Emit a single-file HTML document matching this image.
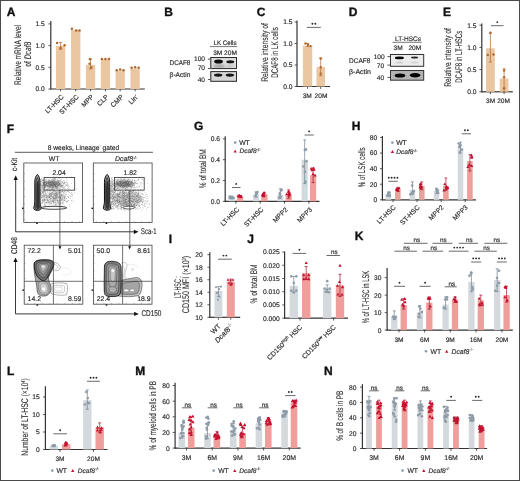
<!DOCTYPE html>
<html><head><meta charset="utf-8"><style>html,body{margin:0;padding:0;background:#fff;width:520px;height:481px;overflow:hidden}svg{display:block;will-change:transform}</style></head>
<body><svg width="520" height="481" viewBox="0 0 520 481" font-family='"Liberation Sans", sans-serif' text-rendering="geometricPrecision"><rect x="0.5" y="0.5" width="519" height="480" fill="#fff" stroke="#4a4a4a" stroke-width="1"/>
<text x="6.80" y="16.20" font-size="12" text-anchor="start" fill="#111" stroke="#111" stroke-width="0.35" font-weight="bold">A</text>
<line x1="50.80" y1="21.00" x2="50.80" y2="89.50" stroke="#333333" stroke-width="1.2"/>
<line x1="48.40" y1="23.90" x2="50.80" y2="23.90" stroke="#333333" stroke-width="0.8"/>
<text x="44.70" y="26.30" font-size="6.7" text-anchor="end" fill="#2a2a2a" stroke="#2a2a2a" stroke-width="0.16">1.5</text>
<line x1="48.40" y1="45.60" x2="50.80" y2="45.60" stroke="#333333" stroke-width="0.8"/>
<text x="44.70" y="48.00" font-size="6.7" text-anchor="end" fill="#2a2a2a" stroke="#2a2a2a" stroke-width="0.16">1.0</text>
<line x1="48.40" y1="67.30" x2="50.80" y2="67.30" stroke="#333333" stroke-width="0.8"/>
<text x="44.70" y="69.70" font-size="6.7" text-anchor="end" fill="#2a2a2a" stroke="#2a2a2a" stroke-width="0.16">0.5</text>
<line x1="48.40" y1="89.00" x2="50.80" y2="89.00" stroke="#333333" stroke-width="0.8"/>
<text x="44.70" y="91.40" font-size="6.7" text-anchor="end" fill="#2a2a2a" stroke="#2a2a2a" stroke-width="0.16">0.0</text>
<line x1="50.50" y1="89.00" x2="144.80" y2="89.00" stroke="#333333" stroke-width="1.2"/>
<line x1="60.60" y1="89.00" x2="60.60" y2="91.40" stroke="#333333" stroke-width="0.8"/>
<line x1="75.70" y1="89.00" x2="75.70" y2="91.40" stroke="#333333" stroke-width="0.8"/>
<line x1="90.60" y1="89.00" x2="90.60" y2="91.40" stroke="#333333" stroke-width="0.8"/>
<line x1="105.40" y1="89.00" x2="105.40" y2="91.40" stroke="#333333" stroke-width="0.8"/>
<line x1="120.20" y1="89.00" x2="120.20" y2="91.40" stroke="#333333" stroke-width="0.8"/>
<line x1="135.10" y1="89.00" x2="135.10" y2="91.40" stroke="#333333" stroke-width="0.8"/>
<rect x="55.95" y="45.82" width="9.30" height="43.18" fill="#EAC6A1"/>
<line x1="60.60" y1="49.29" x2="60.60" y2="42.56" stroke="#AE672C" stroke-width="0.7"/>
<line x1="59.00" y1="42.56" x2="62.20" y2="42.56" stroke="#AE672C" stroke-width="0.7"/>
<line x1="59.00" y1="49.29" x2="62.20" y2="49.29" stroke="#AE672C" stroke-width="0.7"/>
<circle cx="57.10" cy="43.00" r="1.25" fill="#AE672C"/>
<circle cx="64.60" cy="45.17" r="1.25" fill="#AE672C"/>
<circle cx="60.60" cy="47.99" r="1.25" fill="#AE672C"/>
<rect x="71.05" y="29.98" width="9.30" height="59.02" fill="#EAC6A1"/>
<circle cx="71.90" cy="28.67" r="1.25" fill="#AE672C"/>
<circle cx="76.20" cy="30.41" r="1.25" fill="#AE672C"/>
<circle cx="79.50" cy="30.41" r="1.25" fill="#AE672C"/>
<rect x="85.95" y="64.87" width="9.30" height="24.13" fill="#EAC6A1"/>
<line x1="90.60" y1="68.82" x2="90.60" y2="58.84" stroke="#AE672C" stroke-width="0.7"/>
<line x1="89.00" y1="58.84" x2="92.20" y2="58.84" stroke="#AE672C" stroke-width="0.7"/>
<line x1="89.00" y1="68.82" x2="92.20" y2="68.82" stroke="#AE672C" stroke-width="0.7"/>
<circle cx="90.00" cy="59.27" r="1.25" fill="#AE672C"/>
<circle cx="89.60" cy="63.83" r="1.25" fill="#AE672C"/>
<circle cx="91.20" cy="67.52" r="1.25" fill="#AE672C"/>
<rect x="100.75" y="59.23" width="9.30" height="29.77" fill="#EAC6A1"/>
<circle cx="101.90" cy="59.05" r="1.25" fill="#AE672C"/>
<circle cx="105.40" cy="59.05" r="1.25" fill="#AE672C"/>
<circle cx="108.90" cy="59.05" r="1.25" fill="#AE672C"/>
<rect x="115.55" y="70.64" width="9.30" height="18.36" fill="#EAC6A1"/>
<circle cx="116.70" cy="70.34" r="1.25" fill="#AE672C"/>
<circle cx="120.20" cy="69.47" r="1.25" fill="#AE672C"/>
<circle cx="123.50" cy="70.34" r="1.25" fill="#AE672C"/>
<rect x="130.45" y="68.60" width="9.30" height="20.40" fill="#EAC6A1"/>
<circle cx="131.60" cy="67.73" r="1.25" fill="#AE672C"/>
<circle cx="135.10" cy="67.30" r="1.25" fill="#AE672C"/>
<circle cx="138.60" cy="67.73" r="1.25" fill="#AE672C"/>
<text x="64.20" y="97.30" font-size="6.7" text-anchor="end" fill="#2a2a2a" stroke="#2a2a2a" stroke-width="0.16" transform="rotate(-45 64.20 97.30)">LT-HSC</text>
<text x="79.30" y="97.30" font-size="6.7" text-anchor="end" fill="#2a2a2a" stroke="#2a2a2a" stroke-width="0.16" transform="rotate(-45 79.30 97.30)">ST-HSC</text>
<text x="94.20" y="97.30" font-size="6.7" text-anchor="end" fill="#2a2a2a" stroke="#2a2a2a" stroke-width="0.16" transform="rotate(-45 94.20 97.30)">MPP</text>
<text x="109.00" y="97.30" font-size="6.7" text-anchor="end" fill="#2a2a2a" stroke="#2a2a2a" stroke-width="0.16" transform="rotate(-45 109.00 97.30)">CLP</text>
<text x="123.80" y="97.30" font-size="6.7" text-anchor="end" fill="#2a2a2a" stroke="#2a2a2a" stroke-width="0.16" transform="rotate(-45 123.80 97.30)">CMP</text>
<text x="138.70" y="97.30" font-size="6.7" text-anchor="end" fill="#2a2a2a" stroke="#2a2a2a" stroke-width="0.16" transform="rotate(-45 138.70 97.30)">Lin<tspan font-size="4.5" dy="-2.5">-</tspan></text>
<text x="20.80" y="55.00" font-size="9.6" text-anchor="middle" fill="#2a2a2a" stroke="#2a2a2a" stroke-width="0.08" transform="rotate(-90 20.80 55.00)" textLength="60" lengthAdjust="spacingAndGlyphs">Relative mRNA level</text>
<text x="31.10" y="54.20" font-size="9.6" text-anchor="middle" fill="#2a2a2a" stroke="#2a2a2a" stroke-width="0.08" transform="rotate(-90 31.10 54.20)" textLength="25" lengthAdjust="spacingAndGlyphs">of <tspan font-style="italic">Dcaf8</tspan></text>
<text x="164.30" y="16.20" font-size="12" text-anchor="start" fill="#111" stroke="#111" stroke-width="0.35" font-weight="bold">B</text>
<text x="225.00" y="45.00" font-size="6.6" text-anchor="middle" fill="#2a2a2a" stroke="#2a2a2a" stroke-width="0.16" textLength="23" lengthAdjust="spacingAndGlyphs">LK Cells</text>
<line x1="210.00" y1="46.60" x2="237.30" y2="46.60" stroke="#555" stroke-width="0.8"/>
<text x="217.80" y="54.70" font-size="6.6" text-anchor="middle" fill="#2a2a2a" stroke="#2a2a2a" stroke-width="0.16">3M</text>
<text x="230.50" y="54.70" font-size="6.6" text-anchor="middle" fill="#2a2a2a" stroke="#2a2a2a" stroke-width="0.16">20M</text>
<text x="169.60" y="65.30" font-size="6.8" text-anchor="start" fill="#2a2a2a" stroke="#2a2a2a" stroke-width="0.16" textLength="20.8" lengthAdjust="spacingAndGlyphs">DCAF8</text>
<text x="169.60" y="77.30" font-size="6.8" text-anchor="start" fill="#2a2a2a" stroke="#2a2a2a" stroke-width="0.16" textLength="20.8" lengthAdjust="spacingAndGlyphs">&#946;-Actin</text>
<text x="205.00" y="61.00" font-size="6.6" text-anchor="end" fill="#2a2a2a" stroke="#2a2a2a" stroke-width="0.16">100</text>
<text x="205.00" y="70.20" font-size="6.6" text-anchor="end" fill="#2a2a2a" stroke="#2a2a2a" stroke-width="0.16">70</text>
<text x="205.00" y="81.80" font-size="6.6" text-anchor="end" fill="#2a2a2a" stroke="#2a2a2a" stroke-width="0.16">40</text>
<line x1="207.90" y1="59.10" x2="210.50" y2="59.10" stroke="#444" stroke-width="0.9"/>
<line x1="207.90" y1="68.50" x2="210.50" y2="68.50" stroke="#444" stroke-width="0.9"/>
<line x1="207.90" y1="79.50" x2="210.50" y2="79.50" stroke="#444" stroke-width="0.9"/>
<text x="256.80" y="16.20" font-size="12" text-anchor="start" fill="#111" stroke="#111" stroke-width="0.35" font-weight="bold">C</text>
<line x1="297.00" y1="20.50" x2="297.00" y2="87.00" stroke="#333333" stroke-width="1.2"/>
<line x1="294.60" y1="22.00" x2="297.00" y2="22.00" stroke="#333333" stroke-width="0.8"/>
<text x="292.60" y="24.40" font-size="6.7" text-anchor="end" fill="#2a2a2a" stroke="#2a2a2a" stroke-width="0.16">1.5</text>
<line x1="294.60" y1="43.50" x2="297.00" y2="43.50" stroke="#333333" stroke-width="0.8"/>
<text x="292.60" y="45.90" font-size="6.7" text-anchor="end" fill="#2a2a2a" stroke="#2a2a2a" stroke-width="0.16">1.0</text>
<line x1="294.60" y1="65.00" x2="297.00" y2="65.00" stroke="#333333" stroke-width="0.8"/>
<text x="292.60" y="67.40" font-size="6.7" text-anchor="end" fill="#2a2a2a" stroke="#2a2a2a" stroke-width="0.16">0.5</text>
<line x1="294.60" y1="86.50" x2="297.00" y2="86.50" stroke="#333333" stroke-width="0.8"/>
<text x="292.60" y="88.90" font-size="6.7" text-anchor="end" fill="#2a2a2a" stroke="#2a2a2a" stroke-width="0.16">0.0</text>
<line x1="296.50" y1="86.50" x2="330.00" y2="86.50" stroke="#333333" stroke-width="1.2"/>
<line x1="307.60" y1="86.50" x2="307.60" y2="88.90" stroke="#333333" stroke-width="0.8"/>
<line x1="320.70" y1="86.50" x2="320.70" y2="88.90" stroke="#333333" stroke-width="0.8"/>
<rect x="302.95" y="45.65" width="9.30" height="40.85" fill="#EAC6A1"/>
<rect x="316.45" y="67.15" width="8.50" height="19.35" fill="#EAC6A1"/>
<line x1="307.60" y1="46.51" x2="307.60" y2="43.50" stroke="#AE672C" stroke-width="0.7"/>
<line x1="306.00" y1="43.50" x2="309.20" y2="43.50" stroke="#AE672C" stroke-width="0.7"/>
<line x1="306.00" y1="46.51" x2="309.20" y2="46.51" stroke="#AE672C" stroke-width="0.7"/>
<line x1="320.70" y1="75.75" x2="320.70" y2="58.12" stroke="#AE672C" stroke-width="0.7"/>
<line x1="319.10" y1="58.12" x2="322.30" y2="58.12" stroke="#AE672C" stroke-width="0.7"/>
<line x1="319.10" y1="75.75" x2="322.30" y2="75.75" stroke="#AE672C" stroke-width="0.7"/>
<circle cx="305.50" cy="43.50" r="1.2" fill="#AE672C"/>
<circle cx="308.00" cy="44.79" r="1.2" fill="#AE672C"/>
<circle cx="310.50" cy="46.08" r="1.2" fill="#AE672C"/>
<circle cx="320.70" cy="58.55" r="1.2" fill="#AE672C"/>
<circle cx="320.70" cy="67.15" r="1.2" fill="#AE672C"/>
<circle cx="320.70" cy="73.60" r="1.2" fill="#AE672C"/>
<line x1="306.90" y1="27.40" x2="320.80" y2="27.40" stroke="#444" stroke-width="0.8"/>
<circle cx="312.40" cy="23.80" r="0.95" fill="#2a2a2a"/>
<circle cx="315.30" cy="23.80" r="0.95" fill="#2a2a2a"/>
<text x="307.30" y="98.20" font-size="6.6" text-anchor="middle" fill="#2a2a2a" stroke="#2a2a2a" stroke-width="0.16">3M</text>
<text x="321.00" y="98.20" font-size="6.6" text-anchor="middle" fill="#2a2a2a" stroke="#2a2a2a" stroke-width="0.16">20M</text>
<text x="268.00" y="52.45" font-size="9.6" text-anchor="middle" fill="#2a2a2a" stroke="#2a2a2a" stroke-width="0.08" transform="rotate(-90 268.00 52.45)" textLength="58.7" lengthAdjust="spacingAndGlyphs">Relative intensity of</text>
<text x="278.40" y="52.50" font-size="9.6" text-anchor="middle" fill="#2a2a2a" stroke="#2a2a2a" stroke-width="0.08" transform="rotate(-90 278.40 52.50)" textLength="50.6" lengthAdjust="spacingAndGlyphs">DCAF8 in LK cells</text>
<text x="348.80" y="16.20" font-size="12" text-anchor="start" fill="#111" stroke="#111" stroke-width="0.35" font-weight="bold">D</text>
<text x="408.00" y="40.60" font-size="6.6" text-anchor="middle" fill="#2a2a2a" stroke="#2a2a2a" stroke-width="0.16" textLength="26" lengthAdjust="spacingAndGlyphs">LT-HSCs</text>
<line x1="392.40" y1="42.30" x2="421.80" y2="42.30" stroke="#555" stroke-width="0.8"/>
<text x="398.20" y="50.40" font-size="6.6" text-anchor="middle" fill="#2a2a2a" stroke="#2a2a2a" stroke-width="0.16">3M</text>
<text x="414.80" y="50.40" font-size="6.6" text-anchor="middle" fill="#2a2a2a" stroke="#2a2a2a" stroke-width="0.16">20M</text>
<text x="349.00" y="62.70" font-size="6.8" text-anchor="start" fill="#2a2a2a" stroke="#2a2a2a" stroke-width="0.16" textLength="21.3" lengthAdjust="spacingAndGlyphs">DCAF8</text>
<text x="349.00" y="74.20" font-size="6.8" text-anchor="start" fill="#2a2a2a" stroke="#2a2a2a" stroke-width="0.16" textLength="22" lengthAdjust="spacingAndGlyphs">&#946;-Actin</text>
<text x="384.70" y="58.90" font-size="6.6" text-anchor="end" fill="#2a2a2a" stroke="#2a2a2a" stroke-width="0.16">100</text>
<text x="384.20" y="68.00" font-size="6.6" text-anchor="end" fill="#2a2a2a" stroke="#2a2a2a" stroke-width="0.16">70</text>
<text x="384.20" y="79.90" font-size="6.6" text-anchor="end" fill="#2a2a2a" stroke="#2a2a2a" stroke-width="0.16">40</text>
<line x1="387.40" y1="56.60" x2="390.40" y2="56.60" stroke="#444" stroke-width="0.9"/>
<line x1="387.40" y1="65.10" x2="390.40" y2="65.10" stroke="#444" stroke-width="0.9"/>
<line x1="387.40" y1="77.40" x2="390.40" y2="77.40" stroke="#444" stroke-width="0.9"/>
<text x="443.10" y="16.20" font-size="12" text-anchor="start" fill="#111" stroke="#111" stroke-width="0.35" font-weight="bold">E</text>
<line x1="481.80" y1="23.50" x2="481.80" y2="92.30" stroke="#333333" stroke-width="1.2"/>
<line x1="479.40" y1="25.20" x2="481.80" y2="25.20" stroke="#333333" stroke-width="0.8"/>
<text x="476.60" y="27.60" font-size="6.7" text-anchor="end" fill="#2a2a2a" stroke="#2a2a2a" stroke-width="0.16">1.5</text>
<line x1="479.40" y1="47.40" x2="481.80" y2="47.40" stroke="#333333" stroke-width="0.8"/>
<text x="476.60" y="49.80" font-size="6.7" text-anchor="end" fill="#2a2a2a" stroke="#2a2a2a" stroke-width="0.16">1.0</text>
<line x1="479.40" y1="69.60" x2="481.80" y2="69.60" stroke="#333333" stroke-width="0.8"/>
<text x="476.60" y="72.00" font-size="6.7" text-anchor="end" fill="#2a2a2a" stroke="#2a2a2a" stroke-width="0.16">0.5</text>
<line x1="479.40" y1="91.80" x2="481.80" y2="91.80" stroke="#333333" stroke-width="0.8"/>
<text x="476.60" y="94.20" font-size="6.7" text-anchor="end" fill="#2a2a2a" stroke="#2a2a2a" stroke-width="0.16">0.0</text>
<line x1="481.30" y1="91.80" x2="512.80" y2="91.80" stroke="#333333" stroke-width="1.2"/>
<line x1="490.40" y1="91.80" x2="490.40" y2="94.20" stroke="#333333" stroke-width="0.8"/>
<line x1="504.10" y1="91.80" x2="504.10" y2="94.20" stroke="#333333" stroke-width="0.8"/>
<rect x="486.00" y="48.29" width="8.80" height="43.51" fill="#EAC6A1"/>
<rect x="499.75" y="78.48" width="8.70" height="13.32" fill="#EAC6A1"/>
<line x1="490.40" y1="62.05" x2="490.40" y2="33.19" stroke="#AE672C" stroke-width="0.7"/>
<line x1="488.80" y1="33.19" x2="492.00" y2="33.19" stroke="#AE672C" stroke-width="0.7"/>
<line x1="488.80" y1="62.05" x2="492.00" y2="62.05" stroke="#AE672C" stroke-width="0.7"/>
<line x1="504.10" y1="91.80" x2="504.10" y2="68.71" stroke="#AE672C" stroke-width="0.7"/>
<line x1="502.50" y1="68.71" x2="505.70" y2="68.71" stroke="#AE672C" stroke-width="0.7"/>
<line x1="502.50" y1="91.80" x2="505.70" y2="91.80" stroke="#AE672C" stroke-width="0.7"/>
<circle cx="490.40" cy="32.75" r="1.2" fill="#AE672C"/>
<circle cx="487.80" cy="54.95" r="1.2" fill="#AE672C"/>
<circle cx="493.50" cy="54.50" r="1.2" fill="#AE672C"/>
<circle cx="504.10" cy="70.49" r="1.2" fill="#AE672C"/>
<circle cx="504.10" cy="77.15" r="1.2" fill="#AE672C"/>
<circle cx="504.10" cy="88.25" r="1.2" fill="#AE672C"/>
<line x1="491.00" y1="25.70" x2="503.50" y2="25.70" stroke="#444" stroke-width="0.8"/>
<circle cx="497.25" cy="22.10" r="0.95" fill="#2a2a2a"/>
<text x="490.60" y="102.70" font-size="6.6" text-anchor="middle" fill="#2a2a2a" stroke="#2a2a2a" stroke-width="0.16">3M</text>
<text x="503.60" y="102.70" font-size="6.6" text-anchor="middle" fill="#2a2a2a" stroke="#2a2a2a" stroke-width="0.16">20M</text>
<text x="451.40" y="57.40" font-size="9.6" text-anchor="middle" fill="#2a2a2a" stroke="#2a2a2a" stroke-width="0.08" transform="rotate(-90 451.40 57.40)" textLength="58.8" lengthAdjust="spacingAndGlyphs">Relative intensity of</text>
<text x="461.60" y="56.80" font-size="9.6" text-anchor="middle" fill="#2a2a2a" stroke="#2a2a2a" stroke-width="0.08" transform="rotate(-90 461.60 56.80)" textLength="52" lengthAdjust="spacingAndGlyphs">DCAF8 in LT-HSCs</text>
<text x="194.10" y="130.30" font-size="12" text-anchor="start" fill="#111" stroke="#111" stroke-width="0.35" font-weight="bold">G</text>
<line x1="225.20" y1="136.30" x2="225.20" y2="201.80" stroke="#333333" stroke-width="1.2"/>
<line x1="222.80" y1="138.90" x2="225.20" y2="138.90" stroke="#333333" stroke-width="0.8"/>
<text x="220.00" y="141.30" font-size="6.7" text-anchor="end" fill="#2a2a2a" stroke="#2a2a2a" stroke-width="0.16">0.6</text>
<line x1="222.80" y1="159.70" x2="225.20" y2="159.70" stroke="#333333" stroke-width="0.8"/>
<text x="220.00" y="162.10" font-size="6.7" text-anchor="end" fill="#2a2a2a" stroke="#2a2a2a" stroke-width="0.16">0.4</text>
<line x1="222.80" y1="180.50" x2="225.20" y2="180.50" stroke="#333333" stroke-width="0.8"/>
<text x="220.00" y="182.90" font-size="6.7" text-anchor="end" fill="#2a2a2a" stroke="#2a2a2a" stroke-width="0.16">0.2</text>
<line x1="222.80" y1="201.30" x2="225.20" y2="201.30" stroke="#333333" stroke-width="0.8"/>
<text x="220.00" y="203.70" font-size="6.7" text-anchor="end" fill="#2a2a2a" stroke="#2a2a2a" stroke-width="0.16">0.0</text>
<line x1="224.50" y1="201.30" x2="319.50" y2="201.30" stroke="#333333" stroke-width="1.2"/>
<line x1="235.90" y1="201.30" x2="235.90" y2="203.70" stroke="#333333" stroke-width="0.8"/>
<line x1="260.20" y1="201.30" x2="260.20" y2="203.70" stroke="#333333" stroke-width="0.8"/>
<line x1="284.50" y1="201.30" x2="284.50" y2="203.70" stroke="#333333" stroke-width="0.8"/>
<line x1="308.90" y1="201.30" x2="308.90" y2="203.70" stroke="#333333" stroke-width="0.8"/>
<rect x="228.60" y="197.14" width="6.20" height="4.16" fill="#D4D9DE"/>
<rect x="237.00" y="196.62" width="6.20" height="4.68" fill="#EF9E9C"/>
<line x1="231.70" y1="198.18" x2="231.70" y2="196.10" stroke="#6F7E8A" stroke-width="0.7"/>
<line x1="230.20" y1="196.10" x2="233.20" y2="196.10" stroke="#6F7E8A" stroke-width="0.7"/>
<line x1="230.20" y1="198.18" x2="233.20" y2="198.18" stroke="#6F7E8A" stroke-width="0.7"/>
<line x1="240.10" y1="197.66" x2="240.10" y2="195.58" stroke="#A8102A" stroke-width="0.7"/>
<line x1="238.60" y1="195.58" x2="241.60" y2="195.58" stroke="#A8102A" stroke-width="0.7"/>
<line x1="238.60" y1="197.66" x2="241.60" y2="197.66" stroke="#A8102A" stroke-width="0.7"/>
<circle cx="233.09" cy="197.90" r="1.3" fill="#8D9CA8"/>
<path d="M239.12 194.37L240.74 197.26L237.51 197.26Z" fill="#C5102F"/>
<circle cx="231.50" cy="197.15" r="1.3" fill="#8D9CA8"/>
<path d="M241.25 194.60L242.87 197.49L239.64 197.49Z" fill="#C5102F"/>
<circle cx="229.81" cy="197.98" r="1.3" fill="#8D9CA8"/>
<path d="M239.83 194.22L241.45 197.11L238.22 197.11Z" fill="#C5102F"/>
<circle cx="229.71" cy="196.59" r="1.3" fill="#8D9CA8"/>
<path d="M240.99 195.03L242.60 197.92L239.37 197.92Z" fill="#C5102F"/>
<circle cx="233.48" cy="197.70" r="1.3" fill="#8D9CA8"/>
<path d="M238.22 194.09L239.84 196.98L236.61 196.98Z" fill="#C5102F"/>
<circle cx="231.87" cy="198.13" r="1.3" fill="#8D9CA8"/>
<path d="M239.62 194.01L241.24 196.90L238.01 196.90Z" fill="#C5102F"/>
<rect x="252.90" y="194.54" width="6.20" height="6.76" fill="#D4D9DE"/>
<rect x="261.30" y="194.02" width="6.20" height="7.28" fill="#EF9E9C"/>
<line x1="256.00" y1="197.14" x2="256.00" y2="191.94" stroke="#6F7E8A" stroke-width="0.7"/>
<line x1="254.50" y1="191.94" x2="257.50" y2="191.94" stroke="#6F7E8A" stroke-width="0.7"/>
<line x1="254.50" y1="197.14" x2="257.50" y2="197.14" stroke="#6F7E8A" stroke-width="0.7"/>
<line x1="264.40" y1="196.10" x2="264.40" y2="192.46" stroke="#A8102A" stroke-width="0.7"/>
<line x1="262.90" y1="192.46" x2="265.90" y2="192.46" stroke="#A8102A" stroke-width="0.7"/>
<line x1="262.90" y1="196.10" x2="265.90" y2="196.10" stroke="#A8102A" stroke-width="0.7"/>
<circle cx="255.69" cy="196.01" r="1.3" fill="#8D9CA8"/>
<path d="M263.29 194.29L264.90 197.18L261.67 197.18Z" fill="#C5102F"/>
<circle cx="255.98" cy="194.86" r="1.3" fill="#8D9CA8"/>
<path d="M263.32 193.55L264.94 196.44L261.71 196.44Z" fill="#C5102F"/>
<circle cx="255.84" cy="196.00" r="1.3" fill="#8D9CA8"/>
<path d="M262.49 193.35L264.10 196.24L260.87 196.24Z" fill="#C5102F"/>
<circle cx="256.23" cy="192.78" r="1.3" fill="#8D9CA8"/>
<path d="M263.14 192.06L264.76 194.95L261.53 194.95Z" fill="#C5102F"/>
<circle cx="257.44" cy="191.98" r="1.3" fill="#8D9CA8"/>
<path d="M263.73 193.96L265.35 196.85L262.12 196.85Z" fill="#C5102F"/>
<circle cx="256.84" cy="193.39" r="1.3" fill="#8D9CA8"/>
<path d="M264.09 190.99L265.70 193.88L262.47 193.88Z" fill="#C5102F"/>
<rect x="277.20" y="195.06" width="6.20" height="6.24" fill="#D4D9DE"/>
<rect x="285.60" y="194.54" width="6.20" height="6.76" fill="#EF9E9C"/>
<line x1="280.30" y1="198.18" x2="280.30" y2="188.82" stroke="#6F7E8A" stroke-width="0.7"/>
<line x1="278.80" y1="188.82" x2="281.80" y2="188.82" stroke="#6F7E8A" stroke-width="0.7"/>
<line x1="278.80" y1="198.18" x2="281.80" y2="198.18" stroke="#6F7E8A" stroke-width="0.7"/>
<line x1="288.70" y1="198.18" x2="288.70" y2="189.86" stroke="#A8102A" stroke-width="0.7"/>
<line x1="287.20" y1="189.86" x2="290.20" y2="189.86" stroke="#A8102A" stroke-width="0.7"/>
<line x1="287.20" y1="198.18" x2="290.20" y2="198.18" stroke="#A8102A" stroke-width="0.7"/>
<circle cx="280.98" cy="190.41" r="1.3" fill="#8D9CA8"/>
<path d="M289.05 193.96L290.67 196.85L287.44 196.85Z" fill="#C5102F"/>
<circle cx="281.68" cy="189.92" r="1.3" fill="#8D9CA8"/>
<path d="M289.06 192.28L290.67 195.17L287.44 195.17Z" fill="#C5102F"/>
<circle cx="279.27" cy="197.86" r="1.3" fill="#8D9CA8"/>
<path d="M288.36 189.85L289.97 192.74L286.74 192.74Z" fill="#C5102F"/>
<circle cx="280.50" cy="196.56" r="1.3" fill="#8D9CA8"/>
<path d="M289.40 190.63L291.01 193.52L287.78 193.52Z" fill="#C5102F"/>
<circle cx="280.06" cy="194.67" r="1.3" fill="#8D9CA8"/>
<path d="M289.81 192.25L291.43 195.14L288.20 195.14Z" fill="#C5102F"/>
<circle cx="279.87" cy="193.30" r="1.3" fill="#8D9CA8"/>
<path d="M286.82 192.41L288.43 195.30L285.20 195.30Z" fill="#C5102F"/>
<rect x="301.60" y="159.70" width="6.20" height="41.60" fill="#D4D9DE"/>
<rect x="310.00" y="175.30" width="6.20" height="26.00" fill="#EF9E9C"/>
<line x1="304.70" y1="183.62" x2="304.70" y2="139.94" stroke="#6F7E8A" stroke-width="0.7"/>
<line x1="303.20" y1="139.94" x2="306.20" y2="139.94" stroke="#6F7E8A" stroke-width="0.7"/>
<line x1="303.20" y1="183.62" x2="306.20" y2="183.62" stroke="#6F7E8A" stroke-width="0.7"/>
<line x1="313.10" y1="182.58" x2="313.10" y2="168.02" stroke="#A8102A" stroke-width="0.7"/>
<line x1="311.60" y1="168.02" x2="314.60" y2="168.02" stroke="#A8102A" stroke-width="0.7"/>
<line x1="311.60" y1="182.58" x2="314.60" y2="182.58" stroke="#A8102A" stroke-width="0.7"/>
<circle cx="305.51" cy="181.72" r="1.3" fill="#8D9CA8"/>
<path d="M313.47 166.56L315.09 169.45L311.86 169.45Z" fill="#C5102F"/>
<circle cx="303.38" cy="166.43" r="1.3" fill="#8D9CA8"/>
<path d="M315.03 173.57L316.64 176.46L313.41 176.46Z" fill="#C5102F"/>
<circle cx="304.86" cy="149.96" r="1.3" fill="#8D9CA8"/>
<path d="M312.03 168.35L313.64 171.24L310.41 171.24Z" fill="#C5102F"/>
<circle cx="306.51" cy="161.18" r="1.3" fill="#8D9CA8"/>
<path d="M312.94 172.47L314.55 175.36L311.32 175.36Z" fill="#C5102F"/>
<circle cx="304.89" cy="171.86" r="1.3" fill="#8D9CA8"/>
<path d="M311.12 166.94L312.74 169.83L309.51 169.83Z" fill="#C5102F"/>
<circle cx="305.98" cy="149.39" r="1.3" fill="#8D9CA8"/>
<path d="M314.06 167.98L315.68 170.87L312.45 170.87Z" fill="#C5102F"/>
<line x1="232.00" y1="187.50" x2="240.50" y2="187.50" stroke="#444" stroke-width="0.8"/>
<circle cx="236.25" cy="183.90" r="0.95" fill="#2a2a2a"/>
<line x1="304.50" y1="135.00" x2="313.80" y2="135.00" stroke="#444" stroke-width="0.8"/>
<circle cx="309.15" cy="131.40" r="0.95" fill="#2a2a2a"/>
<text x="239.70" y="210.00" font-size="6.7" text-anchor="end" fill="#2a2a2a" stroke="#2a2a2a" stroke-width="0.16" transform="rotate(-45 239.70 210.00)">LT-HSC</text>
<text x="264.00" y="210.00" font-size="6.7" text-anchor="end" fill="#2a2a2a" stroke="#2a2a2a" stroke-width="0.16" transform="rotate(-45 264.00 210.00)">ST-HSC</text>
<text x="288.30" y="210.00" font-size="6.7" text-anchor="end" fill="#2a2a2a" stroke="#2a2a2a" stroke-width="0.16" transform="rotate(-45 288.30 210.00)">MPP2</text>
<text x="312.70" y="210.00" font-size="6.7" text-anchor="end" fill="#2a2a2a" stroke="#2a2a2a" stroke-width="0.16" transform="rotate(-45 312.70 210.00)">MPP3</text>
<text x="206.00" y="168.70" font-size="9.6" text-anchor="middle" fill="#2a2a2a" stroke="#2a2a2a" stroke-width="0.08" transform="rotate(-90 206.00 168.70)" textLength="39" lengthAdjust="spacingAndGlyphs">% of total BM</text>
<circle cx="235.20" cy="142.60" r="1.3" fill="#8D9CA8"/>
<text x="239.20" y="144.80" font-size="6.8" text-anchor="start" fill="#2a2a2a" stroke="#2a2a2a" stroke-width="0.16">WT</text>
<path d="M235.20 149.70L236.81 152.59L233.58 152.59Z" fill="#C5102F"/>
<text x="239.40" y="153.40" font-size="6.6" text-anchor="start" fill="#2a2a2a" stroke="#2a2a2a" stroke-width="0.16"><tspan font-style="italic">Dcaf8</tspan><tspan font-size="4.2" dy="-2.6">-/-</tspan></text>
<text x="351.80" y="130.20" font-size="12" text-anchor="start" fill="#111" stroke="#111" stroke-width="0.35" font-weight="bold">H</text>
<line x1="382.40" y1="136.00" x2="382.40" y2="200.30" stroke="#333333" stroke-width="1.2"/>
<line x1="380.00" y1="137.48" x2="382.40" y2="137.48" stroke="#333333" stroke-width="0.8"/>
<text x="377.20" y="139.88" font-size="6.7" text-anchor="end" fill="#2a2a2a" stroke="#2a2a2a" stroke-width="0.16">80</text>
<line x1="380.00" y1="153.06" x2="382.40" y2="153.06" stroke="#333333" stroke-width="0.8"/>
<text x="377.20" y="155.46" font-size="6.7" text-anchor="end" fill="#2a2a2a" stroke="#2a2a2a" stroke-width="0.16">60</text>
<line x1="380.00" y1="168.64" x2="382.40" y2="168.64" stroke="#333333" stroke-width="0.8"/>
<text x="377.20" y="171.04" font-size="6.7" text-anchor="end" fill="#2a2a2a" stroke="#2a2a2a" stroke-width="0.16">40</text>
<line x1="380.00" y1="184.22" x2="382.40" y2="184.22" stroke="#333333" stroke-width="0.8"/>
<text x="377.20" y="186.62" font-size="6.7" text-anchor="end" fill="#2a2a2a" stroke="#2a2a2a" stroke-width="0.16">20</text>
<line x1="380.00" y1="199.80" x2="382.40" y2="199.80" stroke="#333333" stroke-width="0.8"/>
<text x="377.20" y="202.20" font-size="6.7" text-anchor="end" fill="#2a2a2a" stroke="#2a2a2a" stroke-width="0.16">0</text>
<line x1="381.90" y1="199.80" x2="476.00" y2="199.80" stroke="#333333" stroke-width="1.2"/>
<line x1="393.10" y1="199.80" x2="393.10" y2="202.20" stroke="#333333" stroke-width="0.8"/>
<line x1="417.10" y1="199.80" x2="417.10" y2="202.20" stroke="#333333" stroke-width="0.8"/>
<line x1="441.20" y1="199.80" x2="441.20" y2="202.20" stroke="#333333" stroke-width="0.8"/>
<line x1="465.20" y1="199.80" x2="465.20" y2="202.20" stroke="#333333" stroke-width="0.8"/>
<rect x="385.60" y="193.57" width="5.60" height="6.23" fill="#D4D9DE"/>
<rect x="395.00" y="188.89" width="5.60" height="10.91" fill="#EF9E9C"/>
<line x1="388.40" y1="195.91" x2="388.40" y2="192.01" stroke="#6F7E8A" stroke-width="0.7"/>
<line x1="387.00" y1="192.01" x2="389.80" y2="192.01" stroke="#6F7E8A" stroke-width="0.7"/>
<line x1="387.00" y1="195.91" x2="389.80" y2="195.91" stroke="#6F7E8A" stroke-width="0.7"/>
<line x1="397.80" y1="191.23" x2="397.80" y2="187.34" stroke="#A8102A" stroke-width="0.7"/>
<line x1="396.40" y1="187.34" x2="399.20" y2="187.34" stroke="#A8102A" stroke-width="0.7"/>
<line x1="396.40" y1="191.23" x2="399.20" y2="191.23" stroke="#A8102A" stroke-width="0.7"/>
<circle cx="388.47" cy="192.75" r="1.3" fill="#8D9CA8"/>
<path d="M397.50 187.34L399.12 190.23L395.89 190.23Z" fill="#C5102F"/>
<circle cx="389.88" cy="195.69" r="1.3" fill="#8D9CA8"/>
<path d="M396.60 187.31L398.21 190.20L394.98 190.20Z" fill="#C5102F"/>
<circle cx="388.34" cy="193.94" r="1.3" fill="#8D9CA8"/>
<path d="M397.18 188.14L398.80 191.03L395.57 191.03Z" fill="#C5102F"/>
<circle cx="388.89" cy="193.81" r="1.3" fill="#8D9CA8"/>
<path d="M397.63 187.15L399.25 190.04L396.02 190.04Z" fill="#C5102F"/>
<circle cx="387.32" cy="195.80" r="1.3" fill="#8D9CA8"/>
<path d="M398.14 188.84L399.75 191.73L396.52 191.73Z" fill="#C5102F"/>
<circle cx="389.59" cy="192.55" r="1.3" fill="#8D9CA8"/>
<path d="M399.07 186.43L400.68 189.32L397.45 189.32Z" fill="#C5102F"/>
<rect x="409.60" y="190.06" width="5.60" height="9.74" fill="#D4D9DE"/>
<rect x="419.00" y="185.78" width="5.60" height="14.02" fill="#EF9E9C"/>
<line x1="412.40" y1="194.35" x2="412.40" y2="181.88" stroke="#6F7E8A" stroke-width="0.7"/>
<line x1="411.00" y1="181.88" x2="413.80" y2="181.88" stroke="#6F7E8A" stroke-width="0.7"/>
<line x1="411.00" y1="194.35" x2="413.80" y2="194.35" stroke="#6F7E8A" stroke-width="0.7"/>
<line x1="421.80" y1="189.67" x2="421.80" y2="181.88" stroke="#A8102A" stroke-width="0.7"/>
<line x1="420.40" y1="181.88" x2="423.20" y2="181.88" stroke="#A8102A" stroke-width="0.7"/>
<line x1="420.40" y1="189.67" x2="423.20" y2="189.67" stroke="#A8102A" stroke-width="0.7"/>
<circle cx="413.77" cy="191.17" r="1.3" fill="#8D9CA8"/>
<path d="M420.13 182.73L421.75 185.62L418.52 185.62Z" fill="#C5102F"/>
<circle cx="410.46" cy="194.14" r="1.3" fill="#8D9CA8"/>
<path d="M420.80 182.09L422.41 184.98L419.18 184.98Z" fill="#C5102F"/>
<circle cx="412.90" cy="192.98" r="1.3" fill="#8D9CA8"/>
<path d="M420.08 185.29L421.69 188.18L418.46 188.18Z" fill="#C5102F"/>
<circle cx="412.51" cy="192.36" r="1.3" fill="#8D9CA8"/>
<path d="M420.89 186.66L422.51 189.55L419.28 189.55Z" fill="#C5102F"/>
<circle cx="412.22" cy="185.48" r="1.3" fill="#8D9CA8"/>
<path d="M421.70 185.46L423.31 188.35L420.08 188.35Z" fill="#C5102F"/>
<circle cx="411.95" cy="194.05" r="1.3" fill="#8D9CA8"/>
<path d="M420.55 184.69L422.17 187.58L418.94 187.58Z" fill="#C5102F"/>
<rect x="433.70" y="190.84" width="5.60" height="8.96" fill="#D4D9DE"/>
<rect x="443.10" y="186.01" width="5.60" height="13.79" fill="#EF9E9C"/>
<line x1="436.50" y1="193.57" x2="436.50" y2="188.12" stroke="#6F7E8A" stroke-width="0.7"/>
<line x1="435.10" y1="188.12" x2="437.90" y2="188.12" stroke="#6F7E8A" stroke-width="0.7"/>
<line x1="435.10" y1="193.57" x2="437.90" y2="193.57" stroke="#6F7E8A" stroke-width="0.7"/>
<line x1="445.90" y1="190.45" x2="445.90" y2="177.99" stroke="#A8102A" stroke-width="0.7"/>
<line x1="444.50" y1="177.99" x2="447.30" y2="177.99" stroke="#A8102A" stroke-width="0.7"/>
<line x1="444.50" y1="190.45" x2="447.30" y2="190.45" stroke="#A8102A" stroke-width="0.7"/>
<circle cx="438.10" cy="192.97" r="1.3" fill="#8D9CA8"/>
<path d="M444.74 182.39L446.35 185.28L443.12 185.28Z" fill="#C5102F"/>
<circle cx="437.77" cy="190.27" r="1.3" fill="#8D9CA8"/>
<path d="M443.97 188.49L445.59 191.38L442.36 191.38Z" fill="#C5102F"/>
<circle cx="437.38" cy="192.77" r="1.3" fill="#8D9CA8"/>
<path d="M446.72 186.75L448.33 189.64L445.10 189.64Z" fill="#C5102F"/>
<circle cx="436.68" cy="189.87" r="1.3" fill="#8D9CA8"/>
<path d="M447.80 186.00L449.42 188.89L446.19 188.89Z" fill="#C5102F"/>
<circle cx="436.57" cy="189.22" r="1.3" fill="#8D9CA8"/>
<path d="M446.49 185.97L448.11 188.86L444.88 188.86Z" fill="#C5102F"/>
<circle cx="436.80" cy="191.41" r="1.3" fill="#8D9CA8"/>
<path d="M446.42 184.75L448.04 187.64L444.81 187.64Z" fill="#C5102F"/>
<rect x="457.70" y="147.61" width="5.60" height="52.19" fill="#D4D9DE"/>
<rect x="467.10" y="161.01" width="5.60" height="38.79" fill="#EF9E9C"/>
<line x1="460.50" y1="153.06" x2="460.50" y2="142.15" stroke="#6F7E8A" stroke-width="0.7"/>
<line x1="459.10" y1="142.15" x2="461.90" y2="142.15" stroke="#6F7E8A" stroke-width="0.7"/>
<line x1="459.10" y1="153.06" x2="461.90" y2="153.06" stroke="#6F7E8A" stroke-width="0.7"/>
<line x1="469.90" y1="170.98" x2="469.90" y2="154.62" stroke="#A8102A" stroke-width="0.7"/>
<line x1="468.50" y1="154.62" x2="471.30" y2="154.62" stroke="#A8102A" stroke-width="0.7"/>
<line x1="468.50" y1="170.98" x2="471.30" y2="170.98" stroke="#A8102A" stroke-width="0.7"/>
<circle cx="459.69" cy="152.42" r="1.3" fill="#8D9CA8"/>
<path d="M471.40 153.44L473.02 156.33L469.79 156.33Z" fill="#C5102F"/>
<circle cx="461.93" cy="149.72" r="1.3" fill="#8D9CA8"/>
<path d="M471.66 164.20L473.27 167.09L470.04 167.09Z" fill="#C5102F"/>
<circle cx="460.16" cy="144.95" r="1.3" fill="#8D9CA8"/>
<path d="M467.93 165.15L469.55 168.04L466.32 168.04Z" fill="#C5102F"/>
<circle cx="458.65" cy="143.48" r="1.3" fill="#8D9CA8"/>
<path d="M471.75 155.87L473.36 158.76L470.13 158.76Z" fill="#C5102F"/>
<circle cx="459.19" cy="146.84" r="1.3" fill="#8D9CA8"/>
<path d="M471.80 155.08L473.41 157.97L470.18 157.97Z" fill="#C5102F"/>
<circle cx="460.54" cy="145.38" r="1.3" fill="#8D9CA8"/>
<path d="M469.29 163.09L470.90 165.98L467.67 165.98Z" fill="#C5102F"/>
<line x1="388.40" y1="181.30" x2="397.80" y2="181.30" stroke="#444" stroke-width="0.8"/>
<circle cx="388.75" cy="177.70" r="0.95" fill="#2a2a2a"/>
<circle cx="391.65" cy="177.70" r="0.95" fill="#2a2a2a"/>
<circle cx="394.55" cy="177.70" r="0.95" fill="#2a2a2a"/>
<circle cx="397.45" cy="177.70" r="0.95" fill="#2a2a2a"/>
<line x1="461.80" y1="133.80" x2="471.00" y2="133.80" stroke="#444" stroke-width="0.8"/>
<circle cx="464.95" cy="130.20" r="0.95" fill="#2a2a2a"/>
<circle cx="467.85" cy="130.20" r="0.95" fill="#2a2a2a"/>
<text x="396.10" y="207.80" font-size="6.7" text-anchor="end" fill="#2a2a2a" stroke="#2a2a2a" stroke-width="0.16" transform="rotate(-45 396.10 207.80)">LT-HSC</text>
<text x="420.10" y="207.80" font-size="6.7" text-anchor="end" fill="#2a2a2a" stroke="#2a2a2a" stroke-width="0.16" transform="rotate(-45 420.10 207.80)">ST-HSC</text>
<text x="444.20" y="207.80" font-size="6.7" text-anchor="end" fill="#2a2a2a" stroke="#2a2a2a" stroke-width="0.16" transform="rotate(-45 444.20 207.80)">MPP2</text>
<text x="468.20" y="207.80" font-size="6.7" text-anchor="end" fill="#2a2a2a" stroke="#2a2a2a" stroke-width="0.16" transform="rotate(-45 468.20 207.80)">MPP3</text>
<text x="364.60" y="167.30" font-size="9.6" text-anchor="middle" fill="#2a2a2a" stroke="#2a2a2a" stroke-width="0.08" transform="rotate(-90 364.60 167.30)" textLength="40" lengthAdjust="spacingAndGlyphs">% of LSK cells</text>
<circle cx="392.40" cy="142.60" r="1.3" fill="#8D9CA8"/>
<text x="396.20" y="145.00" font-size="6.8" text-anchor="start" fill="#2a2a2a" stroke="#2a2a2a" stroke-width="0.16">WT</text>
<path d="M392.40 150.10L394.01 152.99L390.78 152.99Z" fill="#C5102F"/>
<text x="396.20" y="154.20" font-size="6.6" text-anchor="start" fill="#2a2a2a" stroke="#2a2a2a" stroke-width="0.16"><tspan font-style="italic">Dcaf8</tspan><tspan font-size="4.2" dy="-2.6">-/-</tspan></text>
<text x="168.70" y="243.40" font-size="12" text-anchor="start" fill="#111" stroke="#111" stroke-width="0.35" font-weight="bold">I</text>
<line x1="209.80" y1="252.30" x2="209.80" y2="317.80" stroke="#333333" stroke-width="1.2"/>
<line x1="207.40" y1="254.70" x2="209.80" y2="254.70" stroke="#333333" stroke-width="0.8"/>
<text x="202.80" y="257.10" font-size="6.7" text-anchor="end" fill="#2a2a2a" stroke="#2a2a2a" stroke-width="0.16">20</text>
<line x1="207.40" y1="267.22" x2="209.80" y2="267.22" stroke="#333333" stroke-width="0.8"/>
<text x="202.80" y="269.62" font-size="6.7" text-anchor="end" fill="#2a2a2a" stroke="#2a2a2a" stroke-width="0.16">18</text>
<line x1="207.40" y1="279.74" x2="209.80" y2="279.74" stroke="#333333" stroke-width="0.8"/>
<text x="202.80" y="282.14" font-size="6.7" text-anchor="end" fill="#2a2a2a" stroke="#2a2a2a" stroke-width="0.16">16</text>
<line x1="207.40" y1="292.26" x2="209.80" y2="292.26" stroke="#333333" stroke-width="0.8"/>
<text x="202.80" y="294.66" font-size="6.7" text-anchor="end" fill="#2a2a2a" stroke="#2a2a2a" stroke-width="0.16">14</text>
<line x1="207.40" y1="304.78" x2="209.80" y2="304.78" stroke="#333333" stroke-width="0.8"/>
<text x="202.80" y="307.18" font-size="6.7" text-anchor="end" fill="#2a2a2a" stroke="#2a2a2a" stroke-width="0.16">12</text>
<line x1="207.40" y1="317.30" x2="209.80" y2="317.30" stroke="#333333" stroke-width="0.8"/>
<text x="202.80" y="319.70" font-size="6.7" text-anchor="end" fill="#2a2a2a" stroke="#2a2a2a" stroke-width="0.16">10</text>
<line x1="209.30" y1="317.30" x2="240.20" y2="317.30" stroke="#333333" stroke-width="1.2"/>
<line x1="218.40" y1="317.30" x2="218.40" y2="319.70" stroke="#333333" stroke-width="0.8"/>
<line x1="230.80" y1="317.30" x2="230.80" y2="319.70" stroke="#333333" stroke-width="0.8"/>
<rect x="214.45" y="291.01" width="7.90" height="26.29" fill="#D4D9DE"/>
<rect x="226.80" y="281.62" width="8.00" height="35.68" fill="#EF9E9C"/>
<line x1="218.40" y1="296.64" x2="218.40" y2="286.63" stroke="#6F7E8A" stroke-width="0.7"/>
<line x1="216.80" y1="286.63" x2="220.00" y2="286.63" stroke="#6F7E8A" stroke-width="0.7"/>
<line x1="216.80" y1="296.64" x2="220.00" y2="296.64" stroke="#6F7E8A" stroke-width="0.7"/>
<line x1="230.80" y1="284.75" x2="230.80" y2="279.11" stroke="#A8102A" stroke-width="0.7"/>
<line x1="229.20" y1="279.11" x2="232.40" y2="279.11" stroke="#A8102A" stroke-width="0.7"/>
<line x1="229.20" y1="284.75" x2="232.40" y2="284.75" stroke="#A8102A" stroke-width="0.7"/>
<circle cx="216.00" cy="287.25" r="1.1" fill="#8D9CA8"/>
<circle cx="219.00" cy="289.13" r="1.1" fill="#8D9CA8"/>
<circle cx="221.00" cy="286.63" r="1.1" fill="#8D9CA8"/>
<circle cx="217.00" cy="292.89" r="1.1" fill="#8D9CA8"/>
<circle cx="219.50" cy="296.64" r="1.1" fill="#8D9CA8"/>
<circle cx="218.00" cy="299.77" r="1.1" fill="#8D9CA8"/>
<path d="M228.00 278.34L229.33 280.72L226.67 280.72Z" fill="#C5102F"/>
<path d="M230.50 278.97L231.83 281.35L229.17 281.35Z" fill="#C5102F"/>
<path d="M233.00 278.34L234.33 280.72L231.67 280.72Z" fill="#C5102F"/>
<path d="M229.00 281.47L230.33 283.85L227.67 283.85Z" fill="#C5102F"/>
<path d="M232.00 282.10L233.33 284.48L230.67 284.48Z" fill="#C5102F"/>
<path d="M230.80 283.35L232.13 285.73L229.47 285.73Z" fill="#C5102F"/>
<line x1="217.90" y1="259.20" x2="231.80" y2="259.20" stroke="#444" stroke-width="0.8"/>
<circle cx="223.40" cy="255.60" r="0.95" fill="#2a2a2a"/>
<circle cx="226.30" cy="255.60" r="0.95" fill="#2a2a2a"/>
<text x="221.20" y="326.80" font-size="7" text-anchor="end" fill="#2a2a2a" stroke="#2a2a2a" stroke-width="0.16" transform="rotate(-45 221.20 326.80)">WT</text>
<text x="234.00" y="326.80" font-size="7.2" text-anchor="end" fill="#2a2a2a" stroke="#2a2a2a" stroke-width="0.16" transform="rotate(-45 234.00 326.80)"><tspan font-style="italic">Dcaf8</tspan><tspan font-size="4.6" dy="-2.8" fill="#888" stroke="#888">-/-</tspan></text>
<text x="181.40" y="287.10" font-size="9.6" text-anchor="middle" fill="#2a2a2a" stroke="#2a2a2a" stroke-width="0.08" transform="rotate(-90 181.40 287.10)" textLength="21.8" lengthAdjust="spacingAndGlyphs">LT-HSC :</text>
<text x="188.80" y="284.50" font-size="9.6" text-anchor="middle" fill="#2a2a2a" stroke="#2a2a2a" stroke-width="0.08" transform="rotate(-90 188.80 284.50)" textLength="57.5" lengthAdjust="spacingAndGlyphs">CD150 MFI (&#215;10<tspan font-size="5.5" dy="-2.8">3</tspan><tspan dy="2.8">)</tspan></text>
<text x="247.20" y="243.40" font-size="12" text-anchor="start" fill="#111" stroke="#111" stroke-width="0.35" font-weight="bold">J</text>
<line x1="284.60" y1="251.50" x2="284.60" y2="318.70" stroke="#333333" stroke-width="1.2"/>
<line x1="282.20" y1="252.00" x2="284.60" y2="252.00" stroke="#333333" stroke-width="0.8"/>
<text x="279.80" y="254.40" font-size="6.7" text-anchor="end" fill="#2a2a2a" stroke="#2a2a2a" stroke-width="0.16">0.025</text>
<line x1="282.20" y1="265.24" x2="284.60" y2="265.24" stroke="#333333" stroke-width="0.8"/>
<text x="279.80" y="267.64" font-size="6.7" text-anchor="end" fill="#2a2a2a" stroke="#2a2a2a" stroke-width="0.16">0.020</text>
<line x1="282.20" y1="278.48" x2="284.60" y2="278.48" stroke="#333333" stroke-width="0.8"/>
<text x="279.80" y="280.88" font-size="6.7" text-anchor="end" fill="#2a2a2a" stroke="#2a2a2a" stroke-width="0.16">0.015</text>
<line x1="282.20" y1="291.72" x2="284.60" y2="291.72" stroke="#333333" stroke-width="0.8"/>
<text x="279.80" y="294.12" font-size="6.7" text-anchor="end" fill="#2a2a2a" stroke="#2a2a2a" stroke-width="0.16">0.010</text>
<line x1="282.20" y1="304.96" x2="284.60" y2="304.96" stroke="#333333" stroke-width="0.8"/>
<text x="279.80" y="307.36" font-size="6.7" text-anchor="end" fill="#2a2a2a" stroke="#2a2a2a" stroke-width="0.16">0.005</text>
<line x1="282.20" y1="318.20" x2="284.60" y2="318.20" stroke="#333333" stroke-width="0.8"/>
<text x="279.80" y="320.60" font-size="6.7" text-anchor="end" fill="#2a2a2a" stroke="#2a2a2a" stroke-width="0.16">0.000</text>
<line x1="284.10" y1="318.20" x2="348.00" y2="318.20" stroke="#333333" stroke-width="1.2"/>
<line x1="300.00" y1="318.20" x2="300.00" y2="320.60" stroke="#333333" stroke-width="0.8"/>
<line x1="333.60" y1="318.20" x2="333.60" y2="320.60" stroke="#333333" stroke-width="0.8"/>
<rect x="289.60" y="285.89" width="8.40" height="32.31" fill="#D4D9DE"/>
<line x1="293.80" y1="292.25" x2="293.80" y2="276.36" stroke="#6F7E8A" stroke-width="0.7"/>
<line x1="292.20" y1="276.36" x2="295.40" y2="276.36" stroke="#6F7E8A" stroke-width="0.7"/>
<line x1="292.20" y1="292.25" x2="295.40" y2="292.25" stroke="#6F7E8A" stroke-width="0.7"/>
<circle cx="291.30" cy="276.36" r="1.3" fill="#8D9CA8"/>
<circle cx="296.30" cy="276.36" r="1.3" fill="#8D9CA8"/>
<circle cx="293.80" cy="282.98" r="1.3" fill="#8D9CA8"/>
<circle cx="291.30" cy="290.66" r="1.3" fill="#8D9CA8"/>
<circle cx="296.30" cy="290.66" r="1.3" fill="#8D9CA8"/>
<circle cx="293.80" cy="292.51" r="1.3" fill="#8D9CA8"/>
<rect x="302.00" y="273.18" width="8.40" height="45.02" fill="#EF9E9C"/>
<line x1="306.20" y1="279.27" x2="306.20" y2="266.56" stroke="#A8102A" stroke-width="0.7"/>
<line x1="304.60" y1="266.56" x2="307.80" y2="266.56" stroke="#A8102A" stroke-width="0.7"/>
<line x1="304.60" y1="279.27" x2="307.80" y2="279.27" stroke="#A8102A" stroke-width="0.7"/>
<path d="M306.20 261.16L307.81 264.05L304.58 264.05Z" fill="#C5102F"/>
<path d="M303.70 273.34L305.31 276.23L302.08 276.23Z" fill="#C5102F"/>
<path d="M308.70 273.34L310.31 276.23L307.08 276.23Z" fill="#C5102F"/>
<path d="M303.70 277.31L305.31 280.20L302.08 280.20Z" fill="#C5102F"/>
<path d="M308.70 277.31L310.31 280.20L307.08 280.20Z" fill="#C5102F"/>
<path d="M306.20 276.78L307.81 279.67L304.58 279.67Z" fill="#C5102F"/>
<rect x="323.00" y="288.81" width="8.40" height="29.39" fill="#D4D9DE"/>
<line x1="327.20" y1="292.51" x2="327.20" y2="284.84" stroke="#6F7E8A" stroke-width="0.7"/>
<line x1="325.60" y1="284.84" x2="328.80" y2="284.84" stroke="#6F7E8A" stroke-width="0.7"/>
<line x1="325.60" y1="292.51" x2="328.80" y2="292.51" stroke="#6F7E8A" stroke-width="0.7"/>
<circle cx="327.20" cy="281.13" r="1.3" fill="#8D9CA8"/>
<circle cx="324.70" cy="288.54" r="1.3" fill="#8D9CA8"/>
<circle cx="329.70" cy="288.54" r="1.3" fill="#8D9CA8"/>
<circle cx="325.70" cy="291.72" r="1.3" fill="#8D9CA8"/>
<circle cx="328.70" cy="292.25" r="1.3" fill="#8D9CA8"/>
<circle cx="327.20" cy="289.60" r="1.3" fill="#8D9CA8"/>
<rect x="335.80" y="285.36" width="8.40" height="32.84" fill="#EF9E9C"/>
<line x1="340.00" y1="296.49" x2="340.00" y2="274.24" stroke="#A8102A" stroke-width="0.7"/>
<line x1="338.40" y1="274.24" x2="341.60" y2="274.24" stroke="#A8102A" stroke-width="0.7"/>
<line x1="338.40" y1="296.49" x2="341.60" y2="296.49" stroke="#A8102A" stroke-width="0.7"/>
<path d="M340.00 263.80L341.62 266.69L338.38 266.69Z" fill="#C5102F"/>
<path d="M339.50 280.22L341.12 283.11L337.88 283.11Z" fill="#C5102F"/>
<path d="M337.50 283.93L339.12 286.82L335.88 286.82Z" fill="#C5102F"/>
<path d="M342.50 285.25L344.12 288.14L340.88 288.14Z" fill="#C5102F"/>
<path d="M338.00 292.67L339.62 295.56L336.38 295.56Z" fill="#C5102F"/>
<path d="M342.00 292.93L343.62 295.82L340.38 295.82Z" fill="#C5102F"/>
<line x1="292.70" y1="253.40" x2="306.20" y2="253.40" stroke="#444" stroke-width="0.8"/>
<circle cx="299.45" cy="249.80" r="0.95" fill="#2a2a2a"/>
<line x1="326.50" y1="255.50" x2="340.00" y2="255.50" stroke="#444" stroke-width="0.8"/>
<text x="334.25" y="254.40" font-size="6.3" text-anchor="middle" fill="#2a2a2a" stroke="#2a2a2a" stroke-width="0.16">ns</text>
<text x="302.50" y="327.80" font-size="6.9" text-anchor="end" fill="#2a2a2a" stroke="#2a2a2a" stroke-width="0.16" transform="rotate(-45 302.50 327.80)">CD150<tspan font-size="4.4" dy="-2.7">high</tspan><tspan dy="2.7"> HSC</tspan></text>
<text x="336.30" y="327.80" font-size="6.9" text-anchor="end" fill="#2a2a2a" stroke="#2a2a2a" stroke-width="0.16" transform="rotate(-45 336.30 327.80)">CD150<tspan font-size="4.4" dy="-2.7">low</tspan><tspan dy="2.7"> HSC</tspan></text>
<text x="257.30" y="284.00" font-size="9.6" text-anchor="middle" fill="#2a2a2a" stroke="#2a2a2a" stroke-width="0.08" transform="rotate(-90 257.30 284.00)" textLength="39" lengthAdjust="spacingAndGlyphs">% of total BM</text>
<text x="354.70" y="240.30" font-size="12" text-anchor="start" fill="#111" stroke="#111" stroke-width="0.35" font-weight="bold">K</text>
<line x1="387.10" y1="267.90" x2="387.10" y2="330.60" stroke="#333333" stroke-width="1.2"/>
<line x1="384.70" y1="277.60" x2="387.10" y2="277.60" stroke="#333333" stroke-width="0.8"/>
<text x="381.40" y="280.00" font-size="6.7" text-anchor="end" fill="#2a2a2a" stroke="#2a2a2a" stroke-width="0.16">30</text>
<line x1="384.70" y1="295.10" x2="387.10" y2="295.10" stroke="#333333" stroke-width="0.8"/>
<text x="381.40" y="297.50" font-size="6.7" text-anchor="end" fill="#2a2a2a" stroke="#2a2a2a" stroke-width="0.16">20</text>
<line x1="384.70" y1="312.60" x2="387.10" y2="312.60" stroke="#333333" stroke-width="0.8"/>
<text x="381.40" y="315.00" font-size="6.7" text-anchor="end" fill="#2a2a2a" stroke="#2a2a2a" stroke-width="0.16">10</text>
<line x1="384.70" y1="330.10" x2="387.10" y2="330.10" stroke="#333333" stroke-width="0.8"/>
<text x="381.40" y="332.50" font-size="6.7" text-anchor="end" fill="#2a2a2a" stroke="#2a2a2a" stroke-width="0.16">0</text>
<line x1="386.60" y1="330.10" x2="512.80" y2="330.10" stroke="#333333" stroke-width="1.2"/>
<line x1="399.00" y1="330.10" x2="399.00" y2="332.50" stroke="#333333" stroke-width="0.8"/>
<line x1="424.60" y1="330.10" x2="424.60" y2="332.50" stroke="#333333" stroke-width="0.8"/>
<line x1="450.30" y1="330.10" x2="450.30" y2="332.50" stroke="#333333" stroke-width="0.8"/>
<line x1="476.10" y1="330.10" x2="476.10" y2="332.50" stroke="#333333" stroke-width="0.8"/>
<line x1="501.90" y1="330.10" x2="501.90" y2="332.50" stroke="#333333" stroke-width="0.8"/>
<rect x="391.15" y="316.10" width="6.30" height="14.00" fill="#D4D9DE"/>
<rect x="400.55" y="305.08" width="6.30" height="25.02" fill="#EF9E9C"/>
<line x1="394.30" y1="319.60" x2="394.30" y2="310.85" stroke="#6F7E8A" stroke-width="0.7"/>
<line x1="392.80" y1="310.85" x2="395.80" y2="310.85" stroke="#6F7E8A" stroke-width="0.7"/>
<line x1="392.80" y1="319.60" x2="395.80" y2="319.60" stroke="#6F7E8A" stroke-width="0.7"/>
<line x1="403.70" y1="309.10" x2="403.70" y2="298.60" stroke="#A8102A" stroke-width="0.7"/>
<line x1="402.20" y1="298.60" x2="405.20" y2="298.60" stroke="#A8102A" stroke-width="0.7"/>
<line x1="402.20" y1="309.10" x2="405.20" y2="309.10" stroke="#A8102A" stroke-width="0.7"/>
<circle cx="395.00" cy="317.80" r="1.3" fill="#8D9CA8"/>
<path d="M402.48 302.85L404.09 305.74L400.86 305.74Z" fill="#C5102F"/>
<circle cx="394.96" cy="318.69" r="1.3" fill="#8D9CA8"/>
<path d="M403.70 304.29L405.31 307.18L402.08 307.18Z" fill="#C5102F"/>
<circle cx="395.79" cy="316.75" r="1.3" fill="#8D9CA8"/>
<path d="M401.77 297.95L403.39 300.84L400.16 300.84Z" fill="#C5102F"/>
<circle cx="393.61" cy="317.84" r="1.3" fill="#8D9CA8"/>
<path d="M404.83 297.04L406.45 299.93L403.22 299.93Z" fill="#C5102F"/>
<circle cx="393.15" cy="316.63" r="1.3" fill="#8D9CA8"/>
<path d="M405.05 300.32L406.67 303.21L403.44 303.21Z" fill="#C5102F"/>
<rect x="416.75" y="312.60" width="6.30" height="17.50" fill="#D4D9DE"/>
<rect x="426.15" y="302.62" width="6.30" height="27.48" fill="#EF9E9C"/>
<line x1="419.90" y1="317.85" x2="419.90" y2="305.60" stroke="#6F7E8A" stroke-width="0.7"/>
<line x1="418.40" y1="305.60" x2="421.40" y2="305.60" stroke="#6F7E8A" stroke-width="0.7"/>
<line x1="418.40" y1="317.85" x2="421.40" y2="317.85" stroke="#6F7E8A" stroke-width="0.7"/>
<line x1="429.30" y1="309.10" x2="429.30" y2="296.85" stroke="#A8102A" stroke-width="0.7"/>
<line x1="427.80" y1="296.85" x2="430.80" y2="296.85" stroke="#A8102A" stroke-width="0.7"/>
<line x1="427.80" y1="309.10" x2="430.80" y2="309.10" stroke="#A8102A" stroke-width="0.7"/>
<circle cx="419.28" cy="306.43" r="1.3" fill="#8D9CA8"/>
<path d="M430.05 296.59L431.66 299.48L428.43 299.48Z" fill="#C5102F"/>
<circle cx="421.84" cy="311.91" r="1.3" fill="#8D9CA8"/>
<path d="M430.20 304.53L431.82 307.42L428.59 307.42Z" fill="#C5102F"/>
<circle cx="418.58" cy="316.81" r="1.3" fill="#8D9CA8"/>
<path d="M428.15 296.24L429.77 299.13L426.54 299.13Z" fill="#C5102F"/>
<circle cx="420.30" cy="308.55" r="1.3" fill="#8D9CA8"/>
<path d="M428.77 297.10L430.39 299.99L427.16 299.99Z" fill="#C5102F"/>
<circle cx="419.06" cy="313.68" r="1.3" fill="#8D9CA8"/>
<path d="M429.72 296.77L431.33 299.66L428.10 299.66Z" fill="#C5102F"/>
<rect x="442.45" y="304.55" width="6.30" height="25.55" fill="#D4D9DE"/>
<rect x="451.85" y="299.48" width="6.30" height="30.62" fill="#EF9E9C"/>
<line x1="445.60" y1="309.10" x2="445.60" y2="296.85" stroke="#6F7E8A" stroke-width="0.7"/>
<line x1="444.10" y1="296.85" x2="447.10" y2="296.85" stroke="#6F7E8A" stroke-width="0.7"/>
<line x1="444.10" y1="309.10" x2="447.10" y2="309.10" stroke="#6F7E8A" stroke-width="0.7"/>
<line x1="455.00" y1="302.10" x2="455.00" y2="296.85" stroke="#A8102A" stroke-width="0.7"/>
<line x1="453.50" y1="296.85" x2="456.50" y2="296.85" stroke="#A8102A" stroke-width="0.7"/>
<line x1="453.50" y1="302.10" x2="456.50" y2="302.10" stroke="#A8102A" stroke-width="0.7"/>
<circle cx="447.15" cy="297.41" r="1.3" fill="#8D9CA8"/>
<path d="M455.20 299.69L456.82 302.58L453.59 302.58Z" fill="#C5102F"/>
<circle cx="443.76" cy="307.82" r="1.3" fill="#8D9CA8"/>
<path d="M456.46 300.02L458.08 302.91L454.85 302.91Z" fill="#C5102F"/>
<circle cx="446.91" cy="299.45" r="1.3" fill="#8D9CA8"/>
<path d="M455.46 298.61L457.08 301.50L453.85 301.50Z" fill="#C5102F"/>
<circle cx="445.11" cy="299.52" r="1.3" fill="#8D9CA8"/>
<path d="M453.89 297.40L455.51 300.29L452.28 300.29Z" fill="#C5102F"/>
<circle cx="444.67" cy="308.10" r="1.3" fill="#8D9CA8"/>
<path d="M455.26 295.72L456.87 298.61L453.64 298.61Z" fill="#C5102F"/>
<rect x="468.25" y="281.98" width="6.30" height="48.12" fill="#D4D9DE"/>
<rect x="477.65" y="300.35" width="6.30" height="29.75" fill="#EF9E9C"/>
<line x1="471.40" y1="291.60" x2="471.40" y2="272.35" stroke="#6F7E8A" stroke-width="0.7"/>
<line x1="469.90" y1="272.35" x2="472.90" y2="272.35" stroke="#6F7E8A" stroke-width="0.7"/>
<line x1="469.90" y1="291.60" x2="472.90" y2="291.60" stroke="#6F7E8A" stroke-width="0.7"/>
<line x1="480.80" y1="305.60" x2="480.80" y2="295.10" stroke="#A8102A" stroke-width="0.7"/>
<line x1="479.30" y1="295.10" x2="482.30" y2="295.10" stroke="#A8102A" stroke-width="0.7"/>
<line x1="479.30" y1="305.60" x2="482.30" y2="305.60" stroke="#A8102A" stroke-width="0.7"/>
<circle cx="471.23" cy="273.79" r="1.3" fill="#8D9CA8"/>
<path d="M481.95 300.99L483.56 303.88L480.33 303.88Z" fill="#C5102F"/>
<circle cx="469.45" cy="275.67" r="1.3" fill="#8D9CA8"/>
<path d="M479.17 296.86L480.78 299.75L477.55 299.75Z" fill="#C5102F"/>
<circle cx="472.94" cy="289.38" r="1.3" fill="#8D9CA8"/>
<path d="M479.76 303.48L481.37 306.37L478.14 306.37Z" fill="#C5102F"/>
<circle cx="471.08" cy="272.58" r="1.3" fill="#8D9CA8"/>
<path d="M479.47 302.69L481.08 305.58L477.85 305.58Z" fill="#C5102F"/>
<circle cx="472.38" cy="286.95" r="1.3" fill="#8D9CA8"/>
<path d="M482.44 302.82L484.06 305.71L480.83 305.71Z" fill="#C5102F"/>
<rect x="494.05" y="280.05" width="6.30" height="50.05" fill="#D4D9DE"/>
<rect x="503.45" y="295.10" width="6.30" height="35.00" fill="#EF9E9C"/>
<line x1="497.20" y1="291.60" x2="497.20" y2="268.85" stroke="#6F7E8A" stroke-width="0.7"/>
<line x1="495.70" y1="268.85" x2="498.70" y2="268.85" stroke="#6F7E8A" stroke-width="0.7"/>
<line x1="495.70" y1="291.60" x2="498.70" y2="291.60" stroke="#6F7E8A" stroke-width="0.7"/>
<line x1="506.60" y1="302.10" x2="506.60" y2="286.35" stroke="#A8102A" stroke-width="0.7"/>
<line x1="505.10" y1="286.35" x2="508.10" y2="286.35" stroke="#A8102A" stroke-width="0.7"/>
<line x1="505.10" y1="302.10" x2="508.10" y2="302.10" stroke="#A8102A" stroke-width="0.7"/>
<circle cx="499.08" cy="282.99" r="1.3" fill="#8D9CA8"/>
<path d="M505.78 286.08L507.39 288.97L504.16 288.97Z" fill="#C5102F"/>
<circle cx="497.11" cy="285.83" r="1.3" fill="#8D9CA8"/>
<path d="M507.21 298.82L508.82 301.71L505.59 301.71Z" fill="#C5102F"/>
<circle cx="495.24" cy="290.70" r="1.3" fill="#8D9CA8"/>
<path d="M505.78 284.92L507.40 287.81L504.17 287.81Z" fill="#C5102F"/>
<circle cx="497.00" cy="278.03" r="1.3" fill="#8D9CA8"/>
<path d="M504.85 295.47L506.47 298.36L503.24 298.36Z" fill="#C5102F"/>
<circle cx="499.08" cy="270.82" r="1.3" fill="#8D9CA8"/>
<path d="M505.05 285.13L506.66 288.02L503.43 288.02Z" fill="#C5102F"/>
<line x1="394.00" y1="286.30" x2="405.00" y2="286.30" stroke="#444" stroke-width="0.8"/>
<circle cx="399.50" cy="282.70" r="0.95" fill="#2a2a2a"/>
<line x1="419.60" y1="286.30" x2="430.60" y2="286.30" stroke="#444" stroke-width="0.8"/>
<circle cx="425.10" cy="282.70" r="0.95" fill="#2a2a2a"/>
<line x1="444.80" y1="286.80" x2="456.80" y2="286.80" stroke="#444" stroke-width="0.8"/>
<text x="451.80" y="285.70" font-size="6.3" text-anchor="middle" fill="#2a2a2a" stroke="#2a2a2a" stroke-width="0.16">ns</text>
<line x1="471.10" y1="262.00" x2="481.10" y2="262.00" stroke="#444" stroke-width="0.8"/>
<circle cx="473.20" cy="258.40" r="0.95" fill="#2a2a2a"/>
<circle cx="476.10" cy="258.40" r="0.95" fill="#2a2a2a"/>
<circle cx="479.00" cy="258.40" r="0.95" fill="#2a2a2a"/>
<line x1="496.90" y1="262.00" x2="506.90" y2="262.00" stroke="#444" stroke-width="0.8"/>
<circle cx="499.00" cy="258.40" r="0.95" fill="#2a2a2a"/>
<circle cx="501.90" cy="258.40" r="0.95" fill="#2a2a2a"/>
<circle cx="504.80" cy="258.40" r="0.95" fill="#2a2a2a"/>
<line x1="404.00" y1="243.30" x2="427.50" y2="243.30" stroke="#444" stroke-width="0.8"/>
<text x="416.75" y="242.20" font-size="6.3" text-anchor="middle" fill="#2a2a2a" stroke="#2a2a2a" stroke-width="0.16">ns</text>
<line x1="432.50" y1="243.30" x2="452.40" y2="243.30" stroke="#444" stroke-width="0.8"/>
<text x="443.45" y="242.20" font-size="6.3" text-anchor="middle" fill="#2a2a2a" stroke="#2a2a2a" stroke-width="0.16">ns</text>
<line x1="458.70" y1="243.30" x2="478.00" y2="243.30" stroke="#444" stroke-width="0.8"/>
<text x="469.35" y="242.20" font-size="6.3" text-anchor="middle" fill="#2a2a2a" stroke="#2a2a2a" stroke-width="0.16">ns</text>
<line x1="484.30" y1="243.30" x2="507.30" y2="243.30" stroke="#444" stroke-width="0.8"/>
<text x="496.80" y="242.20" font-size="6.3" text-anchor="middle" fill="#2a2a2a" stroke="#2a2a2a" stroke-width="0.16">ns</text>
<line x1="394.40" y1="251.20" x2="416.90" y2="251.20" stroke="#444" stroke-width="0.8"/>
<text x="406.65" y="250.10" font-size="6.3" text-anchor="middle" fill="#2a2a2a" stroke="#2a2a2a" stroke-width="0.16">ns</text>
<line x1="422.50" y1="251.20" x2="443.10" y2="251.20" stroke="#444" stroke-width="0.8"/>
<text x="433.80" y="250.10" font-size="6.3" text-anchor="middle" fill="#2a2a2a" stroke="#2a2a2a" stroke-width="0.16">ns</text>
<line x1="448.70" y1="251.20" x2="468.60" y2="251.20" stroke="#444" stroke-width="0.8"/>
<circle cx="454.30" cy="247.60" r="0.95" fill="#2a2a2a"/>
<circle cx="457.20" cy="247.60" r="0.95" fill="#2a2a2a"/>
<circle cx="460.10" cy="247.60" r="0.95" fill="#2a2a2a"/>
<circle cx="463.00" cy="247.60" r="0.95" fill="#2a2a2a"/>
<line x1="474.40" y1="251.20" x2="496.80" y2="251.20" stroke="#444" stroke-width="0.8"/>
<text x="486.60" y="250.10" font-size="6.3" text-anchor="middle" fill="#2a2a2a" stroke="#2a2a2a" stroke-width="0.16">ns</text>
<text x="399.00" y="342.30" font-size="6.6" text-anchor="middle" fill="#2a2a2a" stroke="#2a2a2a" stroke-width="0.16">3M</text>
<text x="424.60" y="342.30" font-size="6.6" text-anchor="middle" fill="#2a2a2a" stroke="#2a2a2a" stroke-width="0.16">6M</text>
<text x="450.30" y="342.30" font-size="6.6" text-anchor="middle" fill="#2a2a2a" stroke="#2a2a2a" stroke-width="0.16">9M</text>
<text x="476.10" y="342.30" font-size="6.6" text-anchor="middle" fill="#2a2a2a" stroke="#2a2a2a" stroke-width="0.16">16M</text>
<text x="501.90" y="342.30" font-size="6.6" text-anchor="middle" fill="#2a2a2a" stroke="#2a2a2a" stroke-width="0.16">20M</text>
<text x="368.70" y="297.00" font-size="9.6" text-anchor="middle" fill="#2a2a2a" stroke="#2a2a2a" stroke-width="0.08" transform="rotate(-90 368.70 297.00)" textLength="52.4" lengthAdjust="spacingAndGlyphs">% of LT-HSC in LSK</text>
<text x="7.00" y="374.60" font-size="12" text-anchor="start" fill="#111" stroke="#111" stroke-width="0.35" font-weight="bold">L</text>
<line x1="45.40" y1="386.30" x2="45.40" y2="450.00" stroke="#333333" stroke-width="1.2"/>
<line x1="43.00" y1="397.00" x2="45.40" y2="397.00" stroke="#333333" stroke-width="0.8"/>
<text x="39.80" y="399.40" font-size="6.7" text-anchor="end" fill="#2a2a2a" stroke="#2a2a2a" stroke-width="0.16">15</text>
<line x1="43.00" y1="414.50" x2="45.40" y2="414.50" stroke="#333333" stroke-width="0.8"/>
<text x="39.80" y="416.90" font-size="6.7" text-anchor="end" fill="#2a2a2a" stroke="#2a2a2a" stroke-width="0.16">10</text>
<line x1="43.00" y1="432.00" x2="45.40" y2="432.00" stroke="#333333" stroke-width="0.8"/>
<text x="39.80" y="434.40" font-size="6.7" text-anchor="end" fill="#2a2a2a" stroke="#2a2a2a" stroke-width="0.16">5</text>
<line x1="43.00" y1="449.50" x2="45.40" y2="449.50" stroke="#333333" stroke-width="0.8"/>
<text x="39.80" y="451.90" font-size="6.7" text-anchor="end" fill="#2a2a2a" stroke="#2a2a2a" stroke-width="0.16">0</text>
<line x1="44.90" y1="449.50" x2="107.50" y2="449.50" stroke="#333333" stroke-width="1.2"/>
<line x1="60.00" y1="449.50" x2="60.00" y2="451.90" stroke="#333333" stroke-width="0.8"/>
<line x1="93.50" y1="449.50" x2="93.50" y2="451.90" stroke="#333333" stroke-width="0.8"/>
<rect x="49.60" y="445.65" width="8.40" height="3.85" fill="#D4D9DE"/>
<line x1="53.80" y1="446.35" x2="53.80" y2="444.95" stroke="#6F7E8A" stroke-width="0.7"/>
<line x1="52.20" y1="444.95" x2="55.40" y2="444.95" stroke="#6F7E8A" stroke-width="0.7"/>
<line x1="52.20" y1="446.35" x2="55.40" y2="446.35" stroke="#6F7E8A" stroke-width="0.7"/>
<circle cx="54.39" cy="446.05" r="1.3" fill="#8D9CA8"/>
<circle cx="54.01" cy="444.98" r="1.3" fill="#8D9CA8"/>
<circle cx="54.61" cy="445.39" r="1.3" fill="#8D9CA8"/>
<circle cx="54.01" cy="445.99" r="1.3" fill="#8D9CA8"/>
<circle cx="52.53" cy="445.92" r="1.3" fill="#8D9CA8"/>
<rect x="62.00" y="444.25" width="8.40" height="5.25" fill="#EF9E9C"/>
<line x1="66.20" y1="445.65" x2="66.20" y2="442.50" stroke="#A8102A" stroke-width="0.7"/>
<line x1="64.60" y1="442.50" x2="67.80" y2="442.50" stroke="#A8102A" stroke-width="0.7"/>
<line x1="64.60" y1="445.65" x2="67.80" y2="445.65" stroke="#A8102A" stroke-width="0.7"/>
<path d="M65.10 443.69L66.72 446.58L63.49 446.58Z" fill="#C5102F"/>
<path d="M65.94 440.85L67.55 443.74L64.32 443.74Z" fill="#C5102F"/>
<path d="M66.92 441.90L68.53 444.79L65.30 444.79Z" fill="#C5102F"/>
<path d="M65.65 440.99L67.27 443.88L64.04 443.88Z" fill="#C5102F"/>
<path d="M65.34 442.98L66.95 445.87L63.72 445.87Z" fill="#C5102F"/>
<rect x="83.10" y="400.15" width="8.40" height="49.35" fill="#D4D9DE"/>
<line x1="87.30" y1="409.25" x2="87.30" y2="390.00" stroke="#6F7E8A" stroke-width="0.7"/>
<line x1="85.70" y1="390.00" x2="88.90" y2="390.00" stroke="#6F7E8A" stroke-width="0.7"/>
<line x1="85.70" y1="409.25" x2="88.90" y2="409.25" stroke="#6F7E8A" stroke-width="0.7"/>
<circle cx="89.04" cy="403.15" r="1.3" fill="#8D9CA8"/>
<circle cx="86.31" cy="392.05" r="1.3" fill="#8D9CA8"/>
<circle cx="87.52" cy="402.81" r="1.3" fill="#8D9CA8"/>
<circle cx="87.78" cy="398.10" r="1.3" fill="#8D9CA8"/>
<circle cx="84.90" cy="404.53" r="1.3" fill="#8D9CA8"/>
<rect x="95.50" y="427.45" width="8.40" height="22.05" fill="#EF9E9C"/>
<line x1="99.70" y1="432.70" x2="99.70" y2="422.90" stroke="#A8102A" stroke-width="0.7"/>
<line x1="98.10" y1="422.90" x2="101.30" y2="422.90" stroke="#A8102A" stroke-width="0.7"/>
<line x1="98.10" y1="432.70" x2="101.30" y2="432.70" stroke="#A8102A" stroke-width="0.7"/>
<path d="M97.56 428.61L99.18 431.50L95.95 431.50Z" fill="#C5102F"/>
<path d="M97.55 425.60L99.17 428.49L95.94 428.49Z" fill="#C5102F"/>
<path d="M100.38 430.26L101.99 433.15L98.76 433.15Z" fill="#C5102F"/>
<path d="M101.16 428.15L102.78 431.04L99.55 431.04Z" fill="#C5102F"/>
<path d="M101.51 426.17L103.13 429.06L99.90 429.06Z" fill="#C5102F"/>
<line x1="53.30" y1="433.80" x2="67.00" y2="433.80" stroke="#444" stroke-width="0.8"/>
<circle cx="60.15" cy="430.20" r="0.95" fill="#2a2a2a"/>
<line x1="87.00" y1="381.30" x2="100.00" y2="381.30" stroke="#444" stroke-width="0.8"/>
<circle cx="90.60" cy="377.70" r="0.95" fill="#2a2a2a"/>
<circle cx="93.50" cy="377.70" r="0.95" fill="#2a2a2a"/>
<circle cx="96.40" cy="377.70" r="0.95" fill="#2a2a2a"/>
<text x="60.00" y="461.00" font-size="6.6" text-anchor="middle" fill="#2a2a2a" stroke="#2a2a2a" stroke-width="0.16">3M</text>
<text x="93.50" y="461.00" font-size="6.6" text-anchor="middle" fill="#2a2a2a" stroke="#2a2a2a" stroke-width="0.16">20M</text>
<text x="28.20" y="417.00" font-size="9.6" text-anchor="middle" fill="#2a2a2a" stroke="#2a2a2a" stroke-width="0.08" transform="rotate(-90 28.20 417.00)" textLength="77.5" lengthAdjust="spacingAndGlyphs">Number of LT-HSC (&#215;10<tspan font-size="5.5" dy="-2.8">4</tspan><tspan dy="2.8">)</tspan></text>
<circle cx="52.30" cy="470.60" r="1.3" fill="#8D9CA8"/>
<text x="56.40" y="472.70" font-size="6.8" text-anchor="start" fill="#2a2a2a" stroke="#2a2a2a" stroke-width="0.16">WT</text>
<path d="M72.70 469.10L74.31 471.99L71.09 471.99Z" fill="#C5102F"/>
<text x="77.80" y="472.80" font-size="6.6" text-anchor="start" fill="#2a2a2a" stroke="#2a2a2a" stroke-width="0.16"><tspan font-style="italic">Dcaf8</tspan><tspan font-size="4.2" dy="-2.6">-/-</tspan></text>
<text x="135.20" y="375.40" font-size="12" text-anchor="start" fill="#111" stroke="#111" stroke-width="0.35" font-weight="bold">M</text>
<line x1="175.10" y1="382.70" x2="175.10" y2="448.60" stroke="#333333" stroke-width="1.2"/>
<line x1="172.70" y1="385.50" x2="175.10" y2="385.50" stroke="#333333" stroke-width="0.8"/>
<text x="169.70" y="387.90" font-size="6.7" text-anchor="end" fill="#2a2a2a" stroke="#2a2a2a" stroke-width="0.16">80</text>
<line x1="172.70" y1="401.15" x2="175.10" y2="401.15" stroke="#333333" stroke-width="0.8"/>
<text x="169.70" y="403.55" font-size="6.7" text-anchor="end" fill="#2a2a2a" stroke="#2a2a2a" stroke-width="0.16">60</text>
<line x1="172.70" y1="416.80" x2="175.10" y2="416.80" stroke="#333333" stroke-width="0.8"/>
<text x="169.70" y="419.20" font-size="6.7" text-anchor="end" fill="#2a2a2a" stroke="#2a2a2a" stroke-width="0.16">40</text>
<line x1="172.70" y1="432.45" x2="175.10" y2="432.45" stroke="#333333" stroke-width="0.8"/>
<text x="169.70" y="434.85" font-size="6.7" text-anchor="end" fill="#2a2a2a" stroke="#2a2a2a" stroke-width="0.16">20</text>
<line x1="172.70" y1="448.10" x2="175.10" y2="448.10" stroke="#333333" stroke-width="0.8"/>
<text x="169.70" y="450.50" font-size="6.7" text-anchor="end" fill="#2a2a2a" stroke="#2a2a2a" stroke-width="0.16">0</text>
<line x1="174.60" y1="448.10" x2="300.60" y2="448.10" stroke="#333333" stroke-width="1.2"/>
<line x1="186.50" y1="448.10" x2="186.50" y2="450.50" stroke="#333333" stroke-width="0.8"/>
<line x1="212.20" y1="448.10" x2="212.20" y2="450.50" stroke="#333333" stroke-width="0.8"/>
<line x1="237.90" y1="448.10" x2="237.90" y2="450.50" stroke="#333333" stroke-width="0.8"/>
<line x1="263.60" y1="448.10" x2="263.60" y2="450.50" stroke="#333333" stroke-width="0.8"/>
<line x1="289.30" y1="448.10" x2="289.30" y2="450.50" stroke="#333333" stroke-width="0.8"/>
<rect x="178.50" y="432.45" width="6.60" height="15.65" fill="#D4D9DE"/>
<rect x="187.90" y="427.75" width="6.60" height="20.35" fill="#EF9E9C"/>
<line x1="181.80" y1="437.93" x2="181.80" y2="424.62" stroke="#6F7E8A" stroke-width="0.7"/>
<line x1="180.30" y1="424.62" x2="183.30" y2="424.62" stroke="#6F7E8A" stroke-width="0.7"/>
<line x1="180.30" y1="437.93" x2="183.30" y2="437.93" stroke="#6F7E8A" stroke-width="0.7"/>
<line x1="191.20" y1="434.80" x2="191.20" y2="421.50" stroke="#A8102A" stroke-width="0.7"/>
<line x1="189.70" y1="421.50" x2="192.70" y2="421.50" stroke="#A8102A" stroke-width="0.7"/>
<line x1="189.70" y1="434.80" x2="192.70" y2="434.80" stroke="#A8102A" stroke-width="0.7"/>
<circle cx="180.28" cy="437.93" r="1.3" fill="#8D9CA8"/>
<path d="M191.21 433.10L192.82 435.99L189.59 435.99Z" fill="#C5102F"/>
<circle cx="183.10" cy="436.22" r="1.3" fill="#8D9CA8"/>
<path d="M189.34 431.25L190.95 434.14L187.72 434.14Z" fill="#C5102F"/>
<circle cx="183.65" cy="420.68" r="1.3" fill="#8D9CA8"/>
<path d="M189.14 418.00L190.75 420.89L187.52 420.89Z" fill="#C5102F"/>
<circle cx="183.30" cy="433.06" r="1.3" fill="#8D9CA8"/>
<path d="M189.69 415.32L191.31 418.21L188.08 418.21Z" fill="#C5102F"/>
<circle cx="183.84" cy="422.44" r="1.3" fill="#8D9CA8"/>
<path d="M190.99 418.28L192.61 421.17L189.38 421.17Z" fill="#C5102F"/>
<circle cx="182.11" cy="430.02" r="1.3" fill="#8D9CA8"/>
<path d="M190.14 422.51L191.76 425.40L188.53 425.40Z" fill="#C5102F"/>
<circle cx="182.45" cy="428.43" r="1.3" fill="#8D9CA8"/>
<path d="M191.18 425.38L192.79 428.27L189.56 428.27Z" fill="#C5102F"/>
<circle cx="183.59" cy="426.19" r="1.3" fill="#8D9CA8"/>
<path d="M192.86 414.49L194.48 417.38L191.25 417.38Z" fill="#C5102F"/>
<circle cx="181.24" cy="433.34" r="1.3" fill="#8D9CA8"/>
<path d="M192.95 420.32L194.56 423.21L191.33 423.21Z" fill="#C5102F"/>
<circle cx="182.93" cy="426.93" r="1.3" fill="#8D9CA8"/>
<path d="M191.27 430.41L192.88 433.30L189.65 433.30Z" fill="#C5102F"/>
<circle cx="183.15" cy="422.39" r="1.3" fill="#8D9CA8"/>
<path d="M189.61 427.55L191.23 430.44L188.00 430.44Z" fill="#C5102F"/>
<circle cx="181.56" cy="426.04" r="1.3" fill="#8D9CA8"/>
<path d="M190.90 415.18L192.52 418.07L189.29 418.07Z" fill="#C5102F"/>
<rect x="204.20" y="433.23" width="6.60" height="14.87" fill="#D4D9DE"/>
<rect x="213.60" y="435.58" width="6.60" height="12.52" fill="#EF9E9C"/>
<line x1="207.50" y1="438.71" x2="207.50" y2="424.62" stroke="#6F7E8A" stroke-width="0.7"/>
<line x1="206.00" y1="424.62" x2="209.00" y2="424.62" stroke="#6F7E8A" stroke-width="0.7"/>
<line x1="206.00" y1="438.71" x2="209.00" y2="438.71" stroke="#6F7E8A" stroke-width="0.7"/>
<line x1="216.90" y1="438.71" x2="216.90" y2="431.67" stroke="#A8102A" stroke-width="0.7"/>
<line x1="215.40" y1="431.67" x2="218.40" y2="431.67" stroke="#A8102A" stroke-width="0.7"/>
<line x1="215.40" y1="438.71" x2="218.40" y2="438.71" stroke="#A8102A" stroke-width="0.7"/>
<circle cx="206.02" cy="438.71" r="1.3" fill="#8D9CA8"/>
<path d="M216.13 437.01L217.75 439.90L214.52 439.90Z" fill="#C5102F"/>
<circle cx="205.86" cy="436.50" r="1.3" fill="#8D9CA8"/>
<path d="M218.70 436.37L220.31 439.26L217.08 439.26Z" fill="#C5102F"/>
<circle cx="206.39" cy="417.62" r="1.3" fill="#8D9CA8"/>
<path d="M217.36 430.72L218.98 433.61L215.75 433.61Z" fill="#C5102F"/>
<circle cx="206.40" cy="423.73" r="1.3" fill="#8D9CA8"/>
<path d="M217.10 433.90L218.71 436.79L215.48 436.79Z" fill="#C5102F"/>
<circle cx="206.99" cy="429.62" r="1.3" fill="#8D9CA8"/>
<path d="M218.95 434.99L220.56 437.88L217.33 437.88Z" fill="#C5102F"/>
<circle cx="207.82" cy="416.89" r="1.3" fill="#8D9CA8"/>
<path d="M214.70 432.99L216.32 435.88L213.09 435.88Z" fill="#C5102F"/>
<circle cx="208.75" cy="422.24" r="1.3" fill="#8D9CA8"/>
<path d="M215.60 432.92L217.21 435.81L213.98 435.81Z" fill="#C5102F"/>
<circle cx="206.64" cy="427.71" r="1.3" fill="#8D9CA8"/>
<path d="M214.72 434.55L216.33 437.44L213.10 437.44Z" fill="#C5102F"/>
<circle cx="207.87" cy="424.58" r="1.3" fill="#8D9CA8"/>
<path d="M217.98 433.26L219.60 436.15L216.37 436.15Z" fill="#C5102F"/>
<circle cx="208.07" cy="424.93" r="1.3" fill="#8D9CA8"/>
<path d="M218.08 433.92L219.69 436.81L216.46 436.81Z" fill="#C5102F"/>
<circle cx="208.42" cy="418.72" r="1.3" fill="#8D9CA8"/>
<path d="M214.90 434.47L216.51 437.36L213.28 437.36Z" fill="#C5102F"/>
<circle cx="208.19" cy="423.32" r="1.3" fill="#8D9CA8"/>
<path d="M217.36 435.76L218.98 438.65L215.75 438.65Z" fill="#C5102F"/>
<rect x="229.90" y="430.89" width="6.60" height="17.21" fill="#D4D9DE"/>
<rect x="239.30" y="433.23" width="6.60" height="14.87" fill="#EF9E9C"/>
<line x1="233.20" y1="435.58" x2="233.20" y2="425.41" stroke="#6F7E8A" stroke-width="0.7"/>
<line x1="231.70" y1="425.41" x2="234.70" y2="425.41" stroke="#6F7E8A" stroke-width="0.7"/>
<line x1="231.70" y1="435.58" x2="234.70" y2="435.58" stroke="#6F7E8A" stroke-width="0.7"/>
<line x1="242.60" y1="437.15" x2="242.60" y2="427.75" stroke="#A8102A" stroke-width="0.7"/>
<line x1="241.10" y1="427.75" x2="244.10" y2="427.75" stroke="#A8102A" stroke-width="0.7"/>
<line x1="241.10" y1="437.15" x2="244.10" y2="437.15" stroke="#A8102A" stroke-width="0.7"/>
<circle cx="231.92" cy="435.58" r="1.3" fill="#8D9CA8"/>
<path d="M241.31 435.45L242.93 438.34L239.70 438.34Z" fill="#C5102F"/>
<circle cx="234.90" cy="434.23" r="1.3" fill="#8D9CA8"/>
<path d="M241.58 434.09L243.20 436.98L239.97 436.98Z" fill="#C5102F"/>
<circle cx="233.25" cy="431.89" r="1.3" fill="#8D9CA8"/>
<path d="M243.99 426.37L245.60 429.26L242.37 429.26Z" fill="#C5102F"/>
<circle cx="231.76" cy="426.03" r="1.3" fill="#8D9CA8"/>
<path d="M244.64 423.26L246.26 426.15L243.03 426.15Z" fill="#C5102F"/>
<circle cx="233.74" cy="421.34" r="1.3" fill="#8D9CA8"/>
<path d="M241.24 431.09L242.85 433.98L239.62 433.98Z" fill="#C5102F"/>
<circle cx="233.32" cy="427.02" r="1.3" fill="#8D9CA8"/>
<path d="M243.71 432.25L245.32 435.14L242.09 435.14Z" fill="#C5102F"/>
<circle cx="231.47" cy="431.39" r="1.3" fill="#8D9CA8"/>
<path d="M240.64 423.13L242.26 426.02L239.03 426.02Z" fill="#C5102F"/>
<circle cx="235.24" cy="428.34" r="1.3" fill="#8D9CA8"/>
<path d="M242.06 425.05L243.68 427.94L240.45 427.94Z" fill="#C5102F"/>
<circle cx="234.15" cy="430.86" r="1.3" fill="#8D9CA8"/>
<path d="M240.60 432.99L242.22 435.88L238.99 435.88Z" fill="#C5102F"/>
<circle cx="233.55" cy="423.27" r="1.3" fill="#8D9CA8"/>
<path d="M240.47 421.65L242.08 424.54L238.85 424.54Z" fill="#C5102F"/>
<circle cx="231.57" cy="424.03" r="1.3" fill="#8D9CA8"/>
<path d="M240.59 422.22L242.20 425.11L238.97 425.11Z" fill="#C5102F"/>
<circle cx="234.02" cy="430.28" r="1.3" fill="#8D9CA8"/>
<path d="M244.67 423.20L246.28 426.09L243.05 426.09Z" fill="#C5102F"/>
<rect x="255.60" y="423.06" width="6.60" height="25.04" fill="#D4D9DE"/>
<rect x="265.00" y="420.71" width="6.60" height="27.39" fill="#EF9E9C"/>
<line x1="258.90" y1="427.75" x2="258.90" y2="418.37" stroke="#6F7E8A" stroke-width="0.7"/>
<line x1="257.40" y1="418.37" x2="260.40" y2="418.37" stroke="#6F7E8A" stroke-width="0.7"/>
<line x1="257.40" y1="427.75" x2="260.40" y2="427.75" stroke="#6F7E8A" stroke-width="0.7"/>
<line x1="268.30" y1="424.62" x2="268.30" y2="417.58" stroke="#A8102A" stroke-width="0.7"/>
<line x1="266.80" y1="417.58" x2="269.80" y2="417.58" stroke="#A8102A" stroke-width="0.7"/>
<line x1="266.80" y1="424.62" x2="269.80" y2="424.62" stroke="#A8102A" stroke-width="0.7"/>
<circle cx="259.52" cy="429.32" r="1.3" fill="#8D9CA8"/>
<path d="M267.17 422.93L268.78 425.81L265.55 425.81Z" fill="#C5102F"/>
<circle cx="256.96" cy="428.18" r="1.3" fill="#8D9CA8"/>
<path d="M270.21 422.28L271.83 425.17L268.60 425.17Z" fill="#C5102F"/>
<circle cx="259.00" cy="422.35" r="1.3" fill="#8D9CA8"/>
<path d="M269.97 420.93L271.59 423.82L268.36 423.82Z" fill="#C5102F"/>
<circle cx="259.87" cy="424.48" r="1.3" fill="#8D9CA8"/>
<path d="M268.16 416.43L269.78 419.32L266.55 419.32Z" fill="#C5102F"/>
<circle cx="258.65" cy="418.08" r="1.3" fill="#8D9CA8"/>
<path d="M266.21 421.44L267.82 424.33L264.59 424.33Z" fill="#C5102F"/>
<circle cx="259.92" cy="417.65" r="1.3" fill="#8D9CA8"/>
<path d="M269.87 421.06L271.48 423.95L268.25 423.95Z" fill="#C5102F"/>
<circle cx="258.15" cy="421.16" r="1.3" fill="#8D9CA8"/>
<path d="M268.07 417.27L269.69 420.16L266.46 420.16Z" fill="#C5102F"/>
<circle cx="260.36" cy="419.92" r="1.3" fill="#8D9CA8"/>
<path d="M266.53 419.06L268.14 421.95L264.91 421.95Z" fill="#C5102F"/>
<circle cx="259.56" cy="418.22" r="1.3" fill="#8D9CA8"/>
<path d="M269.39 418.87L271.01 421.76L267.78 421.76Z" fill="#C5102F"/>
<circle cx="258.13" cy="419.09" r="1.3" fill="#8D9CA8"/>
<path d="M270.37 421.80L271.98 424.69L268.75 424.69Z" fill="#C5102F"/>
<circle cx="259.23" cy="417.86" r="1.3" fill="#8D9CA8"/>
<path d="M268.93 417.55L270.55 420.44L267.32 420.44Z" fill="#C5102F"/>
<circle cx="259.72" cy="419.73" r="1.3" fill="#8D9CA8"/>
<path d="M269.30 417.21L270.92 420.10L267.69 420.10Z" fill="#C5102F"/>
<rect x="281.30" y="412.11" width="6.60" height="36.00" fill="#D4D9DE"/>
<rect x="290.70" y="402.72" width="6.60" height="45.38" fill="#EF9E9C"/>
<line x1="284.60" y1="415.24" x2="284.60" y2="410.54" stroke="#6F7E8A" stroke-width="0.7"/>
<line x1="283.10" y1="410.54" x2="286.10" y2="410.54" stroke="#6F7E8A" stroke-width="0.7"/>
<line x1="283.10" y1="415.24" x2="286.10" y2="415.24" stroke="#6F7E8A" stroke-width="0.7"/>
<line x1="294.00" y1="405.85" x2="294.00" y2="400.37" stroke="#A8102A" stroke-width="0.7"/>
<line x1="292.50" y1="400.37" x2="295.50" y2="400.37" stroke="#A8102A" stroke-width="0.7"/>
<line x1="292.50" y1="405.85" x2="295.50" y2="405.85" stroke="#A8102A" stroke-width="0.7"/>
<circle cx="282.62" cy="416.80" r="1.3" fill="#8D9CA8"/>
<path d="M292.24 405.71L293.85 408.60L290.62 408.60Z" fill="#C5102F"/>
<circle cx="284.80" cy="416.23" r="1.3" fill="#8D9CA8"/>
<path d="M292.97 405.00L294.58 407.89L291.35 407.89Z" fill="#C5102F"/>
<circle cx="282.75" cy="415.35" r="1.3" fill="#8D9CA8"/>
<path d="M295.59 404.23L297.21 407.12L293.98 407.12Z" fill="#C5102F"/>
<circle cx="283.65" cy="416.47" r="1.3" fill="#8D9CA8"/>
<path d="M294.20 399.28L295.81 402.17L292.58 402.17Z" fill="#C5102F"/>
<circle cx="285.79" cy="411.45" r="1.3" fill="#8D9CA8"/>
<path d="M295.30 400.64L296.92 403.53L293.69 403.53Z" fill="#C5102F"/>
<circle cx="285.44" cy="411.70" r="1.3" fill="#8D9CA8"/>
<path d="M294.19 403.39L295.80 406.28L292.57 406.28Z" fill="#C5102F"/>
<circle cx="286.00" cy="413.04" r="1.3" fill="#8D9CA8"/>
<path d="M294.38 399.74L295.99 402.63L292.76 402.63Z" fill="#C5102F"/>
<circle cx="286.78" cy="411.65" r="1.3" fill="#8D9CA8"/>
<path d="M295.92 399.64L297.54 402.53L294.31 402.53Z" fill="#C5102F"/>
<circle cx="284.04" cy="411.59" r="1.3" fill="#8D9CA8"/>
<path d="M292.31 399.47L293.93 402.36L290.70 402.36Z" fill="#C5102F"/>
<circle cx="283.55" cy="410.94" r="1.3" fill="#8D9CA8"/>
<path d="M292.93 398.90L294.55 401.79L291.32 401.79Z" fill="#C5102F"/>
<circle cx="285.82" cy="413.97" r="1.3" fill="#8D9CA8"/>
<path d="M294.95 401.19L296.57 404.08L293.34 404.08Z" fill="#C5102F"/>
<circle cx="284.51" cy="411.67" r="1.3" fill="#8D9CA8"/>
<path d="M296.18 398.53L297.80 401.42L294.57 401.42Z" fill="#C5102F"/>
<line x1="182.00" y1="407.80" x2="191.80" y2="407.80" stroke="#444" stroke-width="0.8"/>
<text x="187.90" y="406.70" font-size="6.3" text-anchor="middle" fill="#2a2a2a" stroke="#2a2a2a" stroke-width="0.16">ns</text>
<line x1="207.70" y1="407.80" x2="217.50" y2="407.80" stroke="#444" stroke-width="0.8"/>
<text x="213.60" y="406.70" font-size="6.3" text-anchor="middle" fill="#2a2a2a" stroke="#2a2a2a" stroke-width="0.16">ns</text>
<line x1="233.40" y1="407.80" x2="243.20" y2="407.80" stroke="#444" stroke-width="0.8"/>
<text x="239.30" y="406.70" font-size="6.3" text-anchor="middle" fill="#2a2a2a" stroke="#2a2a2a" stroke-width="0.16">ns</text>
<line x1="259.10" y1="407.80" x2="268.90" y2="407.80" stroke="#444" stroke-width="0.8"/>
<text x="265.00" y="406.70" font-size="6.3" text-anchor="middle" fill="#2a2a2a" stroke="#2a2a2a" stroke-width="0.16">ns</text>
<line x1="285.00" y1="395.60" x2="295.50" y2="395.60" stroke="#444" stroke-width="0.8"/>
<circle cx="288.80" cy="392.00" r="0.95" fill="#2a2a2a"/>
<circle cx="291.70" cy="392.00" r="0.95" fill="#2a2a2a"/>
<text x="186.50" y="459.80" font-size="6.9" text-anchor="middle" fill="#2a2a2a" stroke="#2a2a2a" stroke-width="0.16">3M</text>
<text x="212.20" y="459.80" font-size="6.9" text-anchor="middle" fill="#2a2a2a" stroke="#2a2a2a" stroke-width="0.16">6M</text>
<text x="237.90" y="459.80" font-size="6.9" text-anchor="middle" fill="#2a2a2a" stroke="#2a2a2a" stroke-width="0.16">9M</text>
<text x="263.60" y="459.80" font-size="6.9" text-anchor="middle" fill="#2a2a2a" stroke="#2a2a2a" stroke-width="0.16">16M</text>
<text x="289.30" y="459.80" font-size="6.9" text-anchor="middle" fill="#2a2a2a" stroke="#2a2a2a" stroke-width="0.16">20M</text>
<text x="156.20" y="415.70" font-size="9.6" text-anchor="middle" fill="#2a2a2a" stroke="#2a2a2a" stroke-width="0.08" transform="rotate(-90 156.20 415.70)" textLength="69.5" lengthAdjust="spacingAndGlyphs">% of myeloid cells in PB</text>
<circle cx="213.70" cy="470.60" r="1.3" fill="#8D9CA8"/>
<text x="218.20" y="472.70" font-size="6.8" text-anchor="start" fill="#2a2a2a" stroke="#2a2a2a" stroke-width="0.16">WT</text>
<path d="M234.80 469.10L236.42 471.99L233.19 471.99Z" fill="#C5102F"/>
<text x="239.30" y="472.80" font-size="6.6" text-anchor="start" fill="#2a2a2a" stroke="#2a2a2a" stroke-width="0.16"><tspan font-style="italic">Dcaf8</tspan><tspan font-size="4.2" dy="-2.6">-/-</tspan></text>
<text x="324.10" y="375.40" font-size="12" text-anchor="start" fill="#111" stroke="#111" stroke-width="0.35" font-weight="bold">N</text>
<line x1="362.40" y1="384.20" x2="362.40" y2="449.00" stroke="#333333" stroke-width="1.2"/>
<line x1="360.00" y1="387.10" x2="362.40" y2="387.10" stroke="#333333" stroke-width="0.8"/>
<text x="356.50" y="389.50" font-size="6.7" text-anchor="end" fill="#2a2a2a" stroke="#2a2a2a" stroke-width="0.16">80</text>
<line x1="360.00" y1="402.45" x2="362.40" y2="402.45" stroke="#333333" stroke-width="0.8"/>
<text x="356.50" y="404.85" font-size="6.7" text-anchor="end" fill="#2a2a2a" stroke="#2a2a2a" stroke-width="0.16">60</text>
<line x1="360.00" y1="417.80" x2="362.40" y2="417.80" stroke="#333333" stroke-width="0.8"/>
<text x="356.50" y="420.20" font-size="6.7" text-anchor="end" fill="#2a2a2a" stroke="#2a2a2a" stroke-width="0.16">40</text>
<line x1="360.00" y1="433.15" x2="362.40" y2="433.15" stroke="#333333" stroke-width="0.8"/>
<text x="356.50" y="435.55" font-size="6.7" text-anchor="end" fill="#2a2a2a" stroke="#2a2a2a" stroke-width="0.16">20</text>
<line x1="360.00" y1="448.50" x2="362.40" y2="448.50" stroke="#333333" stroke-width="0.8"/>
<text x="356.50" y="450.90" font-size="6.7" text-anchor="end" fill="#2a2a2a" stroke="#2a2a2a" stroke-width="0.16">0</text>
<line x1="361.90" y1="448.50" x2="487.10" y2="448.50" stroke="#333333" stroke-width="1.2"/>
<line x1="374.00" y1="448.50" x2="374.00" y2="450.90" stroke="#333333" stroke-width="0.8"/>
<line x1="399.60" y1="448.50" x2="399.60" y2="450.90" stroke="#333333" stroke-width="0.8"/>
<line x1="425.40" y1="448.50" x2="425.40" y2="450.90" stroke="#333333" stroke-width="0.8"/>
<line x1="451.00" y1="448.50" x2="451.00" y2="450.90" stroke="#333333" stroke-width="0.8"/>
<line x1="476.60" y1="448.50" x2="476.60" y2="450.90" stroke="#333333" stroke-width="0.8"/>
<rect x="366.10" y="399.76" width="5.80" height="48.74" fill="#D4D9DE"/>
<rect x="376.10" y="405.52" width="5.80" height="42.98" fill="#EF9E9C"/>
<line x1="369.00" y1="406.29" x2="369.00" y2="396.31" stroke="#6F7E8A" stroke-width="0.7"/>
<line x1="367.50" y1="396.31" x2="370.50" y2="396.31" stroke="#6F7E8A" stroke-width="0.7"/>
<line x1="367.50" y1="406.29" x2="370.50" y2="406.29" stroke="#6F7E8A" stroke-width="0.7"/>
<line x1="379.00" y1="411.66" x2="379.00" y2="400.15" stroke="#A8102A" stroke-width="0.7"/>
<line x1="377.50" y1="400.15" x2="380.50" y2="400.15" stroke="#A8102A" stroke-width="0.7"/>
<line x1="377.50" y1="411.66" x2="380.50" y2="411.66" stroke="#A8102A" stroke-width="0.7"/>
<circle cx="369.22" cy="416.26" r="1.3" fill="#8D9CA8"/>
<path d="M379.15 416.10L380.77 418.99L377.54 418.99Z" fill="#C5102F"/>
<circle cx="368.33" cy="414.85" r="1.3" fill="#8D9CA8"/>
<path d="M380.96 414.80L382.58 417.69L379.35 417.69Z" fill="#C5102F"/>
<circle cx="367.97" cy="407.28" r="1.3" fill="#8D9CA8"/>
<path d="M380.26 411.90L381.88 414.79L378.65 414.79Z" fill="#C5102F"/>
<circle cx="368.09" cy="402.72" r="1.3" fill="#8D9CA8"/>
<path d="M377.27 401.82L378.88 404.71L375.65 404.71Z" fill="#C5102F"/>
<circle cx="368.63" cy="402.81" r="1.3" fill="#8D9CA8"/>
<path d="M380.74 401.14L382.35 404.03L379.12 404.03Z" fill="#C5102F"/>
<circle cx="368.94" cy="408.70" r="1.3" fill="#8D9CA8"/>
<path d="M381.06 415.03L382.68 417.92L379.45 417.92Z" fill="#C5102F"/>
<circle cx="370.51" cy="407.36" r="1.3" fill="#8D9CA8"/>
<path d="M377.37 411.33L378.99 414.22L375.76 414.22Z" fill="#C5102F"/>
<circle cx="369.14" cy="410.23" r="1.3" fill="#8D9CA8"/>
<path d="M379.86 404.47L381.47 407.36L378.24 407.36Z" fill="#C5102F"/>
<circle cx="368.29" cy="406.43" r="1.3" fill="#8D9CA8"/>
<path d="M378.23 405.76L379.85 408.65L376.62 408.65Z" fill="#C5102F"/>
<circle cx="368.19" cy="408.13" r="1.3" fill="#8D9CA8"/>
<path d="M377.93 402.05L379.54 404.94L376.31 404.94Z" fill="#C5102F"/>
<circle cx="369.81" cy="412.99" r="1.3" fill="#8D9CA8"/>
<path d="M378.66 409.85L380.27 412.74L377.04 412.74Z" fill="#C5102F"/>
<circle cx="369.80" cy="401.26" r="1.3" fill="#8D9CA8"/>
<path d="M377.41 399.97L379.03 402.86L375.80 402.86Z" fill="#C5102F"/>
<circle cx="367.25" cy="401.50" r="1.3" fill="#8D9CA8"/>
<path d="M380.91 403.33L382.52 406.22L379.29 406.22Z" fill="#C5102F"/>
<circle cx="369.07" cy="406.50" r="1.3" fill="#8D9CA8"/>
<path d="M379.62 406.30L381.24 409.19L378.01 409.19Z" fill="#C5102F"/>
<rect x="391.70" y="402.45" width="5.80" height="46.05" fill="#D4D9DE"/>
<rect x="401.70" y="403.22" width="5.80" height="45.28" fill="#EF9E9C"/>
<line x1="394.60" y1="410.12" x2="394.60" y2="397.85" stroke="#6F7E8A" stroke-width="0.7"/>
<line x1="393.10" y1="397.85" x2="396.10" y2="397.85" stroke="#6F7E8A" stroke-width="0.7"/>
<line x1="393.10" y1="410.12" x2="396.10" y2="410.12" stroke="#6F7E8A" stroke-width="0.7"/>
<line x1="404.60" y1="407.82" x2="404.60" y2="400.15" stroke="#A8102A" stroke-width="0.7"/>
<line x1="403.10" y1="400.15" x2="406.10" y2="400.15" stroke="#A8102A" stroke-width="0.7"/>
<line x1="403.10" y1="407.82" x2="406.10" y2="407.82" stroke="#A8102A" stroke-width="0.7"/>
<circle cx="396.11" cy="421.64" r="1.3" fill="#8D9CA8"/>
<path d="M405.07 408.43L406.68 411.31L403.45 411.31Z" fill="#C5102F"/>
<circle cx="396.23" cy="419.81" r="1.3" fill="#8D9CA8"/>
<path d="M404.18 407.66L405.80 410.55L402.57 410.55Z" fill="#C5102F"/>
<circle cx="394.76" cy="406.01" r="1.3" fill="#8D9CA8"/>
<path d="M402.64 404.14L404.25 407.03L401.02 407.03Z" fill="#C5102F"/>
<circle cx="394.80" cy="403.31" r="1.3" fill="#8D9CA8"/>
<path d="M404.17 404.32L405.79 407.21L402.56 407.21Z" fill="#C5102F"/>
<circle cx="394.80" cy="416.47" r="1.3" fill="#8D9CA8"/>
<path d="M403.09 399.89L404.70 402.78L401.47 402.78Z" fill="#C5102F"/>
<circle cx="393.10" cy="401.57" r="1.3" fill="#8D9CA8"/>
<path d="M405.33 403.66L406.95 406.55L403.72 406.55Z" fill="#C5102F"/>
<circle cx="396.45" cy="398.16" r="1.3" fill="#8D9CA8"/>
<path d="M404.42 402.29L406.04 405.18L402.81 405.18Z" fill="#C5102F"/>
<circle cx="394.20" cy="403.29" r="1.3" fill="#8D9CA8"/>
<path d="M405.50 401.91L407.11 404.80L403.88 404.80Z" fill="#C5102F"/>
<circle cx="393.59" cy="414.42" r="1.3" fill="#8D9CA8"/>
<path d="M403.10 402.22L404.71 405.11L401.48 405.11Z" fill="#C5102F"/>
<circle cx="393.92" cy="402.11" r="1.3" fill="#8D9CA8"/>
<path d="M403.69 401.44L405.31 404.33L402.08 404.33Z" fill="#C5102F"/>
<circle cx="394.68" cy="406.51" r="1.3" fill="#8D9CA8"/>
<path d="M403.90 406.76L405.52 409.65L402.29 409.65Z" fill="#C5102F"/>
<circle cx="394.09" cy="398.63" r="1.3" fill="#8D9CA8"/>
<path d="M404.43 404.63L406.04 407.52L402.81 407.52Z" fill="#C5102F"/>
<circle cx="393.25" cy="413.05" r="1.3" fill="#8D9CA8"/>
<path d="M406.09 403.45L407.71 406.34L404.48 406.34Z" fill="#C5102F"/>
<circle cx="395.77" cy="403.90" r="1.3" fill="#8D9CA8"/>
<path d="M406.68 400.58L408.29 403.47L405.06 403.47Z" fill="#C5102F"/>
<rect x="417.50" y="403.22" width="5.80" height="45.28" fill="#D4D9DE"/>
<rect x="427.50" y="406.67" width="5.80" height="41.83" fill="#EF9E9C"/>
<line x1="420.40" y1="408.59" x2="420.40" y2="400.92" stroke="#6F7E8A" stroke-width="0.7"/>
<line x1="418.90" y1="400.92" x2="421.90" y2="400.92" stroke="#6F7E8A" stroke-width="0.7"/>
<line x1="418.90" y1="408.59" x2="421.90" y2="408.59" stroke="#6F7E8A" stroke-width="0.7"/>
<line x1="430.40" y1="412.43" x2="430.40" y2="400.92" stroke="#A8102A" stroke-width="0.7"/>
<line x1="428.90" y1="400.92" x2="431.90" y2="400.92" stroke="#A8102A" stroke-width="0.7"/>
<line x1="428.90" y1="412.43" x2="431.90" y2="412.43" stroke="#A8102A" stroke-width="0.7"/>
<circle cx="421.83" cy="416.26" r="1.3" fill="#8D9CA8"/>
<path d="M432.37 416.10L433.98 418.99L430.75 418.99Z" fill="#C5102F"/>
<circle cx="418.28" cy="415.14" r="1.3" fill="#8D9CA8"/>
<path d="M429.94 414.74L431.56 417.63L428.33 417.63Z" fill="#C5102F"/>
<circle cx="422.19" cy="410.18" r="1.3" fill="#8D9CA8"/>
<path d="M432.32 401.76L433.93 404.65L430.70 404.65Z" fill="#C5102F"/>
<circle cx="422.32" cy="406.51" r="1.3" fill="#8D9CA8"/>
<path d="M430.56 405.95L432.18 408.84L428.95 408.84Z" fill="#C5102F"/>
<circle cx="419.90" cy="405.42" r="1.3" fill="#8D9CA8"/>
<path d="M429.25 405.09L430.87 407.98L427.64 407.98Z" fill="#C5102F"/>
<circle cx="420.03" cy="413.68" r="1.3" fill="#8D9CA8"/>
<path d="M430.55 407.58L432.17 410.47L428.94 410.47Z" fill="#C5102F"/>
<circle cx="419.94" cy="407.43" r="1.3" fill="#8D9CA8"/>
<path d="M431.92 402.42L433.53 405.31L430.30 405.31Z" fill="#C5102F"/>
<circle cx="418.83" cy="407.77" r="1.3" fill="#8D9CA8"/>
<path d="M428.86 405.63L430.47 408.52L427.24 408.52Z" fill="#C5102F"/>
<circle cx="420.57" cy="408.11" r="1.3" fill="#8D9CA8"/>
<path d="M429.06 409.78L430.68 412.67L427.45 412.67Z" fill="#C5102F"/>
<circle cx="421.20" cy="409.45" r="1.3" fill="#8D9CA8"/>
<path d="M429.26 405.47L430.88 408.36L427.65 408.36Z" fill="#C5102F"/>
<circle cx="419.77" cy="410.40" r="1.3" fill="#8D9CA8"/>
<path d="M431.84 404.28L433.46 407.17L430.23 407.17Z" fill="#C5102F"/>
<circle cx="420.81" cy="408.25" r="1.3" fill="#8D9CA8"/>
<path d="M431.85 402.24L433.46 405.13L430.23 405.13Z" fill="#C5102F"/>
<circle cx="420.99" cy="404.67" r="1.3" fill="#8D9CA8"/>
<path d="M432.19 408.63L433.80 411.52L430.57 411.52Z" fill="#C5102F"/>
<circle cx="418.79" cy="405.28" r="1.3" fill="#8D9CA8"/>
<path d="M429.86 401.06L431.48 403.95L428.25 403.95Z" fill="#C5102F"/>
<rect x="443.10" y="412.43" width="5.80" height="36.07" fill="#D4D9DE"/>
<rect x="453.10" y="419.33" width="5.80" height="29.17" fill="#EF9E9C"/>
<line x1="446.00" y1="417.80" x2="446.00" y2="406.29" stroke="#6F7E8A" stroke-width="0.7"/>
<line x1="444.50" y1="406.29" x2="447.50" y2="406.29" stroke="#6F7E8A" stroke-width="0.7"/>
<line x1="444.50" y1="417.80" x2="447.50" y2="417.80" stroke="#6F7E8A" stroke-width="0.7"/>
<line x1="456.00" y1="423.17" x2="456.00" y2="417.03" stroke="#A8102A" stroke-width="0.7"/>
<line x1="454.50" y1="417.03" x2="457.50" y2="417.03" stroke="#A8102A" stroke-width="0.7"/>
<line x1="454.50" y1="423.17" x2="457.50" y2="423.17" stroke="#A8102A" stroke-width="0.7"/>
<circle cx="445.92" cy="421.64" r="1.3" fill="#8D9CA8"/>
<path d="M456.50 421.47L458.11 424.36L454.88 424.36Z" fill="#C5102F"/>
<circle cx="444.98" cy="420.40" r="1.3" fill="#8D9CA8"/>
<path d="M456.61 421.00L458.22 423.89L454.99 423.89Z" fill="#C5102F"/>
<circle cx="448.06" cy="410.87" r="1.3" fill="#8D9CA8"/>
<path d="M457.46 416.33L459.07 419.22L455.84 419.22Z" fill="#C5102F"/>
<circle cx="444.74" cy="415.89" r="1.3" fill="#8D9CA8"/>
<path d="M453.99 415.73L455.60 418.62L452.37 418.62Z" fill="#C5102F"/>
<circle cx="446.10" cy="409.46" r="1.3" fill="#8D9CA8"/>
<path d="M457.22 420.58L458.83 423.47L455.60 423.47Z" fill="#C5102F"/>
<circle cx="444.58" cy="417.36" r="1.3" fill="#8D9CA8"/>
<path d="M457.48 419.35L459.09 422.24L455.86 422.24Z" fill="#C5102F"/>
<circle cx="446.64" cy="416.75" r="1.3" fill="#8D9CA8"/>
<path d="M456.23 418.15L457.84 421.04L454.61 421.04Z" fill="#C5102F"/>
<circle cx="446.39" cy="410.96" r="1.3" fill="#8D9CA8"/>
<path d="M458.19 417.67L459.81 420.56L456.58 420.56Z" fill="#C5102F"/>
<circle cx="443.86" cy="406.83" r="1.3" fill="#8D9CA8"/>
<path d="M455.93 418.94L457.55 421.83L454.32 421.83Z" fill="#C5102F"/>
<circle cx="447.37" cy="410.65" r="1.3" fill="#8D9CA8"/>
<path d="M456.04 416.60L457.65 419.49L454.42 419.49Z" fill="#C5102F"/>
<circle cx="444.97" cy="410.57" r="1.3" fill="#8D9CA8"/>
<path d="M457.92 415.96L459.53 418.85L456.30 418.85Z" fill="#C5102F"/>
<circle cx="444.96" cy="411.99" r="1.3" fill="#8D9CA8"/>
<path d="M455.13 418.93L456.74 421.82L453.51 421.82Z" fill="#C5102F"/>
<circle cx="447.58" cy="407.64" r="1.3" fill="#8D9CA8"/>
<path d="M453.93 418.89L455.54 421.78L452.31 421.78Z" fill="#C5102F"/>
<circle cx="447.64" cy="414.95" r="1.3" fill="#8D9CA8"/>
<path d="M454.37 416.87L455.99 419.76L452.76 419.76Z" fill="#C5102F"/>
<rect x="468.70" y="417.80" width="5.80" height="30.70" fill="#D4D9DE"/>
<rect x="478.70" y="428.55" width="5.80" height="19.95" fill="#EF9E9C"/>
<line x1="471.60" y1="420.87" x2="471.60" y2="414.73" stroke="#6F7E8A" stroke-width="0.7"/>
<line x1="470.10" y1="414.73" x2="473.10" y2="414.73" stroke="#6F7E8A" stroke-width="0.7"/>
<line x1="470.10" y1="420.87" x2="473.10" y2="420.87" stroke="#6F7E8A" stroke-width="0.7"/>
<line x1="481.60" y1="431.62" x2="481.60" y2="425.48" stroke="#A8102A" stroke-width="0.7"/>
<line x1="480.10" y1="425.48" x2="483.10" y2="425.48" stroke="#A8102A" stroke-width="0.7"/>
<line x1="480.10" y1="431.62" x2="483.10" y2="431.62" stroke="#A8102A" stroke-width="0.7"/>
<circle cx="471.98" cy="420.87" r="1.3" fill="#8D9CA8"/>
<path d="M479.94 429.92L481.55 432.81L478.32 432.81Z" fill="#C5102F"/>
<circle cx="470.57" cy="420.40" r="1.3" fill="#8D9CA8"/>
<path d="M480.26 429.44L481.88 432.33L478.65 432.33Z" fill="#C5102F"/>
<circle cx="472.58" cy="418.91" r="1.3" fill="#8D9CA8"/>
<path d="M479.54 424.14L481.16 427.03L477.93 427.03Z" fill="#C5102F"/>
<circle cx="469.77" cy="415.05" r="1.3" fill="#8D9CA8"/>
<path d="M481.03 425.44L482.65 428.33L479.42 428.33Z" fill="#C5102F"/>
<circle cx="472.41" cy="416.34" r="1.3" fill="#8D9CA8"/>
<path d="M479.50 426.77L481.12 429.66L477.89 429.66Z" fill="#C5102F"/>
<circle cx="469.73" cy="417.80" r="1.3" fill="#8D9CA8"/>
<path d="M483.06 428.02L484.68 430.91L481.45 430.91Z" fill="#C5102F"/>
<circle cx="472.39" cy="417.11" r="1.3" fill="#8D9CA8"/>
<path d="M483.06 425.92L484.68 428.81L481.45 428.81Z" fill="#C5102F"/>
<circle cx="472.07" cy="416.98" r="1.3" fill="#8D9CA8"/>
<path d="M481.41 427.65L483.03 430.54L479.80 430.54Z" fill="#C5102F"/>
<circle cx="471.32" cy="418.03" r="1.3" fill="#8D9CA8"/>
<path d="M480.75 427.01L482.36 429.90L479.13 429.90Z" fill="#C5102F"/>
<circle cx="473.23" cy="420.26" r="1.3" fill="#8D9CA8"/>
<path d="M482.24 425.50L483.85 428.39L480.62 428.39Z" fill="#C5102F"/>
<circle cx="472.48" cy="417.67" r="1.3" fill="#8D9CA8"/>
<path d="M481.01 427.60L482.62 430.49L479.39 430.49Z" fill="#C5102F"/>
<circle cx="473.21" cy="418.15" r="1.3" fill="#8D9CA8"/>
<path d="M480.47 428.67L482.09 431.56L478.86 431.56Z" fill="#C5102F"/>
<circle cx="472.67" cy="416.10" r="1.3" fill="#8D9CA8"/>
<path d="M479.54 425.68L481.15 428.57L477.92 428.57Z" fill="#C5102F"/>
<circle cx="471.97" cy="416.98" r="1.3" fill="#8D9CA8"/>
<path d="M481.56 426.27L483.18 429.16L479.95 429.16Z" fill="#C5102F"/>
<line x1="369.20" y1="390.80" x2="378.80" y2="390.80" stroke="#444" stroke-width="0.8"/>
<text x="374.00" y="389.70" font-size="6.3" text-anchor="middle" fill="#2a2a2a" stroke="#2a2a2a" stroke-width="0.16">ns</text>
<line x1="394.80" y1="390.80" x2="404.40" y2="390.80" stroke="#444" stroke-width="0.8"/>
<text x="399.60" y="389.70" font-size="6.3" text-anchor="middle" fill="#2a2a2a" stroke="#2a2a2a" stroke-width="0.16">ns</text>
<line x1="420.60" y1="390.80" x2="430.20" y2="390.80" stroke="#444" stroke-width="0.8"/>
<text x="425.40" y="389.70" font-size="6.3" text-anchor="middle" fill="#2a2a2a" stroke="#2a2a2a" stroke-width="0.16">ns</text>
<line x1="446.30" y1="400.40" x2="455.90" y2="400.40" stroke="#444" stroke-width="0.8"/>
<circle cx="451.10" cy="396.80" r="0.95" fill="#2a2a2a"/>
<line x1="472.20" y1="400.40" x2="482.30" y2="400.40" stroke="#444" stroke-width="0.8"/>
<circle cx="475.80" cy="396.80" r="0.95" fill="#2a2a2a"/>
<circle cx="478.70" cy="396.80" r="0.95" fill="#2a2a2a"/>
<text x="374.00" y="460.20" font-size="6.9" text-anchor="middle" fill="#2a2a2a" stroke="#2a2a2a" stroke-width="0.16">3M</text>
<text x="399.60" y="460.20" font-size="6.9" text-anchor="middle" fill="#2a2a2a" stroke="#2a2a2a" stroke-width="0.16">6M</text>
<text x="425.40" y="460.20" font-size="6.9" text-anchor="middle" fill="#2a2a2a" stroke="#2a2a2a" stroke-width="0.16">9M</text>
<text x="451.00" y="460.20" font-size="6.9" text-anchor="middle" fill="#2a2a2a" stroke="#2a2a2a" stroke-width="0.16">16M</text>
<text x="476.60" y="460.20" font-size="6.9" text-anchor="middle" fill="#2a2a2a" stroke="#2a2a2a" stroke-width="0.16">20M</text>
<text x="343.00" y="415.80" font-size="9.6" text-anchor="middle" fill="#2a2a2a" stroke="#2a2a2a" stroke-width="0.08" transform="rotate(-90 343.00 415.80)" textLength="50" lengthAdjust="spacingAndGlyphs">% of B cells in PB</text>
<circle cx="402.50" cy="470.60" r="1.3" fill="#8D9CA8"/>
<text x="407.40" y="472.70" font-size="6.8" text-anchor="start" fill="#2a2a2a" stroke="#2a2a2a" stroke-width="0.16">WT</text>
<path d="M423.80 469.10L425.42 471.99L422.19 471.99Z" fill="#C5102F"/>
<text x="428.50" y="472.80" font-size="6.6" text-anchor="start" fill="#2a2a2a" stroke="#2a2a2a" stroke-width="0.16"><tspan font-style="italic">Dcaf8</tspan><tspan font-size="4.2" dy="-2.6">-/-</tspan></text>
<circle cx="426.00" cy="351.30" r="1.3" fill="#8D9CA8"/>
<text x="430.60" y="353.60" font-size="6.8" text-anchor="start" fill="#2a2a2a" stroke="#2a2a2a" stroke-width="0.16">WT</text>
<path d="M446.70 349.80L448.31 352.69L445.08 352.69Z" fill="#C5102F"/>
<text x="451.50" y="353.60" font-size="6.8" text-anchor="start" fill="#2a2a2a" stroke="#2a2a2a" stroke-width="0.16"><tspan font-style="italic">Dcaf8</tspan><tspan font-size="4.4" dy="-2.7" fill="#888" stroke="#888">-/-</tspan></text>
<defs>
<filter id="bl1" x="-50%" y="-50%" width="200%" height="200%"><feGaussianBlur stdDeviation="0.6"/></filter>
<filter id="bl2" x="-50%" y="-50%" width="200%" height="200%"><feGaussianBlur stdDeviation="1.2"/></filter>
<filter id="bl05" x="-50%" y="-50%" width="200%" height="200%"><feGaussianBlur stdDeviation="0.35"/></filter>
<clipPath id="cb1"><rect x="210.3" y="57" width="26.6" height="12.1"/></clipPath>
<clipPath id="cb2"><rect x="210.3" y="71.1" width="26.6" height="10.6"/></clipPath>
<clipPath id="cd1"><rect x="390.1" y="54" width="33.8" height="12.5"/></clipPath>
<clipPath id="cd2"><rect x="390.1" y="70.1" width="33.8" height="10.1"/></clipPath>
</defs>
<rect x="210.30" y="57.00" width="26.60" height="12.00" fill="#dcdcdc"/>
<g clip-path="url(#cb1)"><ellipse cx="219" cy="66.2" rx="6" ry="2.2" fill="#a8a8a8" filter="url(#bl2)"/><ellipse cx="230" cy="66" rx="4" ry="1.6" fill="#c4c4c4" filter="url(#bl2)"/><ellipse cx="218.5" cy="61.6" rx="4.4" ry="2.0" fill="#080808" filter="url(#bl1)"/><ellipse cx="230.3" cy="61.8" rx="3.9" ry="1.5" fill="#151515" filter="url(#bl1)"/></g>
<rect x="210.80" y="57.50" width="25.70" height="11.10" fill="none" stroke="#2a2a2a" stroke-width="1.0"/>
<rect x="210.30" y="71.10" width="26.60" height="10.60" fill="#d6d6d6"/>
<g clip-path="url(#cb2)"><ellipse cx="218.2" cy="75.1" rx="4.2" ry="1.6" fill="#141414" filter="url(#bl1)"/><ellipse cx="229.9" cy="75.1" rx="4.2" ry="1.6" fill="#141414" filter="url(#bl1)"/></g>
<rect x="210.80" y="71.60" width="25.70" height="9.70" fill="none" stroke="#2a2a2a" stroke-width="1.0"/>
<rect x="390.10" y="54.00" width="33.80" height="12.50" fill="#ececec"/>
<g clip-path="url(#cd1)"><ellipse cx="399.4" cy="62.4" rx="4" ry="1.0" fill="#cfcfcf" filter="url(#bl1)"/><ellipse cx="414.5" cy="62.6" rx="4" ry="1.0" fill="#d4d4d4" filter="url(#bl1)"/><ellipse cx="399.4" cy="57.9" rx="4.6" ry="1.4" fill="#050505" filter="url(#bl1)"/><ellipse cx="414.6" cy="57.5" rx="3.6" ry="0.95" fill="#2a2a2a" filter="url(#bl1)"/></g>
<rect x="390.50" y="54.50" width="33.20" height="11.80" fill="none" stroke="#333" stroke-width="1.0"/>
<rect x="390.10" y="70.10" width="33.80" height="10.10" fill="#b4b4b4"/>
<g clip-path="url(#cd2)"><ellipse cx="400" cy="75.4" rx="5.3" ry="2.0" fill="#050505" filter="url(#bl1)"/><ellipse cx="415.1" cy="75.3" rx="5.4" ry="2.2" fill="#050505" filter="url(#bl1)"/></g>
<rect x="390.50" y="70.50" width="33.20" height="9.70" fill="none" stroke="#333" stroke-width="1.0"/>
<text x="6.70" y="133.40" font-size="12" text-anchor="start" fill="#111" stroke="#111" stroke-width="0.35" font-weight="bold">F</text>
<text x="83.50" y="149.80" font-size="6.9" text-anchor="middle" fill="#2a2a2a" stroke="#2a2a2a" stroke-width="0.16" textLength="71.5" lengthAdjust="spacingAndGlyphs">8 weeks, Lineage<tspan font-size="4.2" dy="-2.6">-</tspan><tspan dy="2.6"> gated</tspan></text>
<line x1="14.80" y1="152.30" x2="152.90" y2="152.30" stroke="#333" stroke-width="0.8"/>
<text x="54.20" y="161.40" font-size="6.9" text-anchor="middle" fill="#2a2a2a" stroke="#2a2a2a" stroke-width="0.16">WT</text>
<text x="126.00" y="161.40" font-size="6.9" text-anchor="middle" fill="#2a2a2a" stroke="#2a2a2a" stroke-width="0.16"><tspan font-style="italic">Dcaf8</tspan><tspan font-size="4.2" dy="-2.6">-/-</tspan></text>
<text x="17.00" y="164.40" font-size="8.0" text-anchor="middle" fill="#2a2a2a" stroke="#2a2a2a" stroke-width="0.16" transform="rotate(-90 17.00 164.40)" textLength="13.1" lengthAdjust="spacingAndGlyphs">c-Kit</text>
<line x1="15.70" y1="179.00" x2="15.70" y2="231.80" stroke="#222" stroke-width="0.9"/>
<line x1="15.70" y1="231.80" x2="134.50" y2="231.80" stroke="#222" stroke-width="0.9"/>
<path d="M15.7 175.3 L13.6 180 L17.8 180 Z" fill="#111"/>
<path d="M138.5 231.8 L133.8 229.7 L133.8 233.9 Z" fill="#111"/>
<text x="141.10" y="233.90" font-size="8.3" text-anchor="start" fill="#2a2a2a" stroke="#2a2a2a" stroke-width="0.16" textLength="15.3" lengthAdjust="spacingAndGlyphs">Sca-1</text>
<line x1="15.50" y1="262.00" x2="15.50" y2="313.90" stroke="#222" stroke-width="0.9"/>
<line x1="15.50" y1="313.90" x2="134.50" y2="313.90" stroke="#222" stroke-width="0.9"/>
<path d="M15.5 257.4 L13.4 262.1 L17.6 262.1 Z" fill="#111"/>
<path d="M138.8 313.9 L134.1 311.8 L134.1 316 Z" fill="#111"/>
<text x="141.40" y="316.20" font-size="8.3" text-anchor="start" fill="#2a2a2a" stroke="#2a2a2a" stroke-width="0.16" textLength="20.0" lengthAdjust="spacingAndGlyphs">CD150</text>
<text x="17.00" y="245.50" font-size="8.3" text-anchor="middle" fill="#2a2a2a" stroke="#2a2a2a" stroke-width="0.16" transform="rotate(-90 17.00 245.50)" textLength="16.8" lengthAdjust="spacingAndGlyphs">CD48</text>
<ellipse cx="52.0" cy="184" rx="9" ry="4" fill="#888" fill-opacity="0.55" filter="url(#bl2)"/>
<ellipse cx="54.0" cy="198" rx="12" ry="6.5" fill="#c8c8c8" fill-opacity="0.55" filter="url(#bl2)"/>
<path d="M51.9 179.2h0.6v0.6h-0.6zM56.7 183.4h0.6v0.6h-0.6zM49.0 184.8h0.6v0.6h-0.6zM57.8 185.4h0.6v0.6h-0.6zM48.8 183.4h0.6v0.6h-0.6zM66.7 180.1h0.6v0.6h-0.6zM52.4 183.6h0.6v0.6h-0.6zM61.0 185.1h0.6v0.6h-0.6zM53.3 182.7h0.6v0.6h-0.6zM59.4 183.7h0.6v0.6h-0.6zM51.4 183.9h0.6v0.6h-0.6zM56.1 183.6h0.6v0.6h-0.6zM53.5 185.6h0.6v0.6h-0.6zM47.7 182.9h0.6v0.6h-0.6zM52.4 185.3h0.6v0.6h-0.6zM55.4 182.2h0.6v0.6h-0.6zM45.8 182.5h0.6v0.6h-0.6zM49.0 185.8h0.6v0.6h-0.6zM55.8 183.7h0.6v0.6h-0.6zM45.5 180.1h0.6v0.6h-0.6zM52.7 185.1h0.6v0.6h-0.6zM54.3 182.8h0.6v0.6h-0.6zM55.4 178.4h0.6v0.6h-0.6zM58.9 187.4h0.6v0.6h-0.6zM53.0 184.1h0.6v0.6h-0.6zM50.8 185.8h0.6v0.6h-0.6zM46.5 182.0h0.6v0.6h-0.6zM54.4 179.8h0.6v0.6h-0.6zM55.0 184.7h0.6v0.6h-0.6zM51.9 182.2h0.6v0.6h-0.6zM62.5 182.1h0.6v0.6h-0.6zM52.9 185.6h0.6v0.6h-0.6zM51.9 186.2h0.6v0.6h-0.6zM52.0 184.2h0.6v0.6h-0.6zM52.0 185.2h0.6v0.6h-0.6zM48.1 185.8h0.6v0.6h-0.6zM58.2 180.8h0.6v0.6h-0.6zM43.0 180.1h0.6v0.6h-0.6zM47.2 185.3h0.6v0.6h-0.6zM52.4 188.4h0.6v0.6h-0.6zM61.5 179.5h0.6v0.6h-0.6zM49.7 182.7h0.6v0.6h-0.6zM61.6 185.5h0.6v0.6h-0.6zM57.6 181.4h0.6v0.6h-0.6zM64.2 180.6h0.6v0.6h-0.6zM52.2 181.0h0.6v0.6h-0.6zM46.6 184.2h0.6v0.6h-0.6zM46.6 185.3h0.6v0.6h-0.6zM55.1 183.6h0.6v0.6h-0.6zM55.8 186.4h0.6v0.6h-0.6zM58.5 180.5h0.6v0.6h-0.6zM55.9 185.8h0.6v0.6h-0.6zM49.7 182.5h0.6v0.6h-0.6zM59.2 185.2h0.6v0.6h-0.6zM52.8 187.2h0.6v0.6h-0.6zM57.6 188.0h0.6v0.6h-0.6zM49.7 186.1h0.6v0.6h-0.6zM40.1 181.8h0.6v0.6h-0.6zM62.0 181.0h0.6v0.6h-0.6zM51.1 182.6h0.6v0.6h-0.6zM54.9 186.5h0.6v0.6h-0.6zM61.6 183.1h0.6v0.6h-0.6zM54.0 185.8h0.6v0.6h-0.6zM58.9 182.8h0.6v0.6h-0.6zM60.1 179.8h0.6v0.6h-0.6zM53.7 179.9h0.6v0.6h-0.6zM49.2 181.4h0.6v0.6h-0.6zM62.6 187.8h0.6v0.6h-0.6zM56.7 183.9h0.6v0.6h-0.6zM40.3 179.1h0.6v0.6h-0.6zM53.1 185.4h0.6v0.6h-0.6zM55.1 181.6h0.6v0.6h-0.6zM47.4 184.9h0.6v0.6h-0.6zM65.6 185.4h0.6v0.6h-0.6zM51.8 183.2h0.6v0.6h-0.6zM54.7 184.3h0.6v0.6h-0.6zM43.4 187.5h0.6v0.6h-0.6zM54.7 184.9h0.6v0.6h-0.6zM49.3 186.4h0.6v0.6h-0.6zM58.1 181.6h0.6v0.6h-0.6zM58.2 181.6h0.6v0.6h-0.6zM40.9 185.7h0.6v0.6h-0.6zM46.0 182.1h0.6v0.6h-0.6zM46.4 183.3h0.6v0.6h-0.6zM49.8 183.9h0.6v0.6h-0.6zM54.8 187.7h0.6v0.6h-0.6zM54.7 184.8h0.6v0.6h-0.6zM54.9 185.6h0.6v0.6h-0.6zM57.4 184.2h0.6v0.6h-0.6zM45.0 181.0h0.6v0.6h-0.6zM53.7 182.7h0.6v0.6h-0.6zM49.5 182.1h0.6v0.6h-0.6zM47.7 186.3h0.6v0.6h-0.6zM56.7 180.2h0.6v0.6h-0.6zM53.1 183.5h0.6v0.6h-0.6zM49.2 186.2h0.6v0.6h-0.6zM53.9 183.7h0.6v0.6h-0.6zM46.9 186.0h0.6v0.6h-0.6zM53.5 184.2h0.6v0.6h-0.6zM47.9 187.4h0.6v0.6h-0.6zM42.0 180.1h0.6v0.6h-0.6zM45.8 182.2h0.6v0.6h-0.6zM50.0 184.0h0.6v0.6h-0.6zM60.1 185.0h0.6v0.6h-0.6zM52.7 183.1h0.6v0.6h-0.6zM54.3 185.6h0.6v0.6h-0.6zM47.6 188.0h0.6v0.6h-0.6zM51.9 185.7h0.6v0.6h-0.6zM49.7 187.0h0.6v0.6h-0.6zM58.1 184.3h0.6v0.6h-0.6zM55.8 182.7h0.6v0.6h-0.6zM46.6 186.5h0.6v0.6h-0.6zM44.8 182.1h0.6v0.6h-0.6zM45.0 181.0h0.6v0.6h-0.6zM49.5 185.7h0.6v0.6h-0.6zM46.2 185.4h0.6v0.6h-0.6zM40.9 181.3h0.6v0.6h-0.6zM46.8 185.2h0.6v0.6h-0.6zM59.9 177.5h0.6v0.6h-0.6zM52.4 187.7h0.6v0.6h-0.6zM52.1 187.8h0.6v0.6h-0.6zM58.9 184.2h0.6v0.6h-0.6zM43.6 181.8h0.6v0.6h-0.6zM61.3 181.2h0.6v0.6h-0.6zM45.5 182.3h0.6v0.6h-0.6zM59.6 183.8h0.6v0.6h-0.6zM42.9 181.9h0.6v0.6h-0.6zM56.1 186.5h0.6v0.6h-0.6zM61.2 184.8h0.6v0.6h-0.6zM54.8 181.0h0.6v0.6h-0.6zM48.6 180.0h0.6v0.6h-0.6zM51.1 184.6h0.6v0.6h-0.6zM52.3 181.1h0.6v0.6h-0.6zM55.4 185.9h0.6v0.6h-0.6zM59.4 177.9h0.6v0.6h-0.6zM55.2 186.2h0.6v0.6h-0.6zM56.4 183.6h0.6v0.6h-0.6zM53.5 182.9h0.6v0.6h-0.6zM48.0 180.9h0.6v0.6h-0.6zM71.0 182.9h0.6v0.6h-0.6zM55.3 184.9h0.6v0.6h-0.6zM57.4 183.4h0.6v0.6h-0.6zM57.6 188.7h0.6v0.6h-0.6zM48.2 182.0h0.6v0.6h-0.6zM46.0 182.6h0.6v0.6h-0.6zM44.7 184.4h0.6v0.6h-0.6zM56.0 186.6h0.6v0.6h-0.6zM59.7 182.5h0.6v0.6h-0.6zM53.1 181.4h0.6v0.6h-0.6zM52.4 183.7h0.6v0.6h-0.6zM55.0 183.3h0.6v0.6h-0.6zM45.6 186.1h0.6v0.6h-0.6zM51.2 179.9h0.6v0.6h-0.6zM41.8 185.3h0.6v0.6h-0.6zM41.3 185.2h0.6v0.6h-0.6zM61.1 184.9h0.6v0.6h-0.6zM56.9 185.0h0.6v0.6h-0.6zM48.4 184.1h0.6v0.6h-0.6zM40.9 185.1h0.6v0.6h-0.6zM55.8 183.9h0.6v0.6h-0.6zM58.5 183.1h0.6v0.6h-0.6zM41.8 187.2h0.6v0.6h-0.6zM52.6 181.9h0.6v0.6h-0.6zM48.9 182.6h0.6v0.6h-0.6zM53.2 180.2h0.6v0.6h-0.6zM52.7 182.6h0.6v0.6h-0.6zM55.9 182.7h0.6v0.6h-0.6zM55.8 181.2h0.6v0.6h-0.6zM54.1 182.7h0.6v0.6h-0.6zM58.4 184.5h0.6v0.6h-0.6zM58.1 182.3h0.6v0.6h-0.6zM48.4 183.4h0.6v0.6h-0.6zM45.9 182.8h0.6v0.6h-0.6zM59.5 180.7h0.6v0.6h-0.6zM48.6 183.7h0.6v0.6h-0.6zM61.7 189.0h0.6v0.6h-0.6zM48.7 182.3h0.6v0.6h-0.6zM53.6 181.8h0.6v0.6h-0.6zM40.2 185.0h0.6v0.6h-0.6zM54.2 184.2h0.6v0.6h-0.6zM55.3 184.0h0.6v0.6h-0.6zM48.3 185.1h0.6v0.6h-0.6zM51.8 183.9h0.6v0.6h-0.6zM45.5 183.7h0.6v0.6h-0.6zM51.7 181.3h0.6v0.6h-0.6zM47.5 182.4h0.6v0.6h-0.6zM52.1 181.9h0.6v0.6h-0.6zM45.5 183.7h0.6v0.6h-0.6zM44.8 184.3h0.6v0.6h-0.6zM46.9 183.0h0.6v0.6h-0.6zM58.6 177.8h0.6v0.6h-0.6zM44.1 182.2h0.6v0.6h-0.6zM51.1 181.2h0.6v0.6h-0.6zM46.4 181.9h0.6v0.6h-0.6zM46.0 183.8h0.6v0.6h-0.6zM47.9 183.1h0.6v0.6h-0.6zM52.2 185.2h0.6v0.6h-0.6zM48.3 182.4h0.6v0.6h-0.6zM54.5 178.0h0.6v0.6h-0.6zM52.3 181.2h0.6v0.6h-0.6zM57.2 182.7h0.6v0.6h-0.6zM46.8 186.2h0.6v0.6h-0.6zM48.7 181.2h0.6v0.6h-0.6zM54.7 178.5h0.6v0.6h-0.6zM51.0 185.3h0.6v0.6h-0.6zM44.6 185.9h0.6v0.6h-0.6zM50.2 182.1h0.6v0.6h-0.6zM42.1 187.1h0.6v0.6h-0.6zM59.9 182.6h0.6v0.6h-0.6zM54.2 178.6h0.6v0.6h-0.6zM52.4 184.4h0.6v0.6h-0.6zM47.5 181.8h0.6v0.6h-0.6zM50.8 181.4h0.6v0.6h-0.6zM42.0 185.4h0.6v0.6h-0.6zM57.1 185.0h0.6v0.6h-0.6zM56.2 186.1h0.6v0.6h-0.6zM52.1 182.0h0.6v0.6h-0.6zM45.1 184.8h0.6v0.6h-0.6zM46.0 180.4h0.6v0.6h-0.6zM66.1 182.5h0.6v0.6h-0.6zM52.9 185.0h0.6v0.6h-0.6zM55.5 183.2h0.6v0.6h-0.6zM55.0 183.2h0.6v0.6h-0.6zM49.3 182.8h0.6v0.6h-0.6zM55.6 185.2h0.6v0.6h-0.6zM54.5 179.6h0.6v0.6h-0.6zM50.7 184.8h0.6v0.6h-0.6zM49.7 184.7h0.6v0.6h-0.6zM52.7 186.5h0.6v0.6h-0.6zM58.3 185.2h0.6v0.6h-0.6zM48.9 182.9h0.6v0.6h-0.6zM49.9 184.6h0.6v0.6h-0.6zM56.4 182.0h0.6v0.6h-0.6zM58.3 184.7h0.6v0.6h-0.6zM51.2 181.8h0.6v0.6h-0.6zM52.5 183.4h0.6v0.6h-0.6zM51.4 182.8h0.6v0.6h-0.6zM53.6 182.0h0.6v0.6h-0.6zM55.2 178.9h0.6v0.6h-0.6zM52.4 182.3h0.6v0.6h-0.6zM49.7 184.2h0.6v0.6h-0.6zM43.4 183.0h0.6v0.6h-0.6zM50.3 182.2h0.6v0.6h-0.6zM48.2 185.2h0.6v0.6h-0.6zM52.0 180.8h0.6v0.6h-0.6zM46.9 185.9h0.6v0.6h-0.6zM52.6 184.4h0.6v0.6h-0.6zM52.1 184.0h0.6v0.6h-0.6zM48.8 181.0h0.6v0.6h-0.6zM46.2 181.2h0.6v0.6h-0.6zM62.4 185.1h0.6v0.6h-0.6zM52.3 183.2h0.6v0.6h-0.6zM42.5 185.4h0.6v0.6h-0.6zM41.7 186.1h0.6v0.6h-0.6zM49.0 179.9h0.6v0.6h-0.6zM60.7 181.0h0.6v0.6h-0.6zM50.4 183.1h0.6v0.6h-0.6zM43.2 184.6h0.6v0.6h-0.6zM44.1 183.0h0.6v0.6h-0.6zM45.3 187.5h0.6v0.6h-0.6zM52.2 187.2h0.6v0.6h-0.6zM48.9 184.1h0.6v0.6h-0.6zM55.1 183.7h0.6v0.6h-0.6zM50.4 186.4h0.6v0.6h-0.6zM54.2 183.7h0.6v0.6h-0.6zM56.8 176.5h0.6v0.6h-0.6zM45.9 184.7h0.6v0.6h-0.6zM49.8 182.8h0.6v0.6h-0.6zM43.3 182.6h0.6v0.6h-0.6zM60.1 182.2h0.6v0.6h-0.6zM46.1 182.8h0.6v0.6h-0.6zM58.2 181.8h0.6v0.6h-0.6zM42.3 184.1h0.6v0.6h-0.6zM49.9 183.9h0.6v0.6h-0.6zM41.9 180.7h0.6v0.6h-0.6zM50.2 184.4h0.6v0.6h-0.6zM62.3 187.0h0.6v0.6h-0.6zM58.7 185.9h0.6v0.6h-0.6zM58.1 185.1h0.6v0.6h-0.6zM55.7 182.5h0.6v0.6h-0.6zM49.1 186.8h0.6v0.6h-0.6zM45.1 182.0h0.6v0.6h-0.6zM50.7 184.0h0.6v0.6h-0.6zM48.0 182.3h0.6v0.6h-0.6zM47.3 181.6h0.6v0.6h-0.6zM49.7 192.0h0.6v0.6h-0.6zM45.1 189.7h0.6v0.6h-0.6zM44.7 183.9h0.6v0.6h-0.6zM51.6 185.1h0.6v0.6h-0.6zM50.2 180.7h0.6v0.6h-0.6zM48.7 182.7h0.6v0.6h-0.6zM43.2 183.3h0.6v0.6h-0.6zM52.5 179.7h0.6v0.6h-0.6zM44.2 185.5h0.6v0.6h-0.6zM46.4 181.8h0.6v0.6h-0.6zM48.5 181.9h0.6v0.6h-0.6zM55.1 184.1h0.6v0.6h-0.6zM64.5 182.6h0.6v0.6h-0.6zM54.2 181.7h0.6v0.6h-0.6zM57.6 179.6h0.6v0.6h-0.6zM47.1 182.9h0.6v0.6h-0.6zM68.4 189.2h0.6v0.6h-0.6zM63.7 183.5h0.6v0.6h-0.6zM42.9 184.9h0.6v0.6h-0.6zM58.3 181.8h0.6v0.6h-0.6zM63.6 188.5h0.6v0.6h-0.6zM42.0 182.5h0.6v0.6h-0.6zM50.4 182.8h0.6v0.6h-0.6zM51.1 183.6h0.6v0.6h-0.6zM50.5 190.1h0.6v0.6h-0.6zM49.2 180.4h0.6v0.6h-0.6zM59.0 186.1h0.6v0.6h-0.6zM45.3 181.2h0.6v0.6h-0.6zM46.8 178.0h0.6v0.6h-0.6zM44.2 184.7h0.6v0.6h-0.6zM44.1 182.9h0.6v0.6h-0.6zM50.3 182.0h0.6v0.6h-0.6zM54.8 183.9h0.6v0.6h-0.6zM59.4 184.4h0.6v0.6h-0.6zM48.4 187.8h0.6v0.6h-0.6zM53.8 184.8h0.6v0.6h-0.6zM53.7 182.7h0.6v0.6h-0.6zM46.5 186.7h0.6v0.6h-0.6zM47.6 182.7h0.6v0.6h-0.6zM57.2 186.1h0.6v0.6h-0.6zM52.1 188.6h0.6v0.6h-0.6zM50.7 189.5h0.6v0.6h-0.6zM60.2 184.0h0.6v0.6h-0.6zM50.6 186.4h0.6v0.6h-0.6zM41.9 185.3h0.6v0.6h-0.6zM56.1 187.6h0.6v0.6h-0.6zM60.3 184.3h0.6v0.6h-0.6zM54.8 181.0h0.6v0.6h-0.6zM55.3 181.5h0.6v0.6h-0.6zM43.9 188.0h0.6v0.6h-0.6zM62.6 183.2h0.6v0.6h-0.6zM53.8 189.7h0.6v0.6h-0.6zM44.0 187.4h0.6v0.6h-0.6zM50.2 185.1h0.6v0.6h-0.6zM51.6 187.5h0.6v0.6h-0.6zM59.2 183.1h0.6v0.6h-0.6zM59.1 186.0h0.6v0.6h-0.6zM60.4 180.8h0.6v0.6h-0.6zM57.2 183.5h0.6v0.6h-0.6zM53.5 179.5h0.6v0.6h-0.6zM64.8 183.4h0.6v0.6h-0.6zM54.7 179.7h0.6v0.6h-0.6zM50.8 184.0h0.6v0.6h-0.6zM52.8 180.6h0.6v0.6h-0.6zM54.1 182.5h0.6v0.6h-0.6zM57.4 180.6h0.6v0.6h-0.6zM59.0 180.8h0.6v0.6h-0.6zM45.3 184.7h0.6v0.6h-0.6zM55.6 184.6h0.6v0.6h-0.6zM48.7 182.8h0.6v0.6h-0.6zM46.6 186.4h0.6v0.6h-0.6zM41.5 180.4h0.6v0.6h-0.6zM45.0 184.8h0.6v0.6h-0.6zM43.1 185.6h0.6v0.6h-0.6zM41.8 179.0h0.6v0.6h-0.6zM54.0 184.6h0.6v0.6h-0.6zM49.8 187.0h0.6v0.6h-0.6zM49.4 182.2h0.6v0.6h-0.6zM50.9 187.0h0.6v0.6h-0.6zM51.0 188.4h0.6v0.6h-0.6zM60.2 186.3h0.6v0.6h-0.6zM57.4 186.9h0.6v0.6h-0.6zM54.9 177.4h0.6v0.6h-0.6zM53.1 183.2h0.6v0.6h-0.6zM45.0 178.7h0.6v0.6h-0.6zM52.8 180.7h0.6v0.6h-0.6zM52.0 181.4h0.6v0.6h-0.6zM54.0 181.0h0.6v0.6h-0.6zM53.4 183.4h0.6v0.6h-0.6zM49.3 182.8h0.6v0.6h-0.6zM53.6 176.6h0.6v0.6h-0.6zM40.5 183.8h0.6v0.6h-0.6zM52.2 184.1h0.6v0.6h-0.6zM54.0 181.0h0.6v0.6h-0.6zM59.7 185.5h0.6v0.6h-0.6zM54.0 182.9h0.6v0.6h-0.6zM47.7 182.0h0.6v0.6h-0.6zM54.3 183.8h0.6v0.6h-0.6zM56.9 184.1h0.6v0.6h-0.6zM49.3 186.5h0.6v0.6h-0.6zM43.5 180.0h0.6v0.6h-0.6zM54.3 182.2h0.6v0.6h-0.6zM43.5 179.7h0.6v0.6h-0.6zM52.0 187.0h0.6v0.6h-0.6zM60.5 183.2h0.6v0.6h-0.6zM50.4 181.4h0.6v0.6h-0.6zM63.3 183.3h0.6v0.6h-0.6zM49.8 185.5h0.6v0.6h-0.6zM58.9 183.6h0.6v0.6h-0.6zM59.4 180.2h0.6v0.6h-0.6zM54.7 185.0h0.6v0.6h-0.6zM54.5 185.2h0.6v0.6h-0.6zM53.1 185.0h0.6v0.6h-0.6zM57.1 180.6h0.6v0.6h-0.6zM46.7 188.7h0.6v0.6h-0.6zM52.4 184.2h0.6v0.6h-0.6zM54.2 188.0h0.6v0.6h-0.6zM50.4 181.4h0.6v0.6h-0.6zM53.6 187.1h0.6v0.6h-0.6zM41.4 183.2h0.6v0.6h-0.6zM49.6 183.9h0.6v0.6h-0.6zM55.9 184.3h0.6v0.6h-0.6zM42.6 182.9h0.6v0.6h-0.6zM51.2 183.4h0.6v0.6h-0.6zM58.4 182.7h0.6v0.6h-0.6zM48.2 183.1h0.6v0.6h-0.6zM54.2 200.5h0.6v0.6h-0.6zM40.3 190.2h0.6v0.6h-0.6zM53.3 201.6h0.6v0.6h-0.6zM53.5 198.2h0.6v0.6h-0.6zM67.9 197.6h0.6v0.6h-0.6zM56.3 196.8h0.6v0.6h-0.6zM61.8 199.5h0.6v0.6h-0.6zM52.0 200.5h0.6v0.6h-0.6zM57.6 194.6h0.6v0.6h-0.6zM59.9 207.2h0.6v0.6h-0.6zM45.3 191.7h0.6v0.6h-0.6zM53.1 196.0h0.6v0.6h-0.6zM55.9 196.8h0.6v0.6h-0.6zM55.3 202.6h0.6v0.6h-0.6zM64.2 186.6h0.6v0.6h-0.6zM58.4 197.2h0.6v0.6h-0.6zM58.3 197.3h0.6v0.6h-0.6zM56.9 195.9h0.6v0.6h-0.6zM48.9 196.2h0.6v0.6h-0.6zM60.5 197.2h0.6v0.6h-0.6zM53.4 203.2h0.6v0.6h-0.6zM60.9 192.6h0.6v0.6h-0.6zM47.7 196.2h0.6v0.6h-0.6zM57.9 202.2h0.6v0.6h-0.6zM40.5 203.7h0.6v0.6h-0.6zM54.5 198.1h0.6v0.6h-0.6zM60.6 198.4h0.6v0.6h-0.6zM55.6 201.9h0.6v0.6h-0.6zM63.4 191.5h0.6v0.6h-0.6zM41.4 191.8h0.6v0.6h-0.6zM56.1 195.7h0.6v0.6h-0.6zM52.4 194.5h0.6v0.6h-0.6zM47.3 199.6h0.6v0.6h-0.6zM53.7 198.5h0.6v0.6h-0.6zM58.3 204.4h0.6v0.6h-0.6zM70.9 194.1h0.6v0.6h-0.6zM64.3 197.9h0.6v0.6h-0.6zM57.5 202.6h0.6v0.6h-0.6zM49.3 196.4h0.6v0.6h-0.6zM61.8 200.0h0.6v0.6h-0.6zM68.5 200.1h0.6v0.6h-0.6zM55.1 196.4h0.6v0.6h-0.6zM58.8 187.9h0.6v0.6h-0.6zM64.3 198.6h0.6v0.6h-0.6zM49.1 197.5h0.6v0.6h-0.6zM58.3 191.1h0.6v0.6h-0.6zM61.1 186.2h0.6v0.6h-0.6zM65.6 195.6h0.6v0.6h-0.6zM56.0 195.7h0.6v0.6h-0.6zM49.2 201.8h0.6v0.6h-0.6zM46.4 196.6h0.6v0.6h-0.6zM58.3 191.0h0.6v0.6h-0.6zM58.9 192.6h0.6v0.6h-0.6zM61.0 195.3h0.6v0.6h-0.6zM64.3 196.7h0.6v0.6h-0.6zM46.0 201.9h0.6v0.6h-0.6zM63.6 201.7h0.6v0.6h-0.6zM42.3 191.7h0.6v0.6h-0.6zM61.4 199.4h0.6v0.6h-0.6zM51.6 196.1h0.6v0.6h-0.6zM55.4 186.3h0.6v0.6h-0.6zM44.4 191.0h0.6v0.6h-0.6zM62.3 195.1h0.6v0.6h-0.6zM51.1 193.4h0.6v0.6h-0.6zM42.4 192.5h0.6v0.6h-0.6zM56.4 194.8h0.6v0.6h-0.6zM60.1 203.6h0.6v0.6h-0.6zM51.3 189.1h0.6v0.6h-0.6zM46.1 197.3h0.6v0.6h-0.6zM59.9 196.1h0.6v0.6h-0.6zM53.6 198.1h0.6v0.6h-0.6zM63.7 200.5h0.6v0.6h-0.6zM51.1 194.0h0.6v0.6h-0.6zM53.7 193.9h0.6v0.6h-0.6zM46.1 202.1h0.6v0.6h-0.6zM55.5 191.6h0.6v0.6h-0.6zM57.2 191.7h0.6v0.6h-0.6zM46.2 188.9h0.6v0.6h-0.6zM44.5 194.5h0.6v0.6h-0.6zM55.9 196.5h0.6v0.6h-0.6zM56.2 197.2h0.6v0.6h-0.6zM50.3 202.8h0.6v0.6h-0.6zM45.1 191.9h0.6v0.6h-0.6zM70.2 198.1h0.6v0.6h-0.6zM45.3 205.0h0.6v0.6h-0.6zM53.6 196.0h0.6v0.6h-0.6zM46.0 196.6h0.6v0.6h-0.6zM59.8 196.8h0.6v0.6h-0.6zM50.1 198.9h0.6v0.6h-0.6zM63.9 197.2h0.6v0.6h-0.6zM50.5 195.0h0.6v0.6h-0.6zM57.0 194.0h0.6v0.6h-0.6zM65.1 194.1h0.6v0.6h-0.6zM62.4 196.0h0.6v0.6h-0.6zM59.8 191.2h0.6v0.6h-0.6zM52.2 192.0h0.6v0.6h-0.6zM47.6 196.7h0.6v0.6h-0.6zM44.5 206.7h0.6v0.6h-0.6zM67.3 201.5h0.6v0.6h-0.6zM54.0 194.0h0.6v0.6h-0.6zM40.2 201.0h0.6v0.6h-0.6zM44.5 196.7h0.6v0.6h-0.6zM49.1 196.9h0.6v0.6h-0.6zM67.3 196.5h0.6v0.6h-0.6zM52.4 201.5h0.6v0.6h-0.6zM49.7 187.3h0.6v0.6h-0.6zM47.8 195.7h0.6v0.6h-0.6zM47.7 201.9h0.6v0.6h-0.6zM63.4 191.9h0.6v0.6h-0.6zM54.2 198.0h0.6v0.6h-0.6zM50.6 193.7h0.6v0.6h-0.6zM57.4 194.9h0.6v0.6h-0.6zM68.4 196.8h0.6v0.6h-0.6zM54.0 197.9h0.6v0.6h-0.6zM55.7 194.8h0.6v0.6h-0.6zM58.5 201.0h0.6v0.6h-0.6zM55.7 199.0h0.6v0.6h-0.6zM42.9 194.8h0.6v0.6h-0.6zM54.6 195.3h0.6v0.6h-0.6zM62.6 198.8h0.6v0.6h-0.6zM53.7 193.6h0.6v0.6h-0.6zM50.8 195.6h0.6v0.6h-0.6zM67.1 191.0h0.6v0.6h-0.6zM61.3 195.1h0.6v0.6h-0.6zM66.8 201.6h0.6v0.6h-0.6zM47.1 198.7h0.6v0.6h-0.6zM42.7 200.5h0.6v0.6h-0.6zM52.8 191.7h0.6v0.6h-0.6zM53.5 199.8h0.6v0.6h-0.6zM73.4 201.2h0.6v0.6h-0.6zM56.9 196.6h0.6v0.6h-0.6zM61.8 203.3h0.6v0.6h-0.6zM56.1 194.9h0.6v0.6h-0.6zM59.5 208.6h0.6v0.6h-0.6zM55.2 203.9h0.6v0.6h-0.6zM64.7 192.9h0.6v0.6h-0.6zM55.0 192.8h0.6v0.6h-0.6zM56.6 194.8h0.6v0.6h-0.6zM46.5 200.4h0.6v0.6h-0.6zM53.4 195.7h0.6v0.6h-0.6zM60.8 199.2h0.6v0.6h-0.6zM63.8 206.1h0.6v0.6h-0.6zM44.0 199.3h0.6v0.6h-0.6zM69.3 192.2h0.6v0.6h-0.6zM63.6 200.4h0.6v0.6h-0.6zM57.0 186.0h0.6v0.6h-0.6zM45.5 195.1h0.6v0.6h-0.6zM54.5 197.6h0.6v0.6h-0.6zM60.4 197.6h0.6v0.6h-0.6zM52.5 192.0h0.6v0.6h-0.6zM47.9 196.0h0.6v0.6h-0.6zM71.7 195.1h0.6v0.6h-0.6zM53.3 201.9h0.6v0.6h-0.6zM60.3 200.1h0.6v0.6h-0.6zM54.7 205.0h0.6v0.6h-0.6zM49.3 204.0h0.6v0.6h-0.6zM66.4 198.3h0.6v0.6h-0.6zM49.7 193.9h0.6v0.6h-0.6zM56.1 187.1h0.6v0.6h-0.6zM64.2 192.7h0.6v0.6h-0.6zM44.2 199.5h0.6v0.6h-0.6zM54.5 192.7h0.6v0.6h-0.6zM64.5 191.1h0.6v0.6h-0.6zM49.4 189.1h0.6v0.6h-0.6zM67.9 199.9h0.6v0.6h-0.6zM42.5 199.5h0.6v0.6h-0.6zM49.1 192.7h0.6v0.6h-0.6zM52.6 187.2h0.6v0.6h-0.6zM55.5 197.0h0.6v0.6h-0.6zM65.9 192.6h0.6v0.6h-0.6zM42.8 192.2h0.6v0.6h-0.6zM49.3 201.2h0.6v0.6h-0.6zM71.8 199.9h0.6v0.6h-0.6zM57.4 191.4h0.6v0.6h-0.6zM42.7 190.9h0.6v0.6h-0.6zM59.2 202.6h0.6v0.6h-0.6zM52.2 190.5h0.6v0.6h-0.6zM60.1 196.4h0.6v0.6h-0.6zM48.0 189.2h0.6v0.6h-0.6zM50.2 198.5h0.6v0.6h-0.6zM57.8 201.4h0.6v0.6h-0.6zM71.7 196.1h0.6v0.6h-0.6zM63.5 192.6h0.6v0.6h-0.6zM42.5 196.8h0.6v0.6h-0.6zM47.8 200.1h0.6v0.6h-0.6zM52.1 188.1h0.6v0.6h-0.6zM53.7 194.1h0.6v0.6h-0.6zM49.8 194.1h0.6v0.6h-0.6zM53.1 200.8h0.6v0.6h-0.6zM58.0 197.1h0.6v0.6h-0.6zM47.3 189.1h0.6v0.6h-0.6zM69.2 204.5h0.6v0.6h-0.6zM40.3 198.9h0.6v0.6h-0.6zM57.2 197.5h0.6v0.6h-0.6zM55.4 194.9h0.6v0.6h-0.6zM65.4 198.7h0.6v0.6h-0.6zM62.0 198.4h0.6v0.6h-0.6zM55.6 194.7h0.6v0.6h-0.6zM63.7 187.8h0.6v0.6h-0.6zM64.9 195.9h0.6v0.6h-0.6zM56.0 194.3h0.6v0.6h-0.6zM57.3 194.7h0.6v0.6h-0.6zM57.8 192.6h0.6v0.6h-0.6zM50.5 193.1h0.6v0.6h-0.6zM65.4 187.9h0.6v0.6h-0.6zM54.9 195.5h0.6v0.6h-0.6zM64.4 197.6h0.6v0.6h-0.6zM56.8 198.2h0.6v0.6h-0.6zM55.7 195.9h0.6v0.6h-0.6zM52.7 201.2h0.6v0.6h-0.6zM71.7 192.0h0.6v0.6h-0.6zM55.9 191.6h0.6v0.6h-0.6zM69.3 205.7h0.6v0.6h-0.6zM55.9 204.1h0.6v0.6h-0.6zM55.7 191.1h0.6v0.6h-0.6zM68.2 189.2h0.6v0.6h-0.6zM45.6 202.9h0.6v0.6h-0.6zM61.0 200.0h0.6v0.6h-0.6zM51.0 193.5h0.6v0.6h-0.6zM44.6 203.0h0.6v0.6h-0.6zM58.4 208.0h0.6v0.6h-0.6zM57.6 199.7h0.6v0.6h-0.6zM49.6 194.6h0.6v0.6h-0.6zM58.0 193.0h0.6v0.6h-0.6zM62.3 202.3h0.6v0.6h-0.6zM44.0 200.1h0.6v0.6h-0.6zM56.0 198.1h0.6v0.6h-0.6zM51.3 202.8h0.6v0.6h-0.6zM55.7 200.2h0.6v0.6h-0.6zM57.1 193.8h0.6v0.6h-0.6zM44.7 205.3h0.6v0.6h-0.6zM67.8 196.9h0.6v0.6h-0.6zM62.6 203.6h0.6v0.6h-0.6zM66.1 201.8h0.6v0.6h-0.6zM53.1 200.5h0.6v0.6h-0.6zM50.0 198.2h0.6v0.6h-0.6zM46.6 188.9h0.6v0.6h-0.6zM46.8 189.3h0.6v0.6h-0.6zM57.4 200.4h0.6v0.6h-0.6zM57.7 193.2h0.6v0.6h-0.6zM53.8 190.5h0.6v0.6h-0.6zM57.3 199.9h0.6v0.6h-0.6zM69.3 192.0h0.6v0.6h-0.6zM52.8 196.5h0.6v0.6h-0.6zM72.7 198.2h0.6v0.6h-0.6zM57.7 189.6h0.6v0.6h-0.6zM52.9 207.9h0.6v0.6h-0.6zM64.9 200.4h0.6v0.6h-0.6zM51.1 192.5h0.6v0.6h-0.6zM56.0 194.0h0.6v0.6h-0.6zM72.1 194.3h0.6v0.6h-0.6zM50.2 200.8h0.6v0.6h-0.6zM56.0 192.6h0.6v0.6h-0.6zM43.6 193.0h0.6v0.6h-0.6zM66.6 194.2h0.6v0.6h-0.6zM52.8 201.6h0.6v0.6h-0.6zM66.9 201.1h0.6v0.6h-0.6zM57.2 194.1h0.6v0.6h-0.6zM46.7 197.8h0.6v0.6h-0.6zM53.6 198.2h0.6v0.6h-0.6zM60.4 204.4h0.6v0.6h-0.6zM55.4 190.9h0.6v0.6h-0.6zM58.9 192.7h0.6v0.6h-0.6zM51.8 195.7h0.6v0.6h-0.6zM60.1 202.4h0.6v0.6h-0.6zM59.0 192.3h0.6v0.6h-0.6zM62.5 194.6h0.6v0.6h-0.6zM42.2 201.7h0.6v0.6h-0.6zM69.1 191.9h0.6v0.6h-0.6zM51.0 194.1h0.6v0.6h-0.6zM50.3 203.0h0.6v0.6h-0.6zM60.6 197.9h0.6v0.6h-0.6zM55.4 193.3h0.6v0.6h-0.6zM49.9 193.6h0.6v0.6h-0.6zM58.8 200.3h0.6v0.6h-0.6zM51.2 200.6h0.6v0.6h-0.6zM47.3 207.4h0.6v0.6h-0.6zM45.6 194.3h0.6v0.6h-0.6zM53.4 201.1h0.6v0.6h-0.6zM56.2 192.7h0.6v0.6h-0.6zM58.7 201.0h0.6v0.6h-0.6zM45.2 186.5h0.6v0.6h-0.6zM58.7 191.9h0.6v0.6h-0.6zM62.2 206.1h0.6v0.6h-0.6zM64.3 198.6h0.6v0.6h-0.6zM60.9 196.2h0.6v0.6h-0.6zM47.2 196.4h0.6v0.6h-0.6zM50.7 198.2h0.6v0.6h-0.6zM44.8 191.8h0.6v0.6h-0.6zM54.8 197.5h0.6v0.6h-0.6zM54.4 201.7h0.6v0.6h-0.6zM42.4 200.2h0.6v0.6h-0.6zM52.0 196.8h0.6v0.6h-0.6zM62.6 197.6h0.6v0.6h-0.6zM61.1 204.9h0.6v0.6h-0.6zM53.6 188.0h0.6v0.6h-0.6zM49.9 194.7h0.6v0.6h-0.6zM55.7 193.0h0.6v0.6h-0.6zM55.1 198.2h0.6v0.6h-0.6zM49.3 190.3h0.6v0.6h-0.6zM47.8 200.7h0.6v0.6h-0.6zM48.7 202.8h0.6v0.6h-0.6zM48.6 197.3h0.6v0.6h-0.6zM50.6 196.8h0.6v0.6h-0.6zM56.3 192.1h0.6v0.6h-0.6zM46.1 189.8h0.6v0.6h-0.6zM63.2 196.5h0.6v0.6h-0.6zM64.3 200.1h0.6v0.6h-0.6zM51.6 193.8h0.6v0.6h-0.6zM55.1 193.0h0.6v0.6h-0.6zM53.8 199.1h0.6v0.6h-0.6zM44.1 191.3h0.6v0.6h-0.6zM51.7 193.0h0.6v0.6h-0.6zM53.2 198.6h0.6v0.6h-0.6zM56.8 200.4h0.6v0.6h-0.6zM54.6 198.4h0.6v0.6h-0.6zM53.1 197.4h0.6v0.6h-0.6zM53.4 197.0h0.6v0.6h-0.6zM51.3 198.5h0.6v0.6h-0.6zM60.5 203.6h0.6v0.6h-0.6zM66.5 200.8h0.6v0.6h-0.6zM49.2 190.5h0.6v0.6h-0.6zM41.4 195.5h0.6v0.6h-0.6zM55.5 202.0h0.6v0.6h-0.6zM54.7 197.1h0.6v0.6h-0.6zM44.4 200.5h0.6v0.6h-0.6zM68.9 194.9h0.6v0.6h-0.6zM70.9 200.7h0.6v0.6h-0.6zM47.4 200.1h0.6v0.6h-0.6zM55.9 198.8h0.6v0.6h-0.6zM44.4 198.9h0.6v0.6h-0.6zM61.1 191.1h0.6v0.6h-0.6zM57.9 203.3h0.6v0.6h-0.6zM56.6 193.6h0.6v0.6h-0.6zM52.4 200.7h0.6v0.6h-0.6zM58.4 196.5h0.6v0.6h-0.6zM48.9 193.5h0.6v0.6h-0.6zM52.5 191.2h0.6v0.6h-0.6zM57.1 206.7h0.6v0.6h-0.6zM52.4 196.8h0.6v0.6h-0.6zM55.0 200.0h0.6v0.6h-0.6zM51.9 199.7h0.6v0.6h-0.6zM47.3 191.6h0.6v0.6h-0.6zM49.3 199.5h0.6v0.6h-0.6zM48.9 193.4h0.6v0.6h-0.6zM55.8 187.1h0.6v0.6h-0.6zM50.4 185.4h0.6v0.6h-0.6zM49.0 206.3h0.6v0.6h-0.6zM40.9 202.5h0.6v0.6h-0.6zM49.1 194.2h0.6v0.6h-0.6zM51.0 206.7h0.6v0.6h-0.6zM49.4 197.3h0.6v0.6h-0.6zM50.1 195.7h0.6v0.6h-0.6zM59.8 198.5h0.6v0.6h-0.6zM54.9 193.6h0.6v0.6h-0.6zM55.5 195.9h0.6v0.6h-0.6zM53.6 197.4h0.6v0.6h-0.6zM49.8 190.6h0.6v0.6h-0.6zM57.2 188.0h0.6v0.6h-0.6zM61.0 194.1h0.6v0.6h-0.6zM46.7 202.1h0.6v0.6h-0.6zM48.8 197.3h0.6v0.6h-0.6zM46.7 199.0h0.6v0.6h-0.6zM56.5 195.7h0.6v0.6h-0.6zM52.2 189.3h0.6v0.6h-0.6zM62.9 193.7h0.6v0.6h-0.6zM52.9 194.5h0.6v0.6h-0.6zM55.8 195.8h0.6v0.6h-0.6zM51.0 195.5h0.6v0.6h-0.6zM55.6 204.6h0.6v0.6h-0.6zM44.9 202.1h0.6v0.6h-0.6zM54.7 199.2h0.6v0.6h-0.6zM48.6 201.9h0.6v0.6h-0.6zM59.9 187.7h0.6v0.6h-0.6zM40.2 205.3h0.6v0.6h-0.6zM49.3 195.8h0.6v0.6h-0.6zM41.9 196.8h0.6v0.6h-0.6zM54.3 194.5h0.6v0.6h-0.6zM64.1 195.9h0.6v0.6h-0.6zM60.6 197.1h0.6v0.6h-0.6zM55.3 195.5h0.6v0.6h-0.6zM49.4 204.0h0.6v0.6h-0.6zM62.9 202.7h0.6v0.6h-0.6zM48.6 194.9h0.6v0.6h-0.6zM55.2 195.2h0.6v0.6h-0.6zM58.7 205.0h0.6v0.6h-0.6zM49.5 194.9h0.6v0.6h-0.6zM41.9 203.1h0.6v0.6h-0.6zM55.4 198.6h0.6v0.6h-0.6zM48.6 197.0h0.6v0.6h-0.6zM51.5 193.6h0.6v0.6h-0.6zM58.1 203.4h0.6v0.6h-0.6zM63.8 195.4h0.6v0.6h-0.6zM54.1 190.5h0.6v0.6h-0.6zM51.7 198.5h0.6v0.6h-0.6zM49.1 196.4h0.6v0.6h-0.6zM46.2 194.8h0.6v0.6h-0.6zM44.2 194.7h0.6v0.6h-0.6zM50.2 196.2h0.6v0.6h-0.6zM63.8 191.5h0.6v0.6h-0.6zM48.2 201.0h0.6v0.6h-0.6zM46.6 195.1h0.6v0.6h-0.6zM40.3 181.5h0.6v0.6h-0.6zM70.9 200.6h0.6v0.6h-0.6zM69.9 196.4h0.6v0.6h-0.6zM40.3 193.6h0.6v0.6h-0.6zM42.7 196.5h0.6v0.6h-0.6zM40.5 192.9h0.6v0.6h-0.6zM42.6 202.6h0.6v0.6h-0.6zM41.3 206.8h0.6v0.6h-0.6zM43.1 195.0h0.6v0.6h-0.6zM40.9 194.5h0.6v0.6h-0.6zM43.1 184.0h0.6v0.6h-0.6zM43.1 194.0h0.6v0.6h-0.6zM41.5 185.5h0.6v0.6h-0.6zM41.6 197.2h0.6v0.6h-0.6zM45.0 193.1h0.6v0.6h-0.6zM41.4 197.3h0.6v0.6h-0.6zM43.7 197.8h0.6v0.6h-0.6zM42.3 191.4h0.6v0.6h-0.6zM40.2 189.4h0.6v0.6h-0.6zM44.2 187.3h0.6v0.6h-0.6zM41.8 191.9h0.6v0.6h-0.6zM41.3 187.6h0.6v0.6h-0.6zM42.3 190.2h0.6v0.6h-0.6zM42.6 188.5h0.6v0.6h-0.6zM42.6 187.8h0.6v0.6h-0.6zM42.8 196.8h0.6v0.6h-0.6zM41.3 191.8h0.6v0.6h-0.6zM45.2 187.0h0.6v0.6h-0.6zM41.7 193.6h0.6v0.6h-0.6zM43.0 190.6h0.6v0.6h-0.6zM40.5 202.5h0.6v0.6h-0.6zM45.0 185.5h0.6v0.6h-0.6zM42.8 181.6h0.6v0.6h-0.6zM42.5 186.5h0.6v0.6h-0.6zM43.0 188.9h0.6v0.6h-0.6zM44.2 201.6h0.6v0.6h-0.6zM45.0 191.3h0.6v0.6h-0.6zM41.4 189.6h0.6v0.6h-0.6zM40.9 191.1h0.6v0.6h-0.6zM40.2 189.9h0.6v0.6h-0.6zM43.4 199.7h0.6v0.6h-0.6zM42.7 179.8h0.6v0.6h-0.6zM44.7 206.5h0.6v0.6h-0.6zM43.5 188.9h0.6v0.6h-0.6zM43.2 191.3h0.6v0.6h-0.6zM43.5 196.1h0.6v0.6h-0.6zM43.2 192.3h0.6v0.6h-0.6zM41.4 189.5h0.6v0.6h-0.6zM42.9 179.1h0.6v0.6h-0.6zM41.6 196.6h0.6v0.6h-0.6zM42.3 199.0h0.6v0.6h-0.6zM42.3 192.5h0.6v0.6h-0.6zM42.8 200.1h0.6v0.6h-0.6zM42.5 191.5h0.6v0.6h-0.6zM42.6 182.7h0.6v0.6h-0.6zM45.6 178.9h0.6v0.6h-0.6zM41.7 186.1h0.6v0.6h-0.6zM42.2 191.3h0.6v0.6h-0.6zM43.9 191.4h0.6v0.6h-0.6zM41.5 208.4h0.6v0.6h-0.6zM40.2 192.1h0.6v0.6h-0.6zM41.4 199.8h0.6v0.6h-0.6zM42.0 201.7h0.6v0.6h-0.6zM40.7 194.5h0.6v0.6h-0.6zM43.0 192.2h0.6v0.6h-0.6zM42.5 179.7h0.6v0.6h-0.6zM42.9 189.9h0.6v0.6h-0.6zM45.4 184.6h0.6v0.6h-0.6zM45.5 190.4h0.6v0.6h-0.6zM42.5 195.5h0.6v0.6h-0.6zM43.8 201.4h0.6v0.6h-0.6zM43.1 190.7h0.6v0.6h-0.6zM44.4 204.6h0.6v0.6h-0.6zM42.7 189.1h0.6v0.6h-0.6zM43.4 193.3h0.6v0.6h-0.6zM42.0 193.0h0.6v0.6h-0.6zM44.1 204.0h0.6v0.6h-0.6zM43.8 195.4h0.6v0.6h-0.6zM41.4 179.6h0.6v0.6h-0.6zM41.6 196.0h0.6v0.6h-0.6zM40.5 195.4h0.6v0.6h-0.6zM40.6 194.1h0.6v0.6h-0.6zM43.3 192.3h0.6v0.6h-0.6zM43.2 184.4h0.6v0.6h-0.6zM42.2 188.8h0.6v0.6h-0.6zM42.1 192.0h0.6v0.6h-0.6zM42.3 186.2h0.6v0.6h-0.6zM41.2 178.0h0.6v0.6h-0.6zM42.6 207.4h0.6v0.6h-0.6zM41.2 188.6h0.6v0.6h-0.6zM42.2 195.4h0.6v0.6h-0.6zM43.3 187.9h0.6v0.6h-0.6zM41.5 195.3h0.6v0.6h-0.6zM42.8 182.4h0.6v0.6h-0.6zM42.9 205.7h0.6v0.6h-0.6zM41.5 183.8h0.6v0.6h-0.6zM42.3 195.4h0.6v0.6h-0.6zM43.7 182.5h0.6v0.6h-0.6zM44.2 187.1h0.6v0.6h-0.6zM43.9 192.0h0.6v0.6h-0.6zM44.5 196.6h0.6v0.6h-0.6zM42.0 200.0h0.6v0.6h-0.6zM40.9 197.2h0.6v0.6h-0.6zM45.4 199.3h0.6v0.6h-0.6zM40.3 202.7h0.6v0.6h-0.6zM41.5 195.3h0.6v0.6h-0.6zM41.4 197.0h0.6v0.6h-0.6zM41.1 203.2h0.6v0.6h-0.6zM41.5 187.3h0.6v0.6h-0.6zM41.3 181.4h0.6v0.6h-0.6zM43.2 201.0h0.6v0.6h-0.6zM44.5 196.1h0.6v0.6h-0.6zM41.8 202.6h0.6v0.6h-0.6zM44.6 187.2h0.6v0.6h-0.6zM42.0 201.0h0.6v0.6h-0.6zM44.0 195.1h0.6v0.6h-0.6zM44.1 190.1h0.6v0.6h-0.6zM41.1 190.3h0.6v0.6h-0.6zM44.1 191.4h0.6v0.6h-0.6zM41.4 193.3h0.6v0.6h-0.6zM41.4 176.7h0.6v0.6h-0.6zM40.9 191.0h0.6v0.6h-0.6zM58.6 183.5h0.6v0.6h-0.6zM56.6 188.4h0.6v0.6h-0.6zM48.6 185.0h0.6v0.6h-0.6zM55.5 185.1h0.6v0.6h-0.6zM60.5 188.8h0.6v0.6h-0.6zM51.1 179.4h0.6v0.6h-0.6zM61.5 186.5h0.6v0.6h-0.6zM54.4 185.2h0.6v0.6h-0.6zM53.6 191.6h0.6v0.6h-0.6zM73.7 190.6h0.6v0.6h-0.6zM50.8 188.8h0.6v0.6h-0.6zM62.8 186.4h0.6v0.6h-0.6zM59.0 185.0h0.6v0.6h-0.6zM55.5 183.4h0.6v0.6h-0.6zM53.8 195.5h0.6v0.6h-0.6zM64.5 183.4h0.6v0.6h-0.6zM55.0 188.2h0.6v0.6h-0.6zM74.5 192.8h0.6v0.6h-0.6zM52.6 180.9h0.6v0.6h-0.6zM55.1 187.3h0.6v0.6h-0.6zM55.9 183.8h0.6v0.6h-0.6zM65.5 185.4h0.6v0.6h-0.6zM55.5 193.6h0.6v0.6h-0.6zM50.0 187.1h0.6v0.6h-0.6zM58.8 183.3h0.6v0.6h-0.6zM56.7 186.4h0.6v0.6h-0.6zM58.1 180.5h0.6v0.6h-0.6zM61.9 189.2h0.6v0.6h-0.6zM48.7 178.9h0.6v0.6h-0.6zM47.8 190.7h0.6v0.6h-0.6zM59.2 183.2h0.6v0.6h-0.6zM61.2 185.7h0.6v0.6h-0.6zM58.9 190.6h0.6v0.6h-0.6zM66.9 184.6h0.6v0.6h-0.6zM69.9 190.1h0.6v0.6h-0.6zM58.1 184.2h0.6v0.6h-0.6zM57.0 182.3h0.6v0.6h-0.6zM43.3 190.5h0.6v0.6h-0.6zM70.9 176.4h0.6v0.6h-0.6zM57.7 182.2h0.6v0.6h-0.6zM56.9 187.6h0.6v0.6h-0.6zM68.7 188.0h0.6v0.6h-0.6zM65.7 190.5h0.6v0.6h-0.6zM62.2 190.6h0.6v0.6h-0.6zM67.2 183.3h0.6v0.6h-0.6zM66.0 184.5h0.6v0.6h-0.6zM68.3 190.7h0.6v0.6h-0.6zM49.1 188.4h0.6v0.6h-0.6zM52.5 184.0h0.6v0.6h-0.6zM56.3 188.1h0.6v0.6h-0.6zM65.4 185.9h0.6v0.6h-0.6zM43.6 188.0h0.6v0.6h-0.6zM55.3 183.7h0.6v0.6h-0.6zM62.0 184.9h0.6v0.6h-0.6zM68.2 184.5h0.6v0.6h-0.6zM53.0 178.3h0.6v0.6h-0.6zM45.3 185.1h0.6v0.6h-0.6zM65.0 182.0h0.6v0.6h-0.6zM65.1 184.4h0.6v0.6h-0.6zM66.9 191.2h0.6v0.6h-0.6zM63.7 182.3h0.6v0.6h-0.6zM68.3 186.8h0.6v0.6h-0.6zM60.5 187.5h0.6v0.6h-0.6zM65.5 190.7h0.6v0.6h-0.6zM49.6 190.9h0.6v0.6h-0.6zM62.0 191.3h0.6v0.6h-0.6zM59.2 189.2h0.6v0.6h-0.6zM67.8 191.3h0.6v0.6h-0.6zM57.6 191.8h0.6v0.6h-0.6zM56.2 181.3h0.6v0.6h-0.6zM53.7 180.8h0.6v0.6h-0.6zM71.3 190.0h0.6v0.6h-0.6zM45.4 185.2h0.6v0.6h-0.6zM62.1 186.9h0.6v0.6h-0.6zM55.9 183.3h0.6v0.6h-0.6zM66.8 185.7h0.6v0.6h-0.6zM53.0 187.1h0.6v0.6h-0.6zM54.8 185.0h0.6v0.6h-0.6zM66.2 185.2h0.6v0.6h-0.6zM52.2 192.3h0.6v0.6h-0.6zM61.7 185.3h0.6v0.6h-0.6zM67.7 185.3h0.6v0.6h-0.6zM52.3 192.1h0.6v0.6h-0.6zM60.9 186.8h0.6v0.6h-0.6zM61.5 185.9h0.6v0.6h-0.6zM53.3 182.0h0.6v0.6h-0.6zM46.9 189.6h0.6v0.6h-0.6zM60.7 185.2h0.6v0.6h-0.6zM48.3 180.7h0.6v0.6h-0.6zM56.8 187.3h0.6v0.6h-0.6zM58.7 185.7h0.6v0.6h-0.6zM53.0 189.1h0.6v0.6h-0.6zM62.3 191.2h0.6v0.6h-0.6zM64.2 182.0h0.6v0.6h-0.6zM55.0 185.3h0.6v0.6h-0.6zM69.0 186.2h0.6v0.6h-0.6zM60.0 191.7h0.6v0.6h-0.6zM67.1 188.6h0.6v0.6h-0.6zM46.1 185.3h0.6v0.6h-0.6zM75.9 188.7h0.6v0.6h-0.6zM70.2 193.4h0.6v0.6h-0.6zM66.4 178.2h0.6v0.6h-0.6zM63.0 185.2h0.6v0.6h-0.6zM53.1 190.1h0.6v0.6h-0.6zM54.3 191.1h0.6v0.6h-0.6zM63.7 184.0h0.6v0.6h-0.6zM53.3 193.4h0.6v0.6h-0.6zM58.4 187.4h0.6v0.6h-0.6zM59.9 182.7h0.6v0.6h-0.6zM57.4 185.3h0.6v0.6h-0.6zM46.5 183.1h0.6v0.6h-0.6zM52.8 187.3h0.6v0.6h-0.6zM61.2 181.2h0.6v0.6h-0.6zM55.1 186.4h0.6v0.6h-0.6zM53.5 179.2h0.6v0.6h-0.6zM66.9 186.0h0.6v0.6h-0.6zM57.4 184.1h0.6v0.6h-0.6zM62.7 184.3h0.6v0.6h-0.6zM60.3 190.4h0.6v0.6h-0.6zM71.2 192.6h0.6v0.6h-0.6zM52.1 185.8h0.6v0.6h-0.6zM49.8 181.7h0.6v0.6h-0.6zM48.9 184.4h0.6v0.6h-0.6zM56.4 182.1h0.6v0.6h-0.6zM59.2 188.0h0.6v0.6h-0.6zM55.9 182.7h0.6v0.6h-0.6zM66.1 185.1h0.6v0.6h-0.6zM61.8 181.8h0.6v0.6h-0.6zM64.5 189.3h0.6v0.6h-0.6zM51.7 181.7h0.6v0.6h-0.6zM56.7 188.3h0.6v0.6h-0.6zM66.0 190.5h0.6v0.6h-0.6zM52.7 178.2h0.6v0.6h-0.6zM52.8 186.2h0.6v0.6h-0.6zM63.4 180.6h0.6v0.6h-0.6zM59.5 184.6h0.6v0.6h-0.6zM63.6 182.4h0.6v0.6h-0.6zM58.5 184.6h0.6v0.6h-0.6zM62.0 186.0h0.6v0.6h-0.6zM63.0 186.8h0.6v0.6h-0.6zM66.5 182.1h0.6v0.6h-0.6zM49.0 188.6h0.6v0.6h-0.6zM56.1 182.8h0.6v0.6h-0.6z" fill="#1a1a1a" fill-opacity="0.5"/>
<path d="M37.40 174.40 C35.84 175.90 34.81 178.40 34.81 182.40 L34.81 202.00 C34.81 205.00 33.80 206.00 33.80 208.40 C33.80 211.00 41.00 211.00 41.00 208.40 C41.00 206.00 39.99 205.00 39.99 202.00 L39.99 182.40 C39.99 178.40 38.96 175.90 37.40 174.40Z" fill="#a5a5a5" stroke="#0a0a0a" stroke-width="1.0"/>
<path d="M37.40 177.40 C36.47 178.90 35.84 181.40 35.84 185.40 L35.84 201.20 C35.84 204.20 35.24 205.20 35.24 207.60 C35.24 210.20 39.56 210.20 39.56 207.60 C39.56 205.20 38.96 204.20 38.96 201.20 L38.96 185.40 C38.96 181.40 38.33 178.90 37.40 177.40Z" fill="#808080" stroke="#111" stroke-width="0.6"/>
<path d="M37.60 181.40 C37.13 182.90 36.82 185.40 36.82 189.40 L36.82 200.40 C36.82 203.40 36.52 204.40 36.52 206.80 C36.52 209.40 38.68 209.40 38.68 206.80 C38.68 204.40 38.38 203.40 38.38 200.40 L38.38 189.40 C38.38 185.40 38.07 182.90 37.60 181.40Z" fill="#3a3a3a" stroke="#111" stroke-width="0.5"/>
<ellipse cx="54.0" cy="207.8" rx="12.8" ry="1.5" fill="#fff" stroke="#1a1a1a" stroke-width="0.8"/>
<rect x="23.80" y="163.00" width="58.80" height="59.50" fill="none" stroke="#444" stroke-width="0.8"/>
<line x1="23.80" y1="166.00" x2="25.10" y2="166.00" stroke="#777" stroke-width="0.5"/>
<line x1="23.80" y1="173.64" x2="25.10" y2="173.64" stroke="#777" stroke-width="0.5"/>
<line x1="23.80" y1="181.29" x2="25.10" y2="181.29" stroke="#777" stroke-width="0.5"/>
<line x1="23.80" y1="188.93" x2="25.10" y2="188.93" stroke="#777" stroke-width="0.5"/>
<line x1="23.80" y1="196.57" x2="25.10" y2="196.57" stroke="#777" stroke-width="0.5"/>
<line x1="23.80" y1="204.21" x2="25.10" y2="204.21" stroke="#777" stroke-width="0.5"/>
<line x1="23.80" y1="211.86" x2="25.10" y2="211.86" stroke="#777" stroke-width="0.5"/>
<line x1="23.80" y1="219.50" x2="25.10" y2="219.50" stroke="#777" stroke-width="0.5"/>
<line x1="26.80" y1="222.50" x2="26.80" y2="221.20" stroke="#777" stroke-width="0.5"/>
<line x1="34.34" y1="222.50" x2="34.34" y2="221.20" stroke="#777" stroke-width="0.5"/>
<line x1="41.89" y1="222.50" x2="41.89" y2="221.20" stroke="#777" stroke-width="0.5"/>
<line x1="49.43" y1="222.50" x2="49.43" y2="221.20" stroke="#777" stroke-width="0.5"/>
<line x1="56.97" y1="222.50" x2="56.97" y2="221.20" stroke="#777" stroke-width="0.5"/>
<line x1="64.51" y1="222.50" x2="64.51" y2="221.20" stroke="#777" stroke-width="0.5"/>
<line x1="72.06" y1="222.50" x2="72.06" y2="221.20" stroke="#777" stroke-width="0.5"/>
<line x1="79.60" y1="222.50" x2="79.60" y2="221.20" stroke="#777" stroke-width="0.5"/>
<rect x="22.00" y="207.62" width="1.60" height="1.40" fill="#111"/>
<rect x="36.15" y="222.60" width="1.60" height="1.40" fill="#111"/>
<ellipse cx="124.0" cy="184" rx="10" ry="4" fill="#777" fill-opacity="0.6" filter="url(#bl2)"/>
<ellipse cx="127.0" cy="198.5" rx="15" ry="7" fill="#b0b0b0" fill-opacity="0.6" filter="url(#bl2)"/>
<path d="M132.4 177.5h0.6v0.6h-0.6zM118.5 184.8h0.6v0.6h-0.6zM112.3 185.8h0.6v0.6h-0.6zM120.8 183.5h0.6v0.6h-0.6zM134.3 183.7h0.6v0.6h-0.6zM131.1 187.1h0.6v0.6h-0.6zM120.1 182.5h0.6v0.6h-0.6zM133.5 185.1h0.6v0.6h-0.6zM134.5 189.7h0.6v0.6h-0.6zM117.8 183.3h0.6v0.6h-0.6zM127.2 180.1h0.6v0.6h-0.6zM117.3 179.6h0.6v0.6h-0.6zM122.0 183.7h0.6v0.6h-0.6zM135.6 190.2h0.6v0.6h-0.6zM122.9 183.1h0.6v0.6h-0.6zM126.0 184.5h0.6v0.6h-0.6zM123.6 187.3h0.6v0.6h-0.6zM132.2 182.0h0.6v0.6h-0.6zM134.2 187.6h0.6v0.6h-0.6zM120.8 182.0h0.6v0.6h-0.6zM124.5 181.9h0.6v0.6h-0.6zM117.5 181.9h0.6v0.6h-0.6zM136.9 187.3h0.6v0.6h-0.6zM126.2 185.8h0.6v0.6h-0.6zM120.4 181.9h0.6v0.6h-0.6zM128.9 184.7h0.6v0.6h-0.6zM114.9 186.8h0.6v0.6h-0.6zM132.4 187.2h0.6v0.6h-0.6zM143.9 182.8h0.6v0.6h-0.6zM123.0 184.6h0.6v0.6h-0.6zM124.7 180.7h0.6v0.6h-0.6zM122.0 182.6h0.6v0.6h-0.6zM130.8 182.9h0.6v0.6h-0.6zM124.8 183.4h0.6v0.6h-0.6zM121.9 186.3h0.6v0.6h-0.6zM120.7 184.8h0.6v0.6h-0.6zM132.8 183.1h0.6v0.6h-0.6zM131.8 182.3h0.6v0.6h-0.6zM126.3 179.9h0.6v0.6h-0.6zM131.0 186.6h0.6v0.6h-0.6zM123.8 179.4h0.6v0.6h-0.6zM121.8 183.5h0.6v0.6h-0.6zM132.9 177.5h0.6v0.6h-0.6zM125.9 183.8h0.6v0.6h-0.6zM113.6 185.3h0.6v0.6h-0.6zM111.7 185.0h0.6v0.6h-0.6zM130.9 181.1h0.6v0.6h-0.6zM116.5 181.0h0.6v0.6h-0.6zM120.7 184.8h0.6v0.6h-0.6zM128.6 182.4h0.6v0.6h-0.6zM127.9 180.7h0.6v0.6h-0.6zM123.2 178.9h0.6v0.6h-0.6zM133.9 180.2h0.6v0.6h-0.6zM117.8 187.9h0.6v0.6h-0.6zM130.8 180.8h0.6v0.6h-0.6zM130.5 190.6h0.6v0.6h-0.6zM126.1 181.1h0.6v0.6h-0.6zM119.8 188.0h0.6v0.6h-0.6zM120.4 181.4h0.6v0.6h-0.6zM141.7 179.1h0.6v0.6h-0.6zM118.3 179.1h0.6v0.6h-0.6zM119.1 182.2h0.6v0.6h-0.6zM127.3 179.7h0.6v0.6h-0.6zM128.7 181.9h0.6v0.6h-0.6zM134.0 182.0h0.6v0.6h-0.6zM124.0 178.5h0.6v0.6h-0.6zM111.1 184.9h0.6v0.6h-0.6zM138.4 179.1h0.6v0.6h-0.6zM122.0 183.0h0.6v0.6h-0.6zM124.3 185.2h0.6v0.6h-0.6zM128.3 185.5h0.6v0.6h-0.6zM139.3 186.7h0.6v0.6h-0.6zM112.0 182.1h0.6v0.6h-0.6zM127.1 181.4h0.6v0.6h-0.6zM120.6 179.4h0.6v0.6h-0.6zM116.4 188.7h0.6v0.6h-0.6zM124.8 183.2h0.6v0.6h-0.6zM128.2 181.5h0.6v0.6h-0.6zM126.3 183.3h0.6v0.6h-0.6zM128.6 180.9h0.6v0.6h-0.6zM122.7 186.5h0.6v0.6h-0.6zM127.7 181.1h0.6v0.6h-0.6zM110.0 185.0h0.6v0.6h-0.6zM126.7 182.0h0.6v0.6h-0.6zM116.9 183.3h0.6v0.6h-0.6zM125.7 185.1h0.6v0.6h-0.6zM127.2 184.5h0.6v0.6h-0.6zM119.3 184.4h0.6v0.6h-0.6zM123.5 182.4h0.6v0.6h-0.6zM125.2 190.1h0.6v0.6h-0.6zM120.0 182.8h0.6v0.6h-0.6zM124.6 183.1h0.6v0.6h-0.6zM122.7 184.8h0.6v0.6h-0.6zM117.3 185.0h0.6v0.6h-0.6zM131.1 182.0h0.6v0.6h-0.6zM138.2 179.6h0.6v0.6h-0.6zM127.2 183.8h0.6v0.6h-0.6zM126.2 181.5h0.6v0.6h-0.6zM114.1 184.4h0.6v0.6h-0.6zM111.4 185.8h0.6v0.6h-0.6zM129.4 183.8h0.6v0.6h-0.6zM129.0 184.3h0.6v0.6h-0.6zM125.7 183.4h0.6v0.6h-0.6zM119.3 183.0h0.6v0.6h-0.6zM123.8 181.9h0.6v0.6h-0.6zM123.7 180.4h0.6v0.6h-0.6zM126.8 183.3h0.6v0.6h-0.6zM116.7 183.1h0.6v0.6h-0.6zM135.7 181.2h0.6v0.6h-0.6zM125.4 180.9h0.6v0.6h-0.6zM121.3 185.4h0.6v0.6h-0.6zM126.8 183.3h0.6v0.6h-0.6zM130.5 186.3h0.6v0.6h-0.6zM138.5 178.7h0.6v0.6h-0.6zM113.2 180.2h0.6v0.6h-0.6zM118.5 185.9h0.6v0.6h-0.6zM124.5 181.9h0.6v0.6h-0.6zM121.8 180.9h0.6v0.6h-0.6zM130.3 184.2h0.6v0.6h-0.6zM123.3 178.8h0.6v0.6h-0.6zM119.5 179.7h0.6v0.6h-0.6zM119.9 185.1h0.6v0.6h-0.6zM118.0 185.2h0.6v0.6h-0.6zM117.3 188.3h0.6v0.6h-0.6zM122.8 182.1h0.6v0.6h-0.6zM129.4 185.7h0.6v0.6h-0.6zM117.0 180.5h0.6v0.6h-0.6zM115.8 185.0h0.6v0.6h-0.6zM119.4 182.2h0.6v0.6h-0.6zM126.2 181.3h0.6v0.6h-0.6zM126.7 184.6h0.6v0.6h-0.6zM119.3 181.1h0.6v0.6h-0.6zM132.1 179.1h0.6v0.6h-0.6zM125.3 188.0h0.6v0.6h-0.6zM120.3 180.5h0.6v0.6h-0.6zM128.3 183.5h0.6v0.6h-0.6zM117.7 184.8h0.6v0.6h-0.6zM122.8 187.1h0.6v0.6h-0.6zM128.9 181.2h0.6v0.6h-0.6zM128.8 184.5h0.6v0.6h-0.6zM122.5 180.7h0.6v0.6h-0.6zM129.1 184.1h0.6v0.6h-0.6zM117.9 183.1h0.6v0.6h-0.6zM125.9 186.0h0.6v0.6h-0.6zM135.2 187.0h0.6v0.6h-0.6zM120.6 186.1h0.6v0.6h-0.6zM116.4 183.1h0.6v0.6h-0.6zM127.6 182.8h0.6v0.6h-0.6zM119.9 183.6h0.6v0.6h-0.6zM134.1 185.0h0.6v0.6h-0.6zM118.2 187.2h0.6v0.6h-0.6zM122.1 183.6h0.6v0.6h-0.6zM125.4 183.8h0.6v0.6h-0.6zM117.7 182.3h0.6v0.6h-0.6zM122.5 185.6h0.6v0.6h-0.6zM111.3 185.7h0.6v0.6h-0.6zM134.1 180.4h0.6v0.6h-0.6zM123.9 182.2h0.6v0.6h-0.6zM115.0 187.0h0.6v0.6h-0.6zM127.3 187.5h0.6v0.6h-0.6zM134.0 186.5h0.6v0.6h-0.6zM123.7 185.5h0.6v0.6h-0.6zM127.3 183.2h0.6v0.6h-0.6zM128.7 182.2h0.6v0.6h-0.6zM123.3 184.9h0.6v0.6h-0.6zM130.4 184.4h0.6v0.6h-0.6zM118.3 184.3h0.6v0.6h-0.6zM138.7 183.7h0.6v0.6h-0.6zM129.4 180.4h0.6v0.6h-0.6zM126.6 184.6h0.6v0.6h-0.6zM119.7 183.6h0.6v0.6h-0.6zM123.0 185.3h0.6v0.6h-0.6zM125.3 179.7h0.6v0.6h-0.6zM128.5 189.6h0.6v0.6h-0.6zM114.1 180.7h0.6v0.6h-0.6zM120.3 180.9h0.6v0.6h-0.6zM116.7 184.0h0.6v0.6h-0.6zM139.2 186.1h0.6v0.6h-0.6zM122.7 184.2h0.6v0.6h-0.6zM129.5 185.1h0.6v0.6h-0.6zM122.2 180.5h0.6v0.6h-0.6zM116.6 188.4h0.6v0.6h-0.6zM129.0 184.4h0.6v0.6h-0.6zM129.9 181.6h0.6v0.6h-0.6zM121.2 183.7h0.6v0.6h-0.6zM114.7 181.1h0.6v0.6h-0.6zM125.8 182.4h0.6v0.6h-0.6zM112.4 181.4h0.6v0.6h-0.6zM126.4 182.8h0.6v0.6h-0.6zM133.4 188.0h0.6v0.6h-0.6zM118.6 185.3h0.6v0.6h-0.6zM123.5 181.7h0.6v0.6h-0.6zM129.4 186.2h0.6v0.6h-0.6zM111.9 179.4h0.6v0.6h-0.6zM132.1 185.7h0.6v0.6h-0.6zM130.6 185.9h0.6v0.6h-0.6zM119.5 181.4h0.6v0.6h-0.6zM118.3 185.2h0.6v0.6h-0.6zM130.0 179.0h0.6v0.6h-0.6zM113.0 184.8h0.6v0.6h-0.6zM117.1 184.6h0.6v0.6h-0.6zM117.1 181.0h0.6v0.6h-0.6zM116.3 184.3h0.6v0.6h-0.6zM128.1 181.7h0.6v0.6h-0.6zM121.3 182.5h0.6v0.6h-0.6zM126.1 183.4h0.6v0.6h-0.6zM124.8 182.0h0.6v0.6h-0.6zM123.6 183.3h0.6v0.6h-0.6zM123.1 184.2h0.6v0.6h-0.6zM115.4 185.2h0.6v0.6h-0.6zM132.8 183.9h0.6v0.6h-0.6zM112.4 186.6h0.6v0.6h-0.6zM122.7 183.9h0.6v0.6h-0.6zM124.9 188.8h0.6v0.6h-0.6zM117.1 183.7h0.6v0.6h-0.6zM121.7 185.5h0.6v0.6h-0.6zM129.8 186.1h0.6v0.6h-0.6zM126.5 184.6h0.6v0.6h-0.6zM127.1 185.0h0.6v0.6h-0.6zM127.7 182.4h0.6v0.6h-0.6zM140.8 184.7h0.6v0.6h-0.6zM125.8 180.7h0.6v0.6h-0.6zM123.8 183.5h0.6v0.6h-0.6zM119.5 184.4h0.6v0.6h-0.6zM114.0 187.0h0.6v0.6h-0.6zM111.7 179.3h0.6v0.6h-0.6zM125.6 178.4h0.6v0.6h-0.6zM130.5 185.5h0.6v0.6h-0.6zM129.3 179.5h0.6v0.6h-0.6zM127.1 181.0h0.6v0.6h-0.6zM129.8 185.8h0.6v0.6h-0.6zM113.2 181.7h0.6v0.6h-0.6zM114.0 187.6h0.6v0.6h-0.6zM132.3 180.5h0.6v0.6h-0.6zM129.5 184.8h0.6v0.6h-0.6zM117.2 184.5h0.6v0.6h-0.6zM120.6 181.0h0.6v0.6h-0.6zM122.8 183.9h0.6v0.6h-0.6zM131.7 184.4h0.6v0.6h-0.6zM121.8 185.2h0.6v0.6h-0.6zM126.8 183.6h0.6v0.6h-0.6zM127.4 186.2h0.6v0.6h-0.6zM124.9 186.4h0.6v0.6h-0.6zM123.8 182.5h0.6v0.6h-0.6zM115.9 180.3h0.6v0.6h-0.6zM142.5 178.8h0.6v0.6h-0.6zM124.8 184.2h0.6v0.6h-0.6zM118.8 180.9h0.6v0.6h-0.6zM131.8 181.5h0.6v0.6h-0.6zM124.5 183.2h0.6v0.6h-0.6zM119.4 183.8h0.6v0.6h-0.6zM125.1 184.4h0.6v0.6h-0.6zM130.6 182.6h0.6v0.6h-0.6zM127.5 179.2h0.6v0.6h-0.6zM126.1 181.4h0.6v0.6h-0.6zM124.9 180.7h0.6v0.6h-0.6zM133.7 181.9h0.6v0.6h-0.6zM137.9 179.6h0.6v0.6h-0.6zM119.9 185.4h0.6v0.6h-0.6zM137.2 183.6h0.6v0.6h-0.6zM120.9 182.5h0.6v0.6h-0.6zM112.0 179.2h0.6v0.6h-0.6zM143.2 179.9h0.6v0.6h-0.6zM121.2 185.2h0.6v0.6h-0.6zM127.9 183.5h0.6v0.6h-0.6zM123.6 187.1h0.6v0.6h-0.6zM140.1 183.7h0.6v0.6h-0.6zM115.8 179.4h0.6v0.6h-0.6zM122.2 186.6h0.6v0.6h-0.6zM126.9 182.9h0.6v0.6h-0.6zM127.5 184.2h0.6v0.6h-0.6zM125.3 185.1h0.6v0.6h-0.6zM128.0 183.8h0.6v0.6h-0.6zM118.3 184.3h0.6v0.6h-0.6zM116.2 184.5h0.6v0.6h-0.6zM121.6 180.2h0.6v0.6h-0.6zM140.6 182.4h0.6v0.6h-0.6zM130.8 181.6h0.6v0.6h-0.6zM124.3 186.3h0.6v0.6h-0.6zM115.6 183.7h0.6v0.6h-0.6zM133.7 182.1h0.6v0.6h-0.6zM127.7 182.9h0.6v0.6h-0.6zM120.5 181.9h0.6v0.6h-0.6zM124.6 183.5h0.6v0.6h-0.6zM120.9 184.7h0.6v0.6h-0.6zM123.0 184.2h0.6v0.6h-0.6zM129.2 183.9h0.6v0.6h-0.6zM122.8 180.6h0.6v0.6h-0.6zM121.3 177.8h0.6v0.6h-0.6zM114.7 183.5h0.6v0.6h-0.6zM126.0 185.8h0.6v0.6h-0.6zM123.9 178.9h0.6v0.6h-0.6zM126.8 184.8h0.6v0.6h-0.6zM116.6 184.2h0.6v0.6h-0.6zM113.4 180.1h0.6v0.6h-0.6zM124.1 184.7h0.6v0.6h-0.6zM129.2 184.7h0.6v0.6h-0.6zM121.6 184.5h0.6v0.6h-0.6zM127.3 181.4h0.6v0.6h-0.6zM124.0 185.6h0.6v0.6h-0.6zM131.3 181.1h0.6v0.6h-0.6zM125.3 182.3h0.6v0.6h-0.6zM127.5 185.8h0.6v0.6h-0.6zM120.3 183.8h0.6v0.6h-0.6zM124.9 184.5h0.6v0.6h-0.6zM127.6 184.2h0.6v0.6h-0.6zM124.2 185.7h0.6v0.6h-0.6zM116.8 182.2h0.6v0.6h-0.6zM121.5 184.3h0.6v0.6h-0.6zM119.9 181.1h0.6v0.6h-0.6zM120.2 181.3h0.6v0.6h-0.6zM125.5 185.8h0.6v0.6h-0.6zM127.2 185.2h0.6v0.6h-0.6zM128.4 183.0h0.6v0.6h-0.6zM111.0 180.1h0.6v0.6h-0.6zM119.0 184.8h0.6v0.6h-0.6zM126.9 184.4h0.6v0.6h-0.6zM131.1 182.2h0.6v0.6h-0.6zM123.1 184.2h0.6v0.6h-0.6zM123.1 182.1h0.6v0.6h-0.6zM112.3 183.5h0.6v0.6h-0.6zM128.5 178.6h0.6v0.6h-0.6zM123.8 185.0h0.6v0.6h-0.6zM128.5 185.0h0.6v0.6h-0.6zM121.5 184.9h0.6v0.6h-0.6zM129.2 185.4h0.6v0.6h-0.6zM120.7 184.2h0.6v0.6h-0.6zM125.3 182.5h0.6v0.6h-0.6zM118.7 185.2h0.6v0.6h-0.6zM116.4 185.7h0.6v0.6h-0.6zM114.5 183.1h0.6v0.6h-0.6zM123.7 182.4h0.6v0.6h-0.6zM132.3 182.8h0.6v0.6h-0.6zM124.1 181.8h0.6v0.6h-0.6zM112.1 184.3h0.6v0.6h-0.6zM120.3 186.5h0.6v0.6h-0.6zM130.0 181.2h0.6v0.6h-0.6zM113.3 182.9h0.6v0.6h-0.6zM128.8 182.5h0.6v0.6h-0.6zM135.3 182.8h0.6v0.6h-0.6zM120.6 184.5h0.6v0.6h-0.6zM123.6 186.2h0.6v0.6h-0.6zM122.1 181.0h0.6v0.6h-0.6zM126.7 183.9h0.6v0.6h-0.6zM126.6 183.1h0.6v0.6h-0.6zM136.7 180.2h0.6v0.6h-0.6zM116.1 181.1h0.6v0.6h-0.6zM132.1 179.6h0.6v0.6h-0.6zM121.3 179.3h0.6v0.6h-0.6zM128.6 182.6h0.6v0.6h-0.6zM114.1 185.8h0.6v0.6h-0.6zM121.1 181.1h0.6v0.6h-0.6zM126.2 183.5h0.6v0.6h-0.6zM125.5 184.9h0.6v0.6h-0.6zM115.2 188.7h0.6v0.6h-0.6zM136.0 183.3h0.6v0.6h-0.6zM119.7 186.3h0.6v0.6h-0.6zM122.7 181.1h0.6v0.6h-0.6zM119.9 177.9h0.6v0.6h-0.6zM116.9 187.1h0.6v0.6h-0.6zM137.8 186.0h0.6v0.6h-0.6zM117.6 184.0h0.6v0.6h-0.6zM127.0 183.2h0.6v0.6h-0.6zM120.1 184.9h0.6v0.6h-0.6zM114.0 184.5h0.6v0.6h-0.6zM122.6 189.7h0.6v0.6h-0.6zM134.6 181.2h0.6v0.6h-0.6zM116.8 183.0h0.6v0.6h-0.6zM124.6 185.9h0.6v0.6h-0.6zM117.9 184.0h0.6v0.6h-0.6zM122.9 183.5h0.6v0.6h-0.6zM128.1 179.4h0.6v0.6h-0.6zM124.7 182.3h0.6v0.6h-0.6zM123.3 185.3h0.6v0.6h-0.6zM115.7 187.3h0.6v0.6h-0.6zM134.1 184.4h0.6v0.6h-0.6zM119.0 185.1h0.6v0.6h-0.6zM116.9 179.2h0.6v0.6h-0.6zM130.6 182.4h0.6v0.6h-0.6zM116.3 183.3h0.6v0.6h-0.6zM132.4 184.6h0.6v0.6h-0.6zM123.3 177.7h0.6v0.6h-0.6zM126.1 186.7h0.6v0.6h-0.6zM125.3 181.8h0.6v0.6h-0.6zM122.7 186.2h0.6v0.6h-0.6zM118.2 178.9h0.6v0.6h-0.6zM121.5 186.9h0.6v0.6h-0.6zM140.7 182.0h0.6v0.6h-0.6zM127.3 181.1h0.6v0.6h-0.6zM121.5 180.7h0.6v0.6h-0.6zM117.4 183.3h0.6v0.6h-0.6zM135.6 183.3h0.6v0.6h-0.6zM122.3 183.3h0.6v0.6h-0.6zM117.8 188.1h0.6v0.6h-0.6zM136.2 186.4h0.6v0.6h-0.6zM121.2 183.9h0.6v0.6h-0.6zM111.8 184.3h0.6v0.6h-0.6zM131.8 184.4h0.6v0.6h-0.6zM121.2 180.9h0.6v0.6h-0.6zM121.4 186.9h0.6v0.6h-0.6zM120.6 183.1h0.6v0.6h-0.6zM134.7 180.3h0.6v0.6h-0.6zM122.6 183.0h0.6v0.6h-0.6zM133.7 182.1h0.6v0.6h-0.6zM124.9 183.9h0.6v0.6h-0.6zM124.1 181.0h0.6v0.6h-0.6zM131.0 186.4h0.6v0.6h-0.6zM111.7 181.9h0.6v0.6h-0.6zM117.9 181.8h0.6v0.6h-0.6zM113.8 190.6h0.6v0.6h-0.6zM126.4 183.2h0.6v0.6h-0.6zM135.8 183.3h0.6v0.6h-0.6zM123.8 188.0h0.6v0.6h-0.6zM118.2 180.5h0.6v0.6h-0.6zM128.1 181.9h0.6v0.6h-0.6zM127.7 180.4h0.6v0.6h-0.6zM110.5 188.3h0.6v0.6h-0.6zM132.3 185.1h0.6v0.6h-0.6zM125.4 182.7h0.6v0.6h-0.6zM129.4 181.0h0.6v0.6h-0.6zM118.3 182.8h0.6v0.6h-0.6zM124.4 182.1h0.6v0.6h-0.6zM117.3 183.7h0.6v0.6h-0.6zM119.5 183.0h0.6v0.6h-0.6zM122.9 183.4h0.6v0.6h-0.6zM117.4 181.0h0.6v0.6h-0.6zM127.8 185.3h0.6v0.6h-0.6zM111.6 185.3h0.6v0.6h-0.6zM133.4 183.3h0.6v0.6h-0.6zM125.4 181.1h0.6v0.6h-0.6zM137.9 179.9h0.6v0.6h-0.6zM133.7 183.3h0.6v0.6h-0.6zM128.2 184.4h0.6v0.6h-0.6zM125.6 187.0h0.6v0.6h-0.6zM119.7 185.8h0.6v0.6h-0.6zM124.3 182.3h0.6v0.6h-0.6zM129.0 183.8h0.6v0.6h-0.6zM120.9 182.0h0.6v0.6h-0.6zM131.7 182.1h0.6v0.6h-0.6zM116.0 182.6h0.6v0.6h-0.6zM133.2 184.9h0.6v0.6h-0.6zM114.6 181.4h0.6v0.6h-0.6zM116.6 188.2h0.6v0.6h-0.6zM113.4 185.6h0.6v0.6h-0.6zM133.2 183.5h0.6v0.6h-0.6zM128.0 182.8h0.6v0.6h-0.6zM125.3 183.5h0.6v0.6h-0.6zM115.3 187.1h0.6v0.6h-0.6zM126.0 187.2h0.6v0.6h-0.6zM125.6 181.7h0.6v0.6h-0.6zM131.2 181.3h0.6v0.6h-0.6zM118.1 184.8h0.6v0.6h-0.6zM130.3 187.8h0.6v0.6h-0.6zM126.0 181.9h0.6v0.6h-0.6zM127.7 184.0h0.6v0.6h-0.6zM118.8 185.0h0.6v0.6h-0.6zM135.0 181.8h0.6v0.6h-0.6zM131.2 188.3h0.6v0.6h-0.6zM141.2 181.9h0.6v0.6h-0.6zM113.9 183.5h0.6v0.6h-0.6zM127.7 182.6h0.6v0.6h-0.6zM129.8 183.5h0.6v0.6h-0.6zM120.9 185.1h0.6v0.6h-0.6zM120.8 179.5h0.6v0.6h-0.6zM124.7 185.3h0.6v0.6h-0.6zM136.7 183.3h0.6v0.6h-0.6zM122.5 188.2h0.6v0.6h-0.6zM121.9 180.9h0.6v0.6h-0.6zM134.7 182.0h0.6v0.6h-0.6zM123.9 209.9h0.6v0.6h-0.6zM116.9 205.4h0.6v0.6h-0.6zM117.7 198.3h0.6v0.6h-0.6zM131.6 204.3h0.6v0.6h-0.6zM119.4 197.1h0.6v0.6h-0.6zM129.4 204.8h0.6v0.6h-0.6zM116.9 201.2h0.6v0.6h-0.6zM129.7 185.3h0.6v0.6h-0.6zM114.5 197.4h0.6v0.6h-0.6zM133.6 200.1h0.6v0.6h-0.6zM118.3 202.4h0.6v0.6h-0.6zM131.0 204.5h0.6v0.6h-0.6zM127.6 189.3h0.6v0.6h-0.6zM136.2 192.0h0.6v0.6h-0.6zM128.2 190.1h0.6v0.6h-0.6zM139.2 202.8h0.6v0.6h-0.6zM124.4 193.9h0.6v0.6h-0.6zM130.7 192.9h0.6v0.6h-0.6zM140.6 189.1h0.6v0.6h-0.6zM112.3 202.6h0.6v0.6h-0.6zM128.1 201.6h0.6v0.6h-0.6zM130.6 196.2h0.6v0.6h-0.6zM121.2 189.8h0.6v0.6h-0.6zM120.3 198.2h0.6v0.6h-0.6zM137.8 199.2h0.6v0.6h-0.6zM118.9 201.6h0.6v0.6h-0.6zM130.3 202.3h0.6v0.6h-0.6zM128.6 201.0h0.6v0.6h-0.6zM117.4 207.6h0.6v0.6h-0.6zM136.7 193.1h0.6v0.6h-0.6zM121.9 191.2h0.6v0.6h-0.6zM118.5 195.0h0.6v0.6h-0.6zM123.5 193.3h0.6v0.6h-0.6zM125.2 201.6h0.6v0.6h-0.6zM115.0 203.6h0.6v0.6h-0.6zM144.9 200.3h0.6v0.6h-0.6zM132.6 190.1h0.6v0.6h-0.6zM125.1 195.5h0.6v0.6h-0.6zM124.7 200.5h0.6v0.6h-0.6zM117.1 198.0h0.6v0.6h-0.6zM110.6 203.5h0.6v0.6h-0.6zM125.2 201.4h0.6v0.6h-0.6zM120.4 201.6h0.6v0.6h-0.6zM123.7 197.8h0.6v0.6h-0.6zM111.0 187.1h0.6v0.6h-0.6zM141.9 204.5h0.6v0.6h-0.6zM124.4 199.8h0.6v0.6h-0.6zM131.5 183.7h0.6v0.6h-0.6zM125.3 188.2h0.6v0.6h-0.6zM138.4 189.6h0.6v0.6h-0.6zM116.8 199.3h0.6v0.6h-0.6zM142.6 202.5h0.6v0.6h-0.6zM148.6 190.4h0.6v0.6h-0.6zM138.5 196.0h0.6v0.6h-0.6zM128.3 192.6h0.6v0.6h-0.6zM131.8 195.1h0.6v0.6h-0.6zM134.1 199.4h0.6v0.6h-0.6zM126.8 201.4h0.6v0.6h-0.6zM111.5 198.1h0.6v0.6h-0.6zM128.8 198.7h0.6v0.6h-0.6zM122.6 205.9h0.6v0.6h-0.6zM128.9 199.1h0.6v0.6h-0.6zM122.8 209.4h0.6v0.6h-0.6zM126.7 201.3h0.6v0.6h-0.6zM124.4 204.3h0.6v0.6h-0.6zM132.1 190.2h0.6v0.6h-0.6zM135.3 193.5h0.6v0.6h-0.6zM129.6 201.5h0.6v0.6h-0.6zM140.9 200.4h0.6v0.6h-0.6zM123.6 202.6h0.6v0.6h-0.6zM125.8 199.1h0.6v0.6h-0.6zM123.4 200.0h0.6v0.6h-0.6zM140.1 207.6h0.6v0.6h-0.6zM134.5 205.7h0.6v0.6h-0.6zM119.1 199.2h0.6v0.6h-0.6zM139.8 196.8h0.6v0.6h-0.6zM134.2 196.2h0.6v0.6h-0.6zM120.8 196.9h0.6v0.6h-0.6zM129.1 196.1h0.6v0.6h-0.6zM117.1 196.7h0.6v0.6h-0.6zM139.5 196.9h0.6v0.6h-0.6zM122.7 198.2h0.6v0.6h-0.6zM122.3 199.6h0.6v0.6h-0.6zM119.0 196.0h0.6v0.6h-0.6zM138.5 192.1h0.6v0.6h-0.6zM133.1 190.0h0.6v0.6h-0.6zM128.5 204.3h0.6v0.6h-0.6zM122.2 203.0h0.6v0.6h-0.6zM145.4 203.2h0.6v0.6h-0.6zM129.8 199.5h0.6v0.6h-0.6zM116.9 193.0h0.6v0.6h-0.6zM130.6 198.4h0.6v0.6h-0.6zM138.5 195.5h0.6v0.6h-0.6zM117.2 199.6h0.6v0.6h-0.6zM118.8 200.4h0.6v0.6h-0.6zM134.5 200.7h0.6v0.6h-0.6zM128.6 200.6h0.6v0.6h-0.6zM114.6 201.5h0.6v0.6h-0.6zM141.9 192.9h0.6v0.6h-0.6zM130.5 193.5h0.6v0.6h-0.6zM124.3 195.8h0.6v0.6h-0.6zM124.7 202.4h0.6v0.6h-0.6zM134.5 198.8h0.6v0.6h-0.6zM112.4 199.9h0.6v0.6h-0.6zM131.8 194.7h0.6v0.6h-0.6zM136.1 201.7h0.6v0.6h-0.6zM127.9 201.0h0.6v0.6h-0.6zM124.3 191.8h0.6v0.6h-0.6zM121.5 201.6h0.6v0.6h-0.6zM144.7 191.9h0.6v0.6h-0.6zM146.1 201.4h0.6v0.6h-0.6zM131.7 201.4h0.6v0.6h-0.6zM114.2 199.0h0.6v0.6h-0.6zM123.4 197.2h0.6v0.6h-0.6zM144.8 196.8h0.6v0.6h-0.6zM141.3 197.9h0.6v0.6h-0.6zM114.9 201.1h0.6v0.6h-0.6zM127.9 196.6h0.6v0.6h-0.6zM124.4 192.0h0.6v0.6h-0.6zM123.7 196.3h0.6v0.6h-0.6zM139.9 199.9h0.6v0.6h-0.6zM122.2 207.5h0.6v0.6h-0.6zM140.8 196.6h0.6v0.6h-0.6zM134.8 196.0h0.6v0.6h-0.6zM122.8 202.0h0.6v0.6h-0.6zM126.3 199.1h0.6v0.6h-0.6zM117.5 200.8h0.6v0.6h-0.6zM137.5 197.1h0.6v0.6h-0.6zM128.1 196.0h0.6v0.6h-0.6zM127.5 202.6h0.6v0.6h-0.6zM129.2 193.5h0.6v0.6h-0.6zM141.9 194.0h0.6v0.6h-0.6zM141.0 190.1h0.6v0.6h-0.6zM122.3 192.0h0.6v0.6h-0.6zM133.6 196.0h0.6v0.6h-0.6zM117.0 195.1h0.6v0.6h-0.6zM125.1 204.8h0.6v0.6h-0.6zM130.2 205.9h0.6v0.6h-0.6zM137.7 204.9h0.6v0.6h-0.6zM110.7 187.7h0.6v0.6h-0.6zM117.5 191.6h0.6v0.6h-0.6zM114.3 192.1h0.6v0.6h-0.6zM115.1 185.7h0.6v0.6h-0.6zM140.7 191.8h0.6v0.6h-0.6zM131.8 198.7h0.6v0.6h-0.6zM132.6 186.5h0.6v0.6h-0.6zM135.3 207.7h0.6v0.6h-0.6zM138.5 198.2h0.6v0.6h-0.6zM128.6 209.9h0.6v0.6h-0.6zM135.4 201.5h0.6v0.6h-0.6zM135.5 191.8h0.6v0.6h-0.6zM135.4 192.7h0.6v0.6h-0.6zM135.3 200.7h0.6v0.6h-0.6zM120.4 193.4h0.6v0.6h-0.6zM140.8 197.8h0.6v0.6h-0.6zM115.6 201.0h0.6v0.6h-0.6zM121.5 201.6h0.6v0.6h-0.6zM125.3 203.3h0.6v0.6h-0.6zM137.3 196.7h0.6v0.6h-0.6zM133.6 193.3h0.6v0.6h-0.6zM124.7 193.4h0.6v0.6h-0.6zM142.0 207.4h0.6v0.6h-0.6zM121.3 206.7h0.6v0.6h-0.6zM135.2 194.5h0.6v0.6h-0.6zM125.3 199.7h0.6v0.6h-0.6zM128.1 195.1h0.6v0.6h-0.6zM126.3 196.8h0.6v0.6h-0.6zM138.2 204.9h0.6v0.6h-0.6zM127.7 199.6h0.6v0.6h-0.6zM133.2 200.9h0.6v0.6h-0.6zM134.8 197.6h0.6v0.6h-0.6zM131.7 201.1h0.6v0.6h-0.6zM122.0 201.4h0.6v0.6h-0.6zM118.8 194.6h0.6v0.6h-0.6zM113.5 194.0h0.6v0.6h-0.6zM126.2 197.0h0.6v0.6h-0.6zM137.3 204.3h0.6v0.6h-0.6zM121.1 197.7h0.6v0.6h-0.6zM138.9 193.5h0.6v0.6h-0.6zM116.1 197.0h0.6v0.6h-0.6zM141.5 193.6h0.6v0.6h-0.6zM126.3 189.6h0.6v0.6h-0.6zM117.6 195.8h0.6v0.6h-0.6zM123.6 197.0h0.6v0.6h-0.6zM122.6 207.1h0.6v0.6h-0.6zM128.5 201.7h0.6v0.6h-0.6zM135.2 206.3h0.6v0.6h-0.6zM128.4 186.5h0.6v0.6h-0.6zM115.4 190.4h0.6v0.6h-0.6zM129.7 205.8h0.6v0.6h-0.6zM112.7 198.6h0.6v0.6h-0.6zM132.8 196.2h0.6v0.6h-0.6zM141.8 196.4h0.6v0.6h-0.6zM136.1 202.0h0.6v0.6h-0.6zM116.1 185.9h0.6v0.6h-0.6zM132.9 190.6h0.6v0.6h-0.6zM129.0 193.9h0.6v0.6h-0.6zM132.9 196.0h0.6v0.6h-0.6zM125.1 196.7h0.6v0.6h-0.6zM130.7 196.2h0.6v0.6h-0.6zM135.6 190.6h0.6v0.6h-0.6zM119.6 197.4h0.6v0.6h-0.6zM122.2 191.9h0.6v0.6h-0.6zM122.4 194.3h0.6v0.6h-0.6zM135.1 203.2h0.6v0.6h-0.6zM126.1 194.8h0.6v0.6h-0.6zM130.2 190.5h0.6v0.6h-0.6zM131.8 198.0h0.6v0.6h-0.6zM147.1 201.3h0.6v0.6h-0.6zM120.6 192.6h0.6v0.6h-0.6zM115.5 199.8h0.6v0.6h-0.6zM129.9 197.9h0.6v0.6h-0.6zM125.5 199.8h0.6v0.6h-0.6zM133.7 199.4h0.6v0.6h-0.6zM116.3 194.8h0.6v0.6h-0.6zM133.2 205.7h0.6v0.6h-0.6zM138.8 195.8h0.6v0.6h-0.6zM116.6 206.9h0.6v0.6h-0.6zM137.8 194.6h0.6v0.6h-0.6zM143.9 204.6h0.6v0.6h-0.6zM122.0 197.1h0.6v0.6h-0.6zM131.9 196.7h0.6v0.6h-0.6zM121.4 209.2h0.6v0.6h-0.6zM118.6 193.1h0.6v0.6h-0.6zM115.3 196.3h0.6v0.6h-0.6zM118.6 195.1h0.6v0.6h-0.6zM128.5 192.1h0.6v0.6h-0.6zM130.7 191.4h0.6v0.6h-0.6zM120.8 195.5h0.6v0.6h-0.6zM125.7 208.4h0.6v0.6h-0.6zM142.0 183.5h0.6v0.6h-0.6zM147.7 200.3h0.6v0.6h-0.6zM125.6 191.8h0.6v0.6h-0.6zM145.4 194.5h0.6v0.6h-0.6zM126.0 189.3h0.6v0.6h-0.6zM115.5 186.1h0.6v0.6h-0.6zM118.6 195.2h0.6v0.6h-0.6zM128.5 204.9h0.6v0.6h-0.6zM141.4 201.6h0.6v0.6h-0.6zM127.6 206.3h0.6v0.6h-0.6zM129.0 193.0h0.6v0.6h-0.6zM136.5 195.3h0.6v0.6h-0.6zM146.1 208.8h0.6v0.6h-0.6zM123.4 203.0h0.6v0.6h-0.6zM139.5 201.6h0.6v0.6h-0.6zM138.5 197.1h0.6v0.6h-0.6zM117.8 202.4h0.6v0.6h-0.6zM129.8 190.4h0.6v0.6h-0.6zM128.2 195.1h0.6v0.6h-0.6zM147.2 183.0h0.6v0.6h-0.6zM142.3 198.9h0.6v0.6h-0.6zM138.2 200.0h0.6v0.6h-0.6zM117.5 206.4h0.6v0.6h-0.6zM119.7 206.8h0.6v0.6h-0.6zM119.9 184.7h0.6v0.6h-0.6zM125.9 190.4h0.6v0.6h-0.6zM129.5 201.6h0.6v0.6h-0.6zM114.8 204.1h0.6v0.6h-0.6zM125.9 193.7h0.6v0.6h-0.6zM135.9 205.0h0.6v0.6h-0.6zM129.4 190.5h0.6v0.6h-0.6zM140.5 201.3h0.6v0.6h-0.6zM116.7 195.0h0.6v0.6h-0.6zM128.5 204.5h0.6v0.6h-0.6zM116.1 200.1h0.6v0.6h-0.6zM148.2 207.5h0.6v0.6h-0.6zM120.8 205.8h0.6v0.6h-0.6zM122.9 200.7h0.6v0.6h-0.6zM137.0 201.4h0.6v0.6h-0.6zM141.0 204.1h0.6v0.6h-0.6zM135.6 197.8h0.6v0.6h-0.6zM119.5 197.6h0.6v0.6h-0.6zM141.5 198.9h0.6v0.6h-0.6zM123.9 193.1h0.6v0.6h-0.6zM117.3 200.7h0.6v0.6h-0.6zM117.2 200.0h0.6v0.6h-0.6zM127.3 207.0h0.6v0.6h-0.6zM131.0 191.0h0.6v0.6h-0.6zM132.6 199.2h0.6v0.6h-0.6zM124.2 199.8h0.6v0.6h-0.6zM125.9 208.7h0.6v0.6h-0.6zM135.7 200.8h0.6v0.6h-0.6zM116.3 203.2h0.6v0.6h-0.6zM143.3 194.5h0.6v0.6h-0.6zM119.2 191.8h0.6v0.6h-0.6zM121.7 200.5h0.6v0.6h-0.6zM123.5 193.2h0.6v0.6h-0.6zM143.0 198.8h0.6v0.6h-0.6zM124.2 197.5h0.6v0.6h-0.6zM124.1 199.5h0.6v0.6h-0.6zM131.0 186.0h0.6v0.6h-0.6zM138.7 196.3h0.6v0.6h-0.6zM119.6 201.2h0.6v0.6h-0.6zM136.0 198.7h0.6v0.6h-0.6zM129.9 191.7h0.6v0.6h-0.6zM112.9 202.7h0.6v0.6h-0.6zM130.9 201.2h0.6v0.6h-0.6zM122.2 201.2h0.6v0.6h-0.6zM118.1 196.3h0.6v0.6h-0.6zM123.8 205.6h0.6v0.6h-0.6zM125.8 197.3h0.6v0.6h-0.6zM119.7 197.3h0.6v0.6h-0.6zM126.9 188.5h0.6v0.6h-0.6zM128.1 192.6h0.6v0.6h-0.6zM124.6 191.9h0.6v0.6h-0.6zM134.9 189.2h0.6v0.6h-0.6zM120.7 200.2h0.6v0.6h-0.6zM134.8 194.6h0.6v0.6h-0.6zM123.9 201.4h0.6v0.6h-0.6zM145.8 194.4h0.6v0.6h-0.6zM132.8 199.8h0.6v0.6h-0.6zM122.6 204.7h0.6v0.6h-0.6zM139.3 198.0h0.6v0.6h-0.6zM118.6 202.6h0.6v0.6h-0.6zM129.2 204.7h0.6v0.6h-0.6zM119.4 200.7h0.6v0.6h-0.6zM129.3 197.8h0.6v0.6h-0.6zM136.0 192.3h0.6v0.6h-0.6zM119.9 196.2h0.6v0.6h-0.6zM133.6 187.0h0.6v0.6h-0.6zM137.8 192.4h0.6v0.6h-0.6zM130.1 203.8h0.6v0.6h-0.6zM133.8 204.4h0.6v0.6h-0.6zM126.5 193.4h0.6v0.6h-0.6zM137.0 194.2h0.6v0.6h-0.6zM129.5 191.3h0.6v0.6h-0.6zM142.7 190.7h0.6v0.6h-0.6zM123.3 194.9h0.6v0.6h-0.6zM145.8 202.6h0.6v0.6h-0.6zM121.3 205.1h0.6v0.6h-0.6zM122.6 195.5h0.6v0.6h-0.6zM128.9 194.8h0.6v0.6h-0.6zM129.5 196.3h0.6v0.6h-0.6zM115.6 206.6h0.6v0.6h-0.6zM121.7 194.8h0.6v0.6h-0.6zM138.5 199.5h0.6v0.6h-0.6zM144.5 197.0h0.6v0.6h-0.6zM133.9 204.3h0.6v0.6h-0.6zM133.5 190.3h0.6v0.6h-0.6zM112.0 198.1h0.6v0.6h-0.6zM125.9 201.0h0.6v0.6h-0.6zM121.9 192.1h0.6v0.6h-0.6zM125.5 187.9h0.6v0.6h-0.6zM128.5 192.2h0.6v0.6h-0.6zM112.7 207.8h0.6v0.6h-0.6zM118.5 205.0h0.6v0.6h-0.6zM118.0 204.1h0.6v0.6h-0.6zM120.1 190.9h0.6v0.6h-0.6zM140.5 199.9h0.6v0.6h-0.6zM138.7 194.9h0.6v0.6h-0.6zM124.6 199.6h0.6v0.6h-0.6zM128.7 198.0h0.6v0.6h-0.6zM130.1 200.4h0.6v0.6h-0.6zM119.6 202.7h0.6v0.6h-0.6zM119.3 201.4h0.6v0.6h-0.6zM118.6 193.9h0.6v0.6h-0.6zM126.4 204.2h0.6v0.6h-0.6zM134.1 205.3h0.6v0.6h-0.6zM142.4 197.6h0.6v0.6h-0.6zM148.8 204.1h0.6v0.6h-0.6zM131.8 201.3h0.6v0.6h-0.6zM123.5 208.5h0.6v0.6h-0.6zM130.6 197.0h0.6v0.6h-0.6zM127.1 197.6h0.6v0.6h-0.6zM127.5 197.2h0.6v0.6h-0.6zM137.2 194.9h0.6v0.6h-0.6zM131.5 203.0h0.6v0.6h-0.6zM133.4 202.0h0.6v0.6h-0.6zM124.5 196.2h0.6v0.6h-0.6zM133.2 191.0h0.6v0.6h-0.6zM122.4 202.9h0.6v0.6h-0.6zM127.0 194.7h0.6v0.6h-0.6zM116.8 198.0h0.6v0.6h-0.6zM131.1 196.5h0.6v0.6h-0.6zM131.0 205.3h0.6v0.6h-0.6zM132.8 201.2h0.6v0.6h-0.6zM129.3 208.9h0.6v0.6h-0.6zM120.2 203.1h0.6v0.6h-0.6zM122.0 196.4h0.6v0.6h-0.6zM132.5 198.5h0.6v0.6h-0.6zM111.2 203.8h0.6v0.6h-0.6zM132.5 192.0h0.6v0.6h-0.6zM128.4 199.9h0.6v0.6h-0.6zM136.6 206.5h0.6v0.6h-0.6zM122.6 193.0h0.6v0.6h-0.6zM120.3 196.9h0.6v0.6h-0.6zM128.1 186.2h0.6v0.6h-0.6zM130.9 191.4h0.6v0.6h-0.6zM125.9 201.9h0.6v0.6h-0.6zM119.4 196.6h0.6v0.6h-0.6zM112.6 194.9h0.6v0.6h-0.6zM117.3 201.6h0.6v0.6h-0.6zM110.2 191.0h0.6v0.6h-0.6zM130.1 191.3h0.6v0.6h-0.6zM139.2 199.1h0.6v0.6h-0.6zM129.3 200.4h0.6v0.6h-0.6zM114.9 200.9h0.6v0.6h-0.6zM138.6 195.3h0.6v0.6h-0.6zM112.1 195.1h0.6v0.6h-0.6zM113.7 200.7h0.6v0.6h-0.6zM133.9 206.6h0.6v0.6h-0.6zM119.8 191.6h0.6v0.6h-0.6zM111.8 191.1h0.6v0.6h-0.6zM146.3 198.5h0.6v0.6h-0.6zM123.1 193.3h0.6v0.6h-0.6zM132.0 191.9h0.6v0.6h-0.6zM126.1 205.0h0.6v0.6h-0.6zM129.4 191.0h0.6v0.6h-0.6zM118.7 199.6h0.6v0.6h-0.6zM125.3 199.1h0.6v0.6h-0.6zM136.7 199.9h0.6v0.6h-0.6zM126.4 192.0h0.6v0.6h-0.6zM125.3 198.3h0.6v0.6h-0.6zM134.4 197.4h0.6v0.6h-0.6zM118.4 209.0h0.6v0.6h-0.6zM127.2 193.9h0.6v0.6h-0.6zM126.3 194.9h0.6v0.6h-0.6zM138.2 193.3h0.6v0.6h-0.6zM119.8 187.8h0.6v0.6h-0.6zM124.6 199.9h0.6v0.6h-0.6zM124.1 192.6h0.6v0.6h-0.6zM111.6 202.7h0.6v0.6h-0.6zM129.0 201.4h0.6v0.6h-0.6zM116.5 193.7h0.6v0.6h-0.6zM123.4 198.5h0.6v0.6h-0.6zM111.7 204.4h0.6v0.6h-0.6zM128.1 194.4h0.6v0.6h-0.6zM122.4 191.5h0.6v0.6h-0.6zM136.8 196.1h0.6v0.6h-0.6zM117.7 194.1h0.6v0.6h-0.6zM133.1 191.2h0.6v0.6h-0.6zM128.8 203.4h0.6v0.6h-0.6zM122.0 195.2h0.6v0.6h-0.6zM141.3 209.9h0.6v0.6h-0.6zM129.5 194.3h0.6v0.6h-0.6zM124.5 200.9h0.6v0.6h-0.6zM136.3 197.9h0.6v0.6h-0.6zM142.2 204.9h0.6v0.6h-0.6zM127.0 197.2h0.6v0.6h-0.6zM126.7 201.0h0.6v0.6h-0.6zM116.0 194.4h0.6v0.6h-0.6zM123.1 197.2h0.6v0.6h-0.6zM124.3 194.9h0.6v0.6h-0.6zM115.3 191.1h0.6v0.6h-0.6zM125.2 190.7h0.6v0.6h-0.6zM134.5 205.2h0.6v0.6h-0.6zM131.8 196.3h0.6v0.6h-0.6zM127.9 198.4h0.6v0.6h-0.6zM117.7 191.4h0.6v0.6h-0.6zM134.1 194.7h0.6v0.6h-0.6zM118.1 196.6h0.6v0.6h-0.6zM125.8 200.7h0.6v0.6h-0.6zM138.0 192.9h0.6v0.6h-0.6zM134.0 203.2h0.6v0.6h-0.6zM124.7 199.6h0.6v0.6h-0.6zM123.2 199.0h0.6v0.6h-0.6zM139.7 190.3h0.6v0.6h-0.6zM127.6 193.4h0.6v0.6h-0.6zM118.3 204.7h0.6v0.6h-0.6zM118.8 188.7h0.6v0.6h-0.6zM128.3 191.2h0.6v0.6h-0.6zM116.5 190.0h0.6v0.6h-0.6zM120.9 199.8h0.6v0.6h-0.6zM123.0 195.0h0.6v0.6h-0.6zM118.8 189.5h0.6v0.6h-0.6zM118.8 189.8h0.6v0.6h-0.6zM144.0 201.0h0.6v0.6h-0.6zM146.6 194.2h0.6v0.6h-0.6zM127.0 196.2h0.6v0.6h-0.6zM126.2 196.4h0.6v0.6h-0.6zM130.7 197.9h0.6v0.6h-0.6zM116.1 206.5h0.6v0.6h-0.6zM131.1 201.0h0.6v0.6h-0.6zM135.0 207.3h0.6v0.6h-0.6zM126.2 196.7h0.6v0.6h-0.6zM117.5 193.1h0.6v0.6h-0.6zM113.8 189.9h0.6v0.6h-0.6zM123.0 192.2h0.6v0.6h-0.6zM119.3 193.1h0.6v0.6h-0.6zM128.3 200.6h0.6v0.6h-0.6zM125.2 201.1h0.6v0.6h-0.6zM138.0 194.3h0.6v0.6h-0.6zM120.9 201.4h0.6v0.6h-0.6zM135.9 195.5h0.6v0.6h-0.6zM117.5 200.4h0.6v0.6h-0.6zM127.0 194.8h0.6v0.6h-0.6zM142.4 201.2h0.6v0.6h-0.6zM121.8 204.3h0.6v0.6h-0.6zM133.7 198.6h0.6v0.6h-0.6zM134.2 207.7h0.6v0.6h-0.6zM119.3 194.1h0.6v0.6h-0.6zM128.5 199.9h0.6v0.6h-0.6zM123.5 195.8h0.6v0.6h-0.6zM115.4 200.1h0.6v0.6h-0.6zM128.4 197.8h0.6v0.6h-0.6zM141.3 200.2h0.6v0.6h-0.6zM142.0 201.8h0.6v0.6h-0.6zM110.8 204.7h0.6v0.6h-0.6zM132.0 189.9h0.6v0.6h-0.6zM131.9 193.5h0.6v0.6h-0.6zM135.9 201.3h0.6v0.6h-0.6zM122.5 204.8h0.6v0.6h-0.6zM143.5 197.6h0.6v0.6h-0.6zM119.9 192.2h0.6v0.6h-0.6zM125.1 202.3h0.6v0.6h-0.6zM122.1 197.9h0.6v0.6h-0.6zM138.8 208.6h0.6v0.6h-0.6zM114.6 194.7h0.6v0.6h-0.6zM123.2 191.3h0.6v0.6h-0.6zM111.7 201.8h0.6v0.6h-0.6zM132.4 197.4h0.6v0.6h-0.6zM116.4 200.7h0.6v0.6h-0.6zM116.9 197.4h0.6v0.6h-0.6zM127.0 189.9h0.6v0.6h-0.6zM132.5 191.3h0.6v0.6h-0.6zM122.8 187.4h0.6v0.6h-0.6zM131.7 199.9h0.6v0.6h-0.6zM140.1 200.2h0.6v0.6h-0.6zM114.9 207.2h0.6v0.6h-0.6zM144.7 205.2h0.6v0.6h-0.6zM136.3 199.8h0.6v0.6h-0.6zM110.8 201.9h0.6v0.6h-0.6zM123.0 198.7h0.6v0.6h-0.6zM123.2 197.5h0.6v0.6h-0.6zM137.2 200.8h0.6v0.6h-0.6zM123.8 197.9h0.6v0.6h-0.6zM113.1 208.5h0.6v0.6h-0.6zM134.4 204.3h0.6v0.6h-0.6zM113.5 198.0h0.6v0.6h-0.6zM133.9 192.3h0.6v0.6h-0.6zM130.1 185.5h0.6v0.6h-0.6zM128.1 191.8h0.6v0.6h-0.6zM132.5 207.3h0.6v0.6h-0.6zM129.3 199.8h0.6v0.6h-0.6zM127.7 198.9h0.6v0.6h-0.6zM117.8 200.1h0.6v0.6h-0.6zM124.6 194.7h0.6v0.6h-0.6zM134.3 194.9h0.6v0.6h-0.6zM144.0 203.2h0.6v0.6h-0.6zM113.6 196.5h0.6v0.6h-0.6zM130.9 200.9h0.6v0.6h-0.6zM130.4 203.6h0.6v0.6h-0.6zM127.7 207.5h0.6v0.6h-0.6zM135.3 203.8h0.6v0.6h-0.6zM136.2 196.1h0.6v0.6h-0.6zM129.9 185.4h0.6v0.6h-0.6zM130.5 189.0h0.6v0.6h-0.6zM129.7 205.7h0.6v0.6h-0.6zM134.7 199.4h0.6v0.6h-0.6zM123.3 192.8h0.6v0.6h-0.6zM130.6 198.0h0.6v0.6h-0.6zM122.7 191.1h0.6v0.6h-0.6zM131.5 192.4h0.6v0.6h-0.6zM125.8 185.3h0.6v0.6h-0.6zM133.8 202.2h0.6v0.6h-0.6zM138.3 190.7h0.6v0.6h-0.6zM110.5 194.0h0.6v0.6h-0.6zM140.7 197.0h0.6v0.6h-0.6zM125.8 204.4h0.6v0.6h-0.6zM126.0 202.5h0.6v0.6h-0.6zM124.5 197.7h0.6v0.6h-0.6zM137.1 199.8h0.6v0.6h-0.6zM136.9 202.3h0.6v0.6h-0.6zM125.6 206.6h0.6v0.6h-0.6zM123.1 202.3h0.6v0.6h-0.6zM131.1 183.1h0.6v0.6h-0.6zM111.1 198.6h0.6v0.6h-0.6zM137.3 200.3h0.6v0.6h-0.6zM118.9 201.1h0.6v0.6h-0.6zM116.4 199.8h0.6v0.6h-0.6zM138.4 201.2h0.6v0.6h-0.6zM123.1 200.5h0.6v0.6h-0.6zM126.0 197.0h0.6v0.6h-0.6zM117.2 205.9h0.6v0.6h-0.6zM147.4 196.1h0.6v0.6h-0.6zM129.2 195.7h0.6v0.6h-0.6zM132.5 194.8h0.6v0.6h-0.6zM129.9 198.0h0.6v0.6h-0.6zM123.1 192.8h0.6v0.6h-0.6zM127.1 203.0h0.6v0.6h-0.6zM127.2 195.8h0.6v0.6h-0.6zM127.8 193.7h0.6v0.6h-0.6zM146.8 197.9h0.6v0.6h-0.6zM132.8 193.4h0.6v0.6h-0.6zM115.5 191.7h0.6v0.6h-0.6zM129.4 206.6h0.6v0.6h-0.6zM134.7 205.3h0.6v0.6h-0.6zM131.9 195.1h0.6v0.6h-0.6zM123.0 195.1h0.6v0.6h-0.6zM114.1 202.6h0.6v0.6h-0.6zM137.2 204.5h0.6v0.6h-0.6zM111.9 191.8h0.6v0.6h-0.6zM144.9 194.7h0.6v0.6h-0.6zM126.9 195.5h0.6v0.6h-0.6zM129.4 199.8h0.6v0.6h-0.6zM121.7 196.3h0.6v0.6h-0.6zM123.8 203.0h0.6v0.6h-0.6zM131.9 202.0h0.6v0.6h-0.6zM124.2 209.2h0.6v0.6h-0.6zM128.7 200.7h0.6v0.6h-0.6zM133.3 197.0h0.6v0.6h-0.6zM136.4 195.8h0.6v0.6h-0.6zM117.0 193.8h0.6v0.6h-0.6zM137.9 194.1h0.6v0.6h-0.6zM137.0 201.2h0.6v0.6h-0.6zM121.5 203.7h0.6v0.6h-0.6zM119.9 197.4h0.6v0.6h-0.6zM119.2 197.5h0.6v0.6h-0.6zM130.7 200.0h0.6v0.6h-0.6zM124.9 195.3h0.6v0.6h-0.6zM129.5 202.6h0.6v0.6h-0.6zM126.8 205.7h0.6v0.6h-0.6zM113.7 190.2h0.6v0.6h-0.6zM113.4 188.2h0.6v0.6h-0.6zM124.8 198.7h0.6v0.6h-0.6zM127.8 198.0h0.6v0.6h-0.6zM135.9 196.4h0.6v0.6h-0.6zM113.6 197.9h0.6v0.6h-0.6zM135.2 201.4h0.6v0.6h-0.6zM111.4 208.1h0.6v0.6h-0.6zM138.8 206.2h0.6v0.6h-0.6zM120.2 190.2h0.6v0.6h-0.6zM132.1 192.0h0.6v0.6h-0.6zM140.2 196.3h0.6v0.6h-0.6zM126.0 199.5h0.6v0.6h-0.6zM136.7 202.3h0.6v0.6h-0.6zM126.3 195.8h0.6v0.6h-0.6zM143.0 201.3h0.6v0.6h-0.6zM129.3 198.4h0.6v0.6h-0.6zM129.9 206.7h0.6v0.6h-0.6zM118.4 196.1h0.6v0.6h-0.6zM114.6 193.8h0.6v0.6h-0.6zM136.3 204.8h0.6v0.6h-0.6zM129.9 196.4h0.6v0.6h-0.6zM122.4 192.8h0.6v0.6h-0.6zM143.2 199.9h0.6v0.6h-0.6zM130.8 192.8h0.6v0.6h-0.6zM117.7 190.5h0.6v0.6h-0.6zM139.9 199.6h0.6v0.6h-0.6zM133.5 204.9h0.6v0.6h-0.6zM127.0 200.7h0.6v0.6h-0.6zM122.3 196.4h0.6v0.6h-0.6zM118.5 194.5h0.6v0.6h-0.6zM128.5 193.8h0.6v0.6h-0.6zM137.0 193.0h0.6v0.6h-0.6zM133.9 190.4h0.6v0.6h-0.6zM132.9 200.9h0.6v0.6h-0.6zM122.4 203.1h0.6v0.6h-0.6zM118.1 205.6h0.6v0.6h-0.6zM127.7 197.2h0.6v0.6h-0.6zM142.3 193.8h0.6v0.6h-0.6zM110.7 193.4h0.6v0.6h-0.6zM140.5 198.6h0.6v0.6h-0.6zM128.3 186.3h0.6v0.6h-0.6zM117.5 195.0h0.6v0.6h-0.6zM137.8 191.5h0.6v0.6h-0.6zM116.9 195.9h0.6v0.6h-0.6zM118.9 198.9h0.6v0.6h-0.6zM115.0 202.7h0.6v0.6h-0.6zM112.5 187.3h0.6v0.6h-0.6zM111.2 181.3h0.6v0.6h-0.6zM111.4 191.4h0.6v0.6h-0.6zM113.4 192.8h0.6v0.6h-0.6zM112.5 184.5h0.6v0.6h-0.6zM112.6 193.9h0.6v0.6h-0.6zM114.5 182.9h0.6v0.6h-0.6zM115.1 203.6h0.6v0.6h-0.6zM110.7 201.2h0.6v0.6h-0.6zM111.7 183.7h0.6v0.6h-0.6zM112.4 192.2h0.6v0.6h-0.6zM114.0 183.0h0.6v0.6h-0.6zM112.3 196.4h0.6v0.6h-0.6zM111.6 191.7h0.6v0.6h-0.6zM113.4 209.4h0.6v0.6h-0.6zM113.9 196.4h0.6v0.6h-0.6zM111.7 202.3h0.6v0.6h-0.6zM115.7 183.9h0.6v0.6h-0.6zM111.3 194.0h0.6v0.6h-0.6zM112.1 195.2h0.6v0.6h-0.6zM110.8 195.1h0.6v0.6h-0.6zM112.3 196.7h0.6v0.6h-0.6zM111.4 185.0h0.6v0.6h-0.6zM114.7 186.6h0.6v0.6h-0.6zM113.6 193.3h0.6v0.6h-0.6zM111.7 194.7h0.6v0.6h-0.6zM114.1 192.5h0.6v0.6h-0.6zM113.0 183.9h0.6v0.6h-0.6zM111.2 178.5h0.6v0.6h-0.6zM114.5 202.4h0.6v0.6h-0.6zM112.5 201.0h0.6v0.6h-0.6zM112.1 189.9h0.6v0.6h-0.6zM113.4 197.3h0.6v0.6h-0.6zM115.4 187.8h0.6v0.6h-0.6zM111.5 195.9h0.6v0.6h-0.6zM111.3 202.1h0.6v0.6h-0.6zM113.3 203.1h0.6v0.6h-0.6zM110.7 191.8h0.6v0.6h-0.6zM113.7 191.3h0.6v0.6h-0.6zM110.9 185.7h0.6v0.6h-0.6zM110.2 189.3h0.6v0.6h-0.6zM111.6 201.3h0.6v0.6h-0.6zM112.6 188.7h0.6v0.6h-0.6zM110.4 191.2h0.6v0.6h-0.6zM112.6 189.9h0.6v0.6h-0.6zM110.1 193.7h0.6v0.6h-0.6zM111.5 189.8h0.6v0.6h-0.6zM116.4 189.4h0.6v0.6h-0.6zM113.1 194.9h0.6v0.6h-0.6zM112.3 196.1h0.6v0.6h-0.6zM111.0 196.7h0.6v0.6h-0.6zM110.5 198.3h0.6v0.6h-0.6zM110.9 190.1h0.6v0.6h-0.6zM112.3 207.7h0.6v0.6h-0.6zM110.1 201.8h0.6v0.6h-0.6zM115.6 193.8h0.6v0.6h-0.6zM111.5 186.0h0.6v0.6h-0.6zM112.1 185.9h0.6v0.6h-0.6zM113.2 190.1h0.6v0.6h-0.6zM112.0 190.5h0.6v0.6h-0.6zM112.1 188.6h0.6v0.6h-0.6zM111.7 190.4h0.6v0.6h-0.6zM110.6 184.5h0.6v0.6h-0.6zM112.5 206.4h0.6v0.6h-0.6zM111.4 194.5h0.6v0.6h-0.6zM116.7 190.2h0.6v0.6h-0.6zM114.3 196.0h0.6v0.6h-0.6zM111.3 188.2h0.6v0.6h-0.6zM111.2 189.2h0.6v0.6h-0.6zM112.1 194.7h0.6v0.6h-0.6zM110.4 197.8h0.6v0.6h-0.6zM111.4 197.5h0.6v0.6h-0.6zM110.7 205.3h0.6v0.6h-0.6zM110.8 187.2h0.6v0.6h-0.6zM111.6 182.7h0.6v0.6h-0.6zM115.6 185.2h0.6v0.6h-0.6zM113.1 204.6h0.6v0.6h-0.6zM113.9 199.9h0.6v0.6h-0.6zM115.2 197.1h0.6v0.6h-0.6zM112.5 204.2h0.6v0.6h-0.6zM110.9 177.2h0.6v0.6h-0.6zM110.4 196.9h0.6v0.6h-0.6zM115.7 182.3h0.6v0.6h-0.6zM113.4 189.3h0.6v0.6h-0.6zM112.2 191.8h0.6v0.6h-0.6zM111.4 194.0h0.6v0.6h-0.6zM111.1 182.3h0.6v0.6h-0.6zM113.2 194.1h0.6v0.6h-0.6zM114.8 189.1h0.6v0.6h-0.6zM111.7 193.3h0.6v0.6h-0.6zM112.4 204.0h0.6v0.6h-0.6zM115.1 190.3h0.6v0.6h-0.6zM111.4 182.9h0.6v0.6h-0.6zM110.4 205.4h0.6v0.6h-0.6zM112.3 199.6h0.6v0.6h-0.6zM112.9 199.6h0.6v0.6h-0.6zM113.2 195.9h0.6v0.6h-0.6zM112.7 191.6h0.6v0.6h-0.6zM112.1 177.4h0.6v0.6h-0.6zM111.9 201.5h0.6v0.6h-0.6zM113.7 202.2h0.6v0.6h-0.6zM112.1 196.5h0.6v0.6h-0.6zM110.8 192.0h0.6v0.6h-0.6zM114.3 197.1h0.6v0.6h-0.6zM118.6 201.3h0.6v0.6h-0.6zM111.2 190.6h0.6v0.6h-0.6zM112.1 179.7h0.6v0.6h-0.6zM111.8 207.8h0.6v0.6h-0.6zM111.2 208.9h0.6v0.6h-0.6zM111.3 203.3h0.6v0.6h-0.6zM112.6 195.1h0.6v0.6h-0.6zM113.4 188.6h0.6v0.6h-0.6zM114.8 191.7h0.6v0.6h-0.6zM110.2 201.5h0.6v0.6h-0.6zM114.9 179.0h0.6v0.6h-0.6zM115.3 192.9h0.6v0.6h-0.6zM110.6 192.8h0.6v0.6h-0.6zM113.1 188.0h0.6v0.6h-0.6zM112.5 196.9h0.6v0.6h-0.6zM111.6 183.5h0.6v0.6h-0.6zM111.5 178.0h0.6v0.6h-0.6zM113.8 192.1h0.6v0.6h-0.6zM113.3 198.3h0.6v0.6h-0.6zM113.2 191.9h0.6v0.6h-0.6zM111.8 183.2h0.6v0.6h-0.6zM111.6 196.7h0.6v0.6h-0.6zM113.2 196.9h0.6v0.6h-0.6zM115.7 197.7h0.6v0.6h-0.6zM117.4 202.9h0.6v0.6h-0.6zM111.3 186.0h0.6v0.6h-0.6zM112.5 188.6h0.6v0.6h-0.6zM114.9 186.0h0.6v0.6h-0.6zM112.7 191.3h0.6v0.6h-0.6zM115.2 186.9h0.6v0.6h-0.6zM113.5 206.7h0.6v0.6h-0.6zM111.5 183.7h0.6v0.6h-0.6zM111.3 186.6h0.6v0.6h-0.6zM113.1 200.8h0.6v0.6h-0.6zM112.8 188.4h0.6v0.6h-0.6zM112.2 203.0h0.6v0.6h-0.6zM110.7 188.3h0.6v0.6h-0.6zM110.6 205.1h0.6v0.6h-0.6zM116.1 183.5h0.6v0.6h-0.6zM110.5 189.7h0.6v0.6h-0.6zM112.8 188.1h0.6v0.6h-0.6zM113.3 188.6h0.6v0.6h-0.6zM112.3 194.6h0.6v0.6h-0.6zM110.3 196.3h0.6v0.6h-0.6zM113.9 192.7h0.6v0.6h-0.6zM112.3 196.0h0.6v0.6h-0.6zM111.9 201.1h0.6v0.6h-0.6zM113.7 192.6h0.6v0.6h-0.6zM112.8 183.6h0.6v0.6h-0.6zM112.5 180.8h0.6v0.6h-0.6zM127.0 205.1h0.6v0.6h-0.6zM126.2 204.6h0.6v0.6h-0.6zM127.3 203.1h0.6v0.6h-0.6zM128.3 204.7h0.6v0.6h-0.6zM144.7 206.3h0.6v0.6h-0.6zM130.7 208.3h0.6v0.6h-0.6zM130.1 207.4h0.6v0.6h-0.6zM129.5 207.3h0.6v0.6h-0.6zM124.4 202.4h0.6v0.6h-0.6zM131.0 203.7h0.6v0.6h-0.6zM113.9 204.2h0.6v0.6h-0.6zM137.7 203.6h0.6v0.6h-0.6zM136.2 205.3h0.6v0.6h-0.6zM133.9 205.1h0.6v0.6h-0.6zM133.0 203.9h0.6v0.6h-0.6zM124.8 204.1h0.6v0.6h-0.6zM139.1 204.8h0.6v0.6h-0.6zM138.1 202.4h0.6v0.6h-0.6zM131.4 205.0h0.6v0.6h-0.6zM127.7 205.2h0.6v0.6h-0.6zM125.8 205.0h0.6v0.6h-0.6zM126.2 203.9h0.6v0.6h-0.6zM128.0 203.4h0.6v0.6h-0.6zM122.8 205.1h0.6v0.6h-0.6zM126.2 205.1h0.6v0.6h-0.6zM124.0 204.7h0.6v0.6h-0.6zM132.6 206.3h0.6v0.6h-0.6zM136.7 204.5h0.6v0.6h-0.6zM119.3 204.2h0.6v0.6h-0.6zM127.9 205.0h0.6v0.6h-0.6zM121.2 203.8h0.6v0.6h-0.6zM111.1 208.8h0.6v0.6h-0.6zM130.4 209.2h0.6v0.6h-0.6zM113.0 206.4h0.6v0.6h-0.6zM123.1 205.0h0.6v0.6h-0.6zM137.3 207.6h0.6v0.6h-0.6zM116.8 203.0h0.6v0.6h-0.6zM142.2 203.5h0.6v0.6h-0.6zM113.8 205.1h0.6v0.6h-0.6zM134.2 207.5h0.6v0.6h-0.6zM126.0 205.7h0.6v0.6h-0.6zM122.6 204.8h0.6v0.6h-0.6zM148.7 202.9h0.6v0.6h-0.6zM126.0 203.8h0.6v0.6h-0.6zM117.3 205.2h0.6v0.6h-0.6zM137.6 202.8h0.6v0.6h-0.6zM120.8 208.8h0.6v0.6h-0.6zM129.6 206.5h0.6v0.6h-0.6zM132.6 205.3h0.6v0.6h-0.6zM125.8 204.2h0.6v0.6h-0.6zM121.4 208.5h0.6v0.6h-0.6zM143.2 207.7h0.6v0.6h-0.6zM128.8 208.3h0.6v0.6h-0.6zM119.7 206.7h0.6v0.6h-0.6zM121.0 207.3h0.6v0.6h-0.6zM116.9 205.7h0.6v0.6h-0.6zM121.7 204.8h0.6v0.6h-0.6zM120.4 204.1h0.6v0.6h-0.6zM117.4 205.4h0.6v0.6h-0.6zM132.6 206.0h0.6v0.6h-0.6zM125.1 204.8h0.6v0.6h-0.6zM135.3 209.0h0.6v0.6h-0.6zM124.0 205.2h0.6v0.6h-0.6zM124.4 202.0h0.6v0.6h-0.6zM123.9 204.7h0.6v0.6h-0.6zM128.1 205.0h0.6v0.6h-0.6zM120.4 203.2h0.6v0.6h-0.6zM132.0 202.9h0.6v0.6h-0.6zM112.4 205.9h0.6v0.6h-0.6zM138.8 206.5h0.6v0.6h-0.6zM134.1 203.9h0.6v0.6h-0.6zM116.5 205.1h0.6v0.6h-0.6zM116.2 206.8h0.6v0.6h-0.6zM113.0 203.6h0.6v0.6h-0.6zM123.4 204.3h0.6v0.6h-0.6zM127.1 202.5h0.6v0.6h-0.6zM137.8 208.9h0.6v0.6h-0.6zM129.2 208.2h0.6v0.6h-0.6zM118.0 207.7h0.6v0.6h-0.6zM123.3 204.3h0.6v0.6h-0.6zM115.3 203.4h0.6v0.6h-0.6zM138.9 205.7h0.6v0.6h-0.6zM134.6 206.3h0.6v0.6h-0.6zM135.9 208.3h0.6v0.6h-0.6zM121.2 206.4h0.6v0.6h-0.6zM130.7 207.5h0.6v0.6h-0.6zM128.8 207.7h0.6v0.6h-0.6zM121.8 204.8h0.6v0.6h-0.6zM128.5 205.8h0.6v0.6h-0.6zM139.2 205.8h0.6v0.6h-0.6zM113.4 204.6h0.6v0.6h-0.6zM111.4 203.1h0.6v0.6h-0.6zM117.1 200.7h0.6v0.6h-0.6zM119.5 202.1h0.6v0.6h-0.6zM121.8 204.7h0.6v0.6h-0.6zM119.7 204.5h0.6v0.6h-0.6zM115.4 206.3h0.6v0.6h-0.6zM130.0 206.5h0.6v0.6h-0.6zM131.2 201.2h0.6v0.6h-0.6zM126.2 203.8h0.6v0.6h-0.6zM114.0 207.9h0.6v0.6h-0.6zM134.1 202.7h0.6v0.6h-0.6zM141.8 202.5h0.6v0.6h-0.6zM131.3 200.6h0.6v0.6h-0.6zM132.6 207.2h0.6v0.6h-0.6zM118.7 203.4h0.6v0.6h-0.6zM124.4 207.8h0.6v0.6h-0.6zM114.3 204.9h0.6v0.6h-0.6zM126.3 202.6h0.6v0.6h-0.6zM111.0 205.4h0.6v0.6h-0.6zM136.4 202.6h0.6v0.6h-0.6zM133.8 202.4h0.6v0.6h-0.6zM132.8 204.8h0.6v0.6h-0.6zM129.5 205.9h0.6v0.6h-0.6zM124.7 204.2h0.6v0.6h-0.6zM144.4 206.5h0.6v0.6h-0.6zM123.2 204.7h0.6v0.6h-0.6zM115.9 205.0h0.6v0.6h-0.6zM136.4 205.4h0.6v0.6h-0.6zM123.0 208.2h0.6v0.6h-0.6zM121.3 207.6h0.6v0.6h-0.6zM139.0 201.2h0.6v0.6h-0.6zM147.4 207.2h0.6v0.6h-0.6zM124.5 203.4h0.6v0.6h-0.6zM127.2 204.1h0.6v0.6h-0.6zM126.4 203.9h0.6v0.6h-0.6zM122.7 205.9h0.6v0.6h-0.6zM124.8 199.6h0.6v0.6h-0.6zM128.2 206.4h0.6v0.6h-0.6zM124.3 204.6h0.6v0.6h-0.6zM116.9 208.6h0.6v0.6h-0.6zM119.8 206.3h0.6v0.6h-0.6zM115.2 203.0h0.6v0.6h-0.6zM126.4 202.8h0.6v0.6h-0.6zM122.7 203.4h0.6v0.6h-0.6zM126.3 204.6h0.6v0.6h-0.6zM121.3 204.9h0.6v0.6h-0.6zM142.8 205.5h0.6v0.6h-0.6zM126.2 208.3h0.6v0.6h-0.6zM139.6 204.7h0.6v0.6h-0.6zM121.7 198.2h0.6v0.6h-0.6zM110.9 201.0h0.6v0.6h-0.6zM112.3 208.0h0.6v0.6h-0.6zM128.1 206.3h0.6v0.6h-0.6zM120.0 208.2h0.6v0.6h-0.6zM123.4 201.4h0.6v0.6h-0.6zM125.3 207.0h0.6v0.6h-0.6zM119.0 208.4h0.6v0.6h-0.6zM130.2 207.9h0.6v0.6h-0.6zM120.9 205.3h0.6v0.6h-0.6zM120.4 206.2h0.6v0.6h-0.6zM126.8 207.2h0.6v0.6h-0.6zM122.7 199.7h0.6v0.6h-0.6zM134.1 204.5h0.6v0.6h-0.6zM135.3 201.3h0.6v0.6h-0.6zM120.9 206.8h0.6v0.6h-0.6zM119.8 202.2h0.6v0.6h-0.6zM121.1 203.0h0.6v0.6h-0.6zM124.8 204.3h0.6v0.6h-0.6zM122.1 205.2h0.6v0.6h-0.6zM145.9 202.8h0.6v0.6h-0.6zM129.2 206.2h0.6v0.6h-0.6zM130.0 206.4h0.6v0.6h-0.6zM130.6 207.5h0.6v0.6h-0.6zM138.7 205.2h0.6v0.6h-0.6zM125.6 203.4h0.6v0.6h-0.6zM122.6 204.7h0.6v0.6h-0.6zM133.4 203.9h0.6v0.6h-0.6zM131.8 205.3h0.6v0.6h-0.6zM127.7 206.7h0.6v0.6h-0.6zM115.3 205.2h0.6v0.6h-0.6zM124.2 203.5h0.6v0.6h-0.6zM130.9 206.7h0.6v0.6h-0.6zM138.4 202.1h0.6v0.6h-0.6zM128.5 203.7h0.6v0.6h-0.6zM117.8 206.2h0.6v0.6h-0.6zM124.1 203.1h0.6v0.6h-0.6zM131.8 205.0h0.6v0.6h-0.6zM123.5 205.8h0.6v0.6h-0.6zM135.9 205.5h0.6v0.6h-0.6zM130.8 207.8h0.6v0.6h-0.6zM120.6 207.7h0.6v0.6h-0.6zM119.9 205.0h0.6v0.6h-0.6zM132.3 200.9h0.6v0.6h-0.6zM114.4 204.6h0.6v0.6h-0.6zM125.2 209.9h0.6v0.6h-0.6zM126.9 205.3h0.6v0.6h-0.6zM126.8 201.5h0.6v0.6h-0.6z" fill="#1a1a1a" fill-opacity="0.5"/>
<path d="M107.10 174.40 C105.50 175.90 104.44 178.40 104.44 182.40 L104.44 201.80 C104.44 204.80 103.40 205.80 103.40 208.20 C103.40 210.80 110.80 210.80 110.80 208.20 C110.80 205.80 109.76 204.80 109.76 201.80 L109.76 182.40 C109.76 178.40 108.70 175.90 107.10 174.40Z" fill="#a5a5a5" stroke="#0a0a0a" stroke-width="1.0"/>
<path d="M107.10 177.40 C106.14 178.90 105.50 181.40 105.50 185.40 L105.50 201.00 C105.50 204.00 104.88 205.00 104.88 207.40 C104.88 210.00 109.32 210.00 109.32 207.40 C109.32 205.00 108.70 204.00 108.70 201.00 L108.70 185.40 C108.70 181.40 108.06 178.90 107.10 177.40Z" fill="#808080" stroke="#111" stroke-width="0.6"/>
<path d="M107.30 181.40 C106.82 182.90 106.50 185.40 106.50 189.40 L106.50 200.20 C106.50 203.20 106.19 204.20 106.19 206.60 C106.19 209.20 108.41 209.20 108.41 206.60 C108.41 204.20 108.10 203.20 108.10 200.20 L108.10 189.40 C108.10 185.40 107.78 182.90 107.30 181.40Z" fill="#3a3a3a" stroke="#111" stroke-width="0.5"/>
<ellipse cx="128.8" cy="207.6" rx="5.8" ry="1.4" fill="#fff" stroke="#222" stroke-width="0.7"/>
<rect x="93.30" y="163.00" width="58.80" height="59.50" fill="none" stroke="#444" stroke-width="0.8"/>
<line x1="93.30" y1="166.00" x2="94.60" y2="166.00" stroke="#777" stroke-width="0.5"/>
<line x1="93.30" y1="173.64" x2="94.60" y2="173.64" stroke="#777" stroke-width="0.5"/>
<line x1="93.30" y1="181.29" x2="94.60" y2="181.29" stroke="#777" stroke-width="0.5"/>
<line x1="93.30" y1="188.93" x2="94.60" y2="188.93" stroke="#777" stroke-width="0.5"/>
<line x1="93.30" y1="196.57" x2="94.60" y2="196.57" stroke="#777" stroke-width="0.5"/>
<line x1="93.30" y1="204.21" x2="94.60" y2="204.21" stroke="#777" stroke-width="0.5"/>
<line x1="93.30" y1="211.86" x2="94.60" y2="211.86" stroke="#777" stroke-width="0.5"/>
<line x1="93.30" y1="219.50" x2="94.60" y2="219.50" stroke="#777" stroke-width="0.5"/>
<line x1="96.30" y1="222.50" x2="96.30" y2="221.20" stroke="#777" stroke-width="0.5"/>
<line x1="103.84" y1="222.50" x2="103.84" y2="221.20" stroke="#777" stroke-width="0.5"/>
<line x1="111.39" y1="222.50" x2="111.39" y2="221.20" stroke="#777" stroke-width="0.5"/>
<line x1="118.93" y1="222.50" x2="118.93" y2="221.20" stroke="#777" stroke-width="0.5"/>
<line x1="126.47" y1="222.50" x2="126.47" y2="221.20" stroke="#777" stroke-width="0.5"/>
<line x1="134.01" y1="222.50" x2="134.01" y2="221.20" stroke="#777" stroke-width="0.5"/>
<line x1="141.56" y1="222.50" x2="141.56" y2="221.20" stroke="#777" stroke-width="0.5"/>
<line x1="149.10" y1="222.50" x2="149.10" y2="221.20" stroke="#777" stroke-width="0.5"/>
<rect x="91.50" y="207.62" width="1.60" height="1.40" fill="#111"/>
<rect x="105.65" y="222.60" width="1.60" height="1.40" fill="#111"/>
<rect x="44.10" y="177.40" width="30.60" height="12.70" fill="none" stroke="#333" stroke-width="0.8"/>
<rect x="114.40" y="177.40" width="29.80" height="12.70" fill="none" stroke="#333" stroke-width="0.8"/>
<text x="59.10" y="174.50" font-size="6.9" text-anchor="middle" fill="#2a2a2a" stroke="#2a2a2a" stroke-width="0.16">2.04</text>
<text x="130.20" y="174.50" font-size="6.9" text-anchor="middle" fill="#2a2a2a" stroke="#2a2a2a" stroke-width="0.16">1.82</text>
<line x1="59.90" y1="190.10" x2="59.90" y2="247.00" stroke="#333" stroke-width="0.7"/>
<line x1="129.80" y1="190.10" x2="129.80" y2="247.00" stroke="#333" stroke-width="0.7"/>
<path d="M59.9 249.6 L58.5 246.3 L61.3 246.3 Z" fill="#111"/>
<path d="M129.6 249.6 L128.2 246.3 L131 246.3 Z" fill="#111"/>
<path transform="translate(0.1999999999999993 0)" d="M50.5 284 C55 282.3 62 282.6 66.5 283.6 C67.8 286.5 67.3 291.5 66.2 294.8 C62 295.8 55 295.3 50.8 293.3Z" fill="none" stroke="#6a6a6a" stroke-width="0.5"/>
<path transform="translate(0.1999999999999993 0)" d="M52.5 285.8 C56 284.8 61 285.2 64.2 286 C64.8 288.2 64.3 291 63.7 292.6 C60 293.2 55.5 293 52.5 291.7Z" fill="none" stroke="#8a8a8a" stroke-width="0.45"/>
<path transform="translate(0.1999999999999993 0)" d="M54.5 287.5 C57 286.8 60 287 62 287.6 C62.3 289 62 290.3 61.5 291 C59 291.4 56.5 291.2 54.6 290.4Z" fill="none" stroke="#aaa" stroke-width="0.4"/>
<path transform="translate(0.1999999999999993 0)" d="M34 263 C35 259.5 42 259.5 47 259.8 C52 260 54.5 261.5 53.8 265 C53 269 50 273 48.5 277 C47.8 280 49.5 283 50.5 286 C51.5 290 50 295 45 296 C40 296.5 37.5 295 37 291 C36.5 285 35.5 280 34.5 275 C33.8 271 33.5 266 34 263Z" fill="#a8a8a8" stroke="#333" stroke-width="0.6"/>
<path transform="translate(0.1999999999999993 0)" d="M38.3 284 C38.8 281 42 280.3 45 281.8 C48 283.3 49.3 287 48.9 291 C48.5 293.8 46 294.8 43.5 294.6 C40.5 294.3 38.9 292 38.5 289Z" fill="#bcbcbc" stroke="#555" stroke-width="0.45"/>
<path transform="translate(0.1999999999999993 0)" d="M40.2 285.5 C40.6 283.3 43 282.8 45 284 C47 285.2 47.6 288 47.3 290.5 C47 292.3 45.3 293 43.6 292.8 C41.5 292.5 40.5 291 40.3 289Z" fill="#d2d2d2" stroke="#777" stroke-width="0.4"/>
<ellipse cx="43.599999999999994" cy="289" rx="1.6" ry="1.7" fill="#fff"/>
<path transform="translate(0.1999999999999993 0)" d="M34 264 C34 260 42 259.8 47 260 C52 260.3 54 262 53.2 265.5 C52.5 269 49.5 273 47.5 277 C46 280 44 281.5 42 280.5 C39 279 37 277 35.8 274 C34.6 271 34 267 34 264Z" fill="#6c6c6c" stroke="#111" stroke-width="0.85"/>
<path transform="translate(0.1999999999999993 0)" d="M36 265 C36 261.5 42 261.5 46.5 262 C50.5 262.5 51.5 264 50.8 266.5 C50 269.5 47.5 273 45.8 276 C44 278 42 278 40.5 276.5 C38.5 274.5 36.8 271 36 268Z" fill="#828282" stroke="#2a2a2a" stroke-width="0.45"/>
<path transform="translate(0.1999999999999993 0)" d="M38.3 265.5 C38.3 263.3 42.5 263.2 45.5 263.6 C48 264 48.8 265 48.3 266.8 C47.6 269 46.1 271.5 44.9 273 C43.6 274.5 42 274.3 41 273 C39.5 271 38.3 268 38.3 265.5Z" fill="#9c9c9c" stroke="#3a3a3a" stroke-width="0.4"/>
<path transform="translate(0.1999999999999993 0)" d="M40.3 266 C40.3 264.6 43 264.5 45 264.8 C46.5 265.1 46.8 265.8 46.4 267 C45.9 268.5 45 270 44.2 270.8 C43.4 271.5 42.4 271.3 41.8 270.5 C40.9 269.3 40.3 267.5 40.3 266Z" fill="#b8b8b8" stroke="#555" stroke-width="0.35"/>
<ellipse cx="43.2" cy="266.6" rx="1.7" ry="1.1" fill="#f0f0f0"/>
<path transform="translate(0.1999999999999993 0)" d="M53.5 262.5 C56.5 262.3 59.2 264.3 60 267 C60.2 270 57.5 271.3 54.2 270.3" fill="none" stroke="#777" stroke-width="0.5"/>
<path transform="translate(0.1999999999999993 0)" d="M54.2 264.5 C56 264.5 57.5 265.6 57.8 267.2 C57.6 268.8 56 269.2 54.3 268.8" fill="none" stroke="#999" stroke-width="0.4"/>
<path transform="translate(0.1999999999999993 0)" d="M60.5 268.5 C64 267 69 268.5 71 271.5 C70.5 275 66 275.5 62 274.5" fill="none" stroke="#d8d8d8" stroke-width="0.4"/>
<path transform="translate(0.0 0)" d="M118.5 281 C124 279.5 130 278.5 136 277.5 C140.5 277.5 142.5 281 142 286 C141.5 291 140.5 294 138.8 295.5 C132 297 125 297 118.5 296Z" fill="#c4c4c4" stroke="#444" stroke-width="0.6"/>
<path transform="translate(0.0 0)" d="M121 283.6 C126 282.6 131.5 281.6 136.5 281 C139.5 281.5 139.8 285 139.3 288 C138.8 291 138 293 136.8 293.8 C131.5 294.6 126 294.6 121 294Z" fill="#a4a4a4" stroke="#333" stroke-width="0.45"/>
<ellipse cx="126.2" cy="290.4" rx="2.6" ry="1.4" fill="#fff" stroke="#666" stroke-width="0.4"/>
<ellipse cx="132.2" cy="290.4" rx="2.3" ry="1.3" fill="#fff" stroke="#666" stroke-width="0.4"/>
<path transform="translate(0.0 0)" d="M104.4 268 C104 262 108 261 113 261.4 C118 261.8 120.6 263 121 267 C121.5 275 121.1 286 120.6 292 C120.1 296 117 296.6 112 296.6 C106 296.6 104.5 295.6 104.3 291 C104 284 104.4 274 104.4 268Z" fill="#7e7e7e" stroke="#151515" stroke-width="0.85"/>
<path transform="translate(0.0 0)" d="M106.3 268.5 C106.3 264 109 263.4 113 263.9 C117 264.4 118.6 265.5 118.9 268.5 C119.1 276 118.9 286 118.4 291 C118.1 293.6 116 294.4 112 294.4 C108 294.4 106.4 293.6 106.2 290 C106.1 284 106.3 275 106.3 268.5Z" fill="#979797" stroke="#2a2a2a" stroke-width="0.5"/>
<path transform="translate(0.0 0)" d="M108.4 269.5 C108.4 266 110.8 265.6 113.4 266 C116 266.4 116.7 267.8 116.8 270.5 C116.9 276 116.4 281.5 115.8 285 C114.8 287.3 112.6 287.6 110.9 286.8 C109.2 285.8 108.5 282 108.5 277.5Z" fill="#ababab" stroke="#3a3a3a" stroke-width="0.45"/>
<path transform="translate(0.0 0)" d="M110.4 270.5 C110.4 268.2 111.8 267.9 113.4 268.2 C115 268.5 115.3 269.5 115.3 271.3 C115.3 275 115 278.5 114.5 280.5 C113.7 281.8 112.3 281.8 111.4 281 C110.6 280 110.4 277 110.4 274.5Z" fill="#c8c8c8" stroke="#555" stroke-width="0.4"/>
<ellipse cx="113.0" cy="270.6" rx="1.5" ry="1.6" fill="#f4f4f4"/>
<path transform="translate(0.0 0)" d="M109 288 C110 286.3 114 286.2 116 288 C117.2 290.5 115.8 292.6 113 292.9 C110.2 292.9 108.6 290.8 109 288Z" fill="#b0b0b0" stroke="#444" stroke-width="0.4"/>
<path transform="translate(0.0 0)" d="M121 263.5 C124 261.5 127.2 262.8 127 266 C126 270 124 274 125 278 C127 281 134 279 138 279.5 C141 280 142 282 141 284" fill="none" stroke="#8a8a8a" stroke-width="0.45"/>
<path transform="translate(0.0 0)" d="M121.8 267.5 C123.8 265.8 125 267.6 124.5 271 C123.5 275 123.2 278.8 125 281" fill="none" stroke="#aaa" stroke-width="0.4"/>
<path transform="translate(0.0 0)" d="M127 265 C131 263 137 265 139 268" fill="none" stroke="#d5d5d5" stroke-width="0.4"/>
<circle cx="132.5" cy="269.5" r="0.8" fill="none" stroke="#999" stroke-width="0.4"/>
<line x1="53.40" y1="245.20" x2="53.40" y2="304.20" stroke="#333" stroke-width="0.7"/>
<line x1="24.20" y1="281.30" x2="82.80" y2="281.30" stroke="#333" stroke-width="0.7"/>
<rect x="24.20" y="245.20" width="58.60" height="59.00" fill="none" stroke="#444" stroke-width="0.8"/>
<line x1="24.20" y1="248.20" x2="25.50" y2="248.20" stroke="#777" stroke-width="0.5"/>
<line x1="24.20" y1="255.77" x2="25.50" y2="255.77" stroke="#777" stroke-width="0.5"/>
<line x1="24.20" y1="263.34" x2="25.50" y2="263.34" stroke="#777" stroke-width="0.5"/>
<line x1="24.20" y1="270.91" x2="25.50" y2="270.91" stroke="#777" stroke-width="0.5"/>
<line x1="24.20" y1="278.49" x2="25.50" y2="278.49" stroke="#777" stroke-width="0.5"/>
<line x1="24.20" y1="286.06" x2="25.50" y2="286.06" stroke="#777" stroke-width="0.5"/>
<line x1="24.20" y1="293.63" x2="25.50" y2="293.63" stroke="#777" stroke-width="0.5"/>
<line x1="24.20" y1="301.20" x2="25.50" y2="301.20" stroke="#777" stroke-width="0.5"/>
<line x1="27.20" y1="304.20" x2="27.20" y2="302.90" stroke="#777" stroke-width="0.5"/>
<line x1="34.71" y1="304.20" x2="34.71" y2="302.90" stroke="#777" stroke-width="0.5"/>
<line x1="42.23" y1="304.20" x2="42.23" y2="302.90" stroke="#777" stroke-width="0.5"/>
<line x1="49.74" y1="304.20" x2="49.74" y2="302.90" stroke="#777" stroke-width="0.5"/>
<line x1="57.26" y1="304.20" x2="57.26" y2="302.90" stroke="#777" stroke-width="0.5"/>
<line x1="64.77" y1="304.20" x2="64.77" y2="302.90" stroke="#777" stroke-width="0.5"/>
<line x1="72.29" y1="304.20" x2="72.29" y2="302.90" stroke="#777" stroke-width="0.5"/>
<line x1="79.80" y1="304.20" x2="79.80" y2="302.90" stroke="#777" stroke-width="0.5"/>
<rect x="22.40" y="289.45" width="1.60" height="1.40" fill="#111"/>
<rect x="36.51" y="304.30" width="1.60" height="1.40" fill="#111"/>
<text x="34.10" y="252.50" font-size="6.9" text-anchor="middle" fill="#2a2a2a" stroke="#2a2a2a" stroke-width="0.16">72.2</text>
<text x="74.70" y="252.50" font-size="6.9" text-anchor="middle" fill="#2a2a2a" stroke="#2a2a2a" stroke-width="0.16">5.01</text>
<text x="34.30" y="300.60" font-size="6.9" text-anchor="middle" fill="#2a2a2a" stroke="#2a2a2a" stroke-width="0.16">14.2</text>
<text x="74.70" y="300.60" font-size="6.9" text-anchor="middle" fill="#2a2a2a" stroke="#2a2a2a" stroke-width="0.16">8.59</text>
<line x1="122.60" y1="245.20" x2="122.60" y2="304.20" stroke="#333" stroke-width="0.7"/>
<line x1="93.40" y1="281.30" x2="152.00" y2="281.30" stroke="#333" stroke-width="0.7"/>
<rect x="93.40" y="245.20" width="58.60" height="59.00" fill="none" stroke="#444" stroke-width="0.8"/>
<line x1="93.40" y1="248.20" x2="94.70" y2="248.20" stroke="#777" stroke-width="0.5"/>
<line x1="93.40" y1="255.77" x2="94.70" y2="255.77" stroke="#777" stroke-width="0.5"/>
<line x1="93.40" y1="263.34" x2="94.70" y2="263.34" stroke="#777" stroke-width="0.5"/>
<line x1="93.40" y1="270.91" x2="94.70" y2="270.91" stroke="#777" stroke-width="0.5"/>
<line x1="93.40" y1="278.49" x2="94.70" y2="278.49" stroke="#777" stroke-width="0.5"/>
<line x1="93.40" y1="286.06" x2="94.70" y2="286.06" stroke="#777" stroke-width="0.5"/>
<line x1="93.40" y1="293.63" x2="94.70" y2="293.63" stroke="#777" stroke-width="0.5"/>
<line x1="93.40" y1="301.20" x2="94.70" y2="301.20" stroke="#777" stroke-width="0.5"/>
<line x1="96.40" y1="304.20" x2="96.40" y2="302.90" stroke="#777" stroke-width="0.5"/>
<line x1="103.91" y1="304.20" x2="103.91" y2="302.90" stroke="#777" stroke-width="0.5"/>
<line x1="111.43" y1="304.20" x2="111.43" y2="302.90" stroke="#777" stroke-width="0.5"/>
<line x1="118.94" y1="304.20" x2="118.94" y2="302.90" stroke="#777" stroke-width="0.5"/>
<line x1="126.46" y1="304.20" x2="126.46" y2="302.90" stroke="#777" stroke-width="0.5"/>
<line x1="133.97" y1="304.20" x2="133.97" y2="302.90" stroke="#777" stroke-width="0.5"/>
<line x1="141.49" y1="304.20" x2="141.49" y2="302.90" stroke="#777" stroke-width="0.5"/>
<line x1="149.00" y1="304.20" x2="149.00" y2="302.90" stroke="#777" stroke-width="0.5"/>
<rect x="91.60" y="289.45" width="1.60" height="1.40" fill="#111"/>
<rect x="105.71" y="304.30" width="1.60" height="1.40" fill="#111"/>
<text x="103.30" y="252.50" font-size="6.9" text-anchor="middle" fill="#2a2a2a" stroke="#2a2a2a" stroke-width="0.16">50.0</text>
<text x="143.90" y="252.50" font-size="6.9" text-anchor="middle" fill="#2a2a2a" stroke="#2a2a2a" stroke-width="0.16">8.61</text>
<text x="103.50" y="300.60" font-size="6.9" text-anchor="middle" fill="#2a2a2a" stroke="#2a2a2a" stroke-width="0.16">22.4</text>
<text x="143.90" y="300.60" font-size="6.9" text-anchor="middle" fill="#2a2a2a" stroke="#2a2a2a" stroke-width="0.16">18.9</text></svg></body></html>
